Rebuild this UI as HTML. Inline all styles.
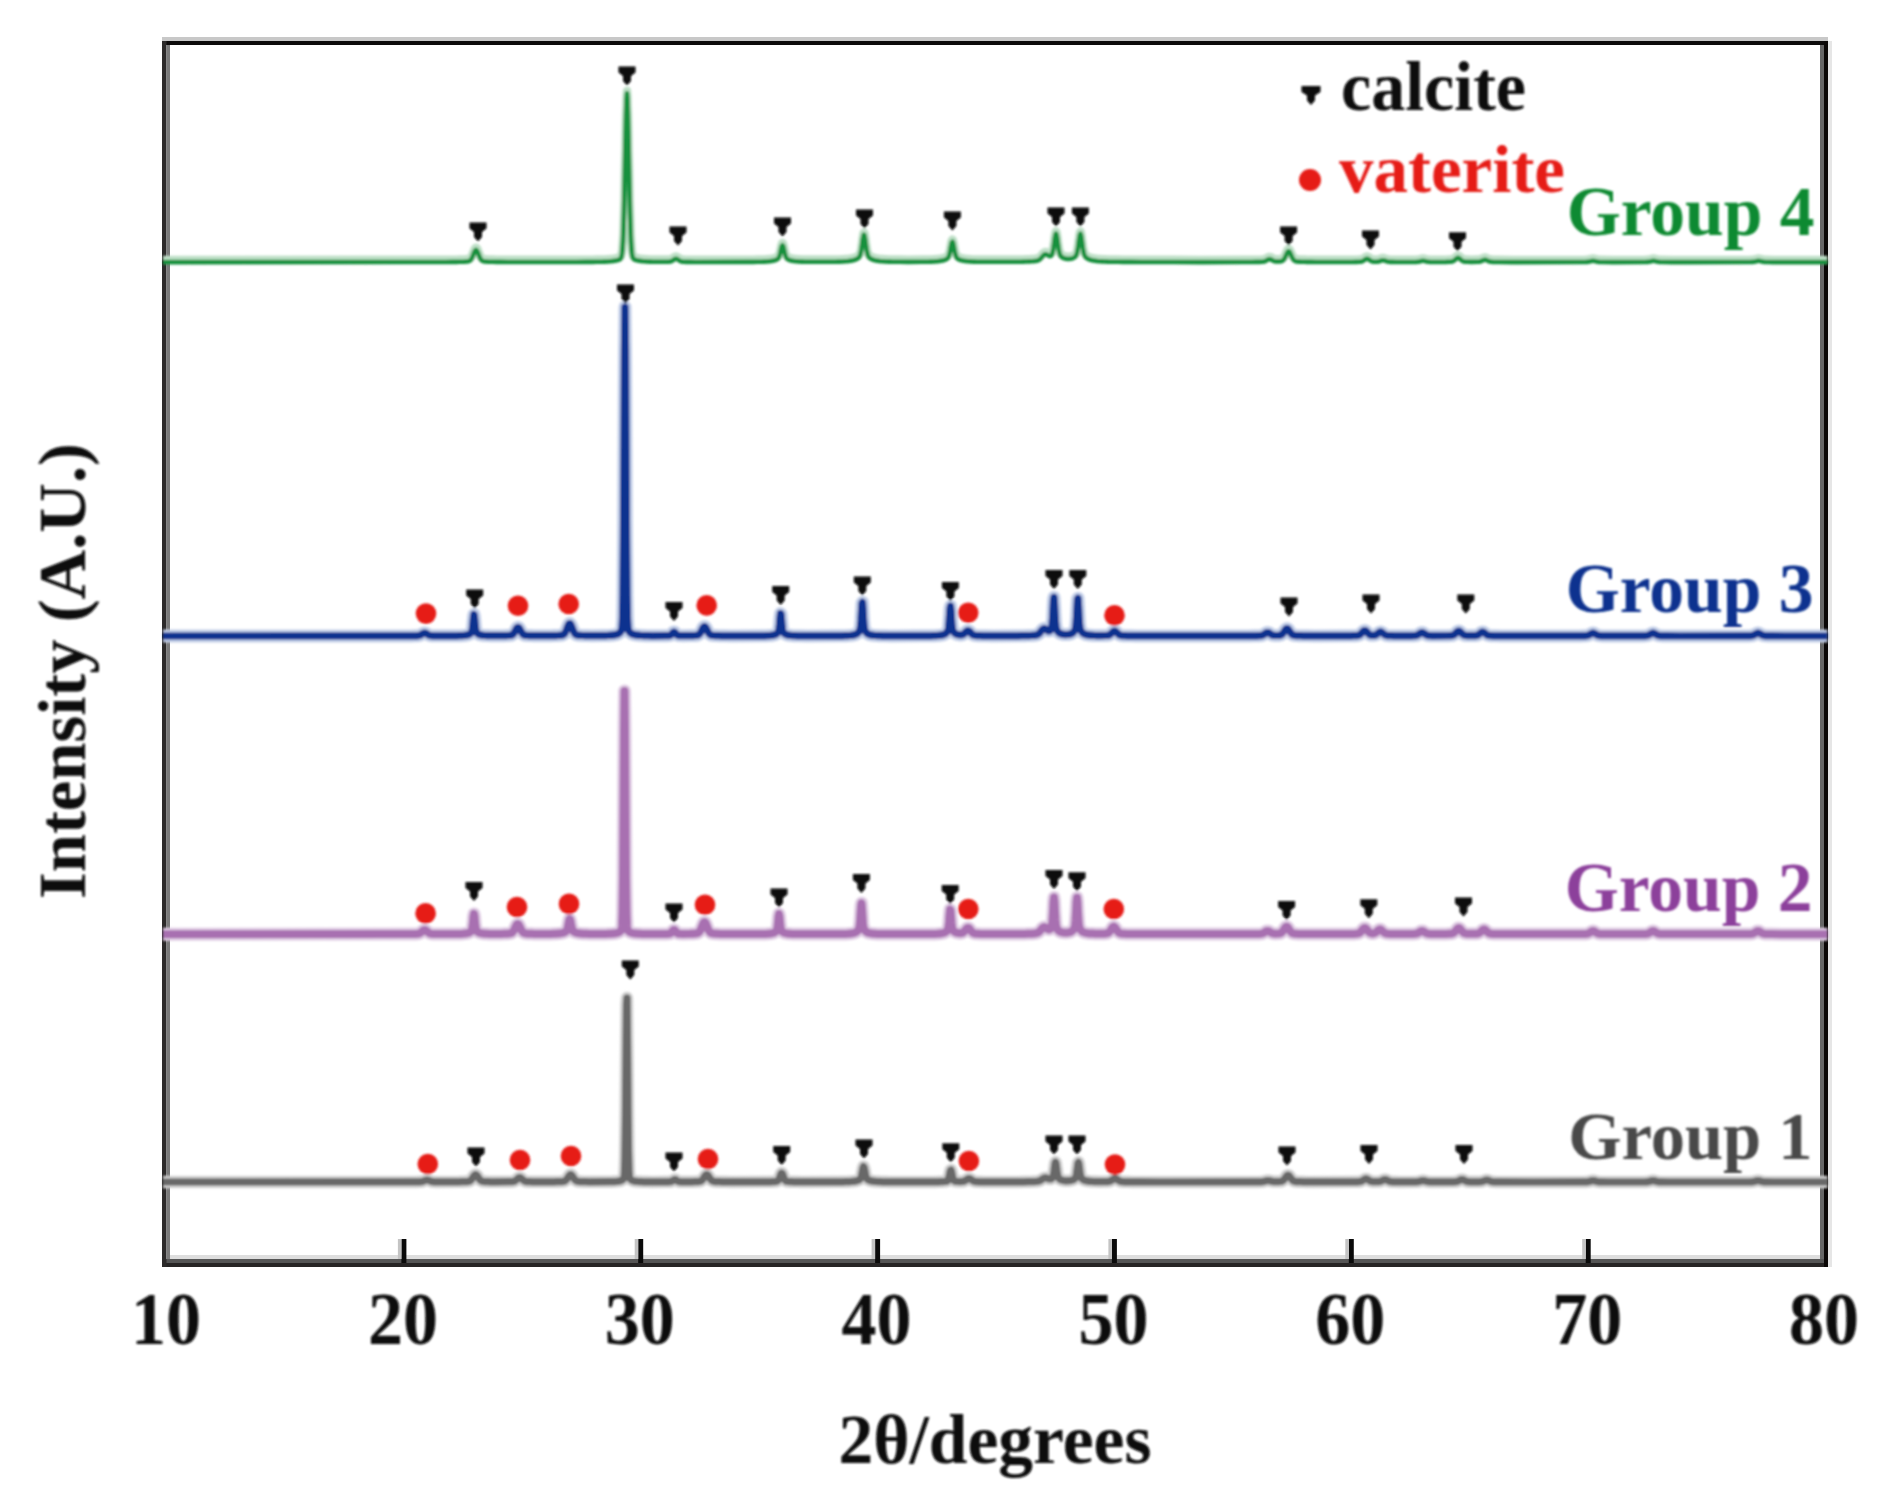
<!DOCTYPE html>
<html><head><meta charset="utf-8"><title>XRD patterns</title>
<style>
html,body{margin:0;padding:0;background:#fff;}
body{width:1882px;height:1490px;overflow:hidden;}
svg{display:block;}
text{font-family:"Liberation Serif","Times New Roman",serif;font-weight:bold;}
</style></head><body>
<svg width="1882" height="1490" viewBox="0 0 1882 1490">
<defs><filter id="b" x="-2%" y="-2%" width="104%" height="104%"><feGaussianBlur stdDeviation="1.1"/></filter></defs>
<rect width="1882" height="1490" fill="#fff"/>

<rect x="162" y="37" width="1666" height="4" fill="#c8c8c8"/>
<rect x="162" y="41" width="1666" height="4" fill="#0c0a0a"/>
<rect x="170" y="1255" width="1650" height="4" fill="#dedede"/>
<rect x="162" y="1259" width="1666" height="4" fill="#555"/>
<rect x="162" y="1263" width="1666" height="4" fill="#262424"/>
<rect x="162" y="41" width="4.5" height="1226" fill="#2c2a2a"/>
<rect x="166.5" y="45" width="3.5" height="1214" fill="#7a7a7a"/>
<rect x="1820" y="45" width="4" height="1214" fill="#666"/>
<rect x="1824" y="41" width="4" height="1226" fill="#0a0706"/>
<rect x="1828" y="41" width="4" height="1226" fill="#e6e6e6"/>
<rect x="401.4" y="1239" width="5" height="24" fill="#0a0a0a"/>
<rect x="397.9" y="1239" width="3.5" height="20" fill="#c4c4c4"/>
<rect x="638.2" y="1239" width="5" height="24" fill="#0a0a0a"/>
<rect x="634.7" y="1239" width="3.5" height="20" fill="#c4c4c4"/>
<rect x="875.1" y="1239" width="5" height="24" fill="#0a0a0a"/>
<rect x="871.6" y="1239" width="3.5" height="20" fill="#c4c4c4"/>
<rect x="1111.9" y="1239" width="5" height="24" fill="#0a0a0a"/>
<rect x="1108.4" y="1239" width="3.5" height="20" fill="#c4c4c4"/>
<rect x="1348.8" y="1239" width="5" height="24" fill="#0a0a0a"/>
<rect x="1345.3" y="1239" width="3.5" height="20" fill="#c4c4c4"/>
<rect x="1585.7" y="1239" width="5" height="24" fill="#0a0a0a"/>
<rect x="1582.2" y="1239" width="3.5" height="20" fill="#c4c4c4"/>
<g filter="url(#b)">
<path d="M163.0 1182.0 L407.5 1181.9 L416.5 1181.9 L419.5 1181.8 L420.5 1181.8 L421.0 1181.7 L421.5 1181.7 L422.0 1181.6 L422.5 1181.5 L423.0 1181.3 L423.5 1181.1 L424.0 1180.9 L424.5 1180.7 L425.0 1180.5 L425.5 1180.3 L426.0 1180.2 L426.5 1180.1 L427.5 1180.1 L428.0 1180.2 L428.5 1180.3 L429.0 1180.5 L429.5 1180.7 L430.0 1180.9 L430.5 1181.1 L431.0 1181.3 L431.5 1181.5 L432.0 1181.6 L432.5 1181.7 L433.0 1181.7 L434.0 1181.8 L436.0 1181.9 L459.0 1181.8 L462.0 1181.7 L464.0 1181.7 L465.5 1181.6 L467.0 1181.6 L467.5 1181.5 L468.0 1181.5 L468.5 1181.4 L469.0 1181.3 L469.5 1181.1 L470.0 1180.8 L470.5 1180.5 L471.0 1180.1 L471.5 1179.5 L472.0 1178.9 L472.5 1178.1 L473.0 1177.3 L473.5 1176.5 L474.0 1175.8 L474.5 1175.2 L475.0 1174.8 L475.5 1174.6 L476.0 1174.7 L476.5 1175.0 L477.0 1175.5 L477.5 1176.2 L478.0 1177.0 L478.5 1177.8 L479.0 1178.6 L479.5 1179.3 L480.0 1179.9 L480.5 1180.3 L481.0 1180.7 L481.5 1181.0 L482.0 1181.2 L482.5 1181.3 L483.0 1181.4 L483.5 1181.5 L484.5 1181.6 L486.0 1181.6 L488.0 1181.7 L490.5 1181.8 L495.0 1181.8 L509.0 1181.7 L511.0 1181.7 L512.0 1181.6 L512.5 1181.6 L513.0 1181.5 L513.5 1181.4 L514.0 1181.3 L514.5 1181.1 L515.0 1180.8 L515.5 1180.5 L516.0 1180.1 L516.5 1179.7 L517.0 1179.2 L517.5 1178.7 L518.0 1178.3 L518.5 1177.9 L519.0 1177.7 L519.5 1177.5 L520.0 1177.6 L520.5 1177.8 L521.0 1178.1 L521.5 1178.5 L522.0 1179.0 L522.5 1179.5 L523.0 1179.9 L523.5 1180.3 L524.0 1180.7 L524.5 1181.0 L525.0 1181.2 L525.5 1181.4 L526.0 1181.5 L526.5 1181.6 L527.0 1181.6 L528.0 1181.7 L529.5 1181.7 L532.5 1181.8 L538.5 1181.8 L554.0 1181.8 L557.0 1181.7 L559.0 1181.7 L560.5 1181.6 L562.0 1181.6 L562.5 1181.5 L563.0 1181.5 L563.5 1181.4 L564.0 1181.3 L564.5 1181.1 L565.0 1180.8 L565.5 1180.5 L566.0 1180.1 L566.5 1179.5 L567.0 1178.9 L567.5 1178.1 L568.0 1177.3 L568.5 1176.5 L569.0 1175.8 L569.5 1175.2 L570.0 1174.7 L570.5 1174.6 L571.0 1174.6 L571.5 1175.0 L572.0 1175.5 L572.5 1176.2 L573.0 1177.0 L573.5 1177.8 L574.0 1178.6 L574.5 1179.3 L575.0 1179.9 L575.5 1180.3 L576.0 1180.7 L576.5 1181.0 L577.0 1181.2 L577.5 1181.3 L578.0 1181.4 L578.5 1181.5 L579.5 1181.6 L581.0 1181.6 L583.0 1181.7 L585.5 1181.7 L589.5 1181.8 L610.0 1181.7 L612.0 1181.7 L613.5 1181.6 L615.0 1181.6 L616.0 1181.5 L617.0 1181.4 L617.5 1181.3 L618.0 1181.3 L618.5 1181.2 L619.0 1181.1 L619.5 1181.0 L620.0 1180.9 L620.5 1180.7 L621.0 1180.6 L621.5 1180.4 L622.0 1180.1 L622.5 1179.8 L623.0 1179.4 L623.5 1178.9 L624.0 1177.6 L624.5 1173.1 L625.0 1157.8 L625.5 1119.9 L626.0 1058.7 L626.5 1004.1 L627.0 998.0 L627.5 1045.8 L628.0 1109.0 L628.5 1152.3 L629.0 1171.3 L629.5 1177.1 L630.0 1178.7 L630.5 1179.3 L631.0 1179.7 L631.5 1180.0 L632.0 1180.3 L632.5 1180.5 L633.0 1180.7 L633.5 1180.9 L634.0 1181.0 L634.5 1181.1 L635.0 1181.2 L635.5 1181.3 L636.0 1181.3 L636.5 1181.4 L637.0 1181.4 L638.0 1181.5 L639.0 1181.6 L640.0 1181.6 L641.5 1181.7 L643.5 1181.8 L646.5 1181.8 L652.0 1181.9 L668.5 1181.8 L670.0 1181.7 L670.5 1181.7 L671.0 1181.6 L671.5 1181.4 L672.0 1181.2 L672.5 1180.9 L673.0 1180.5 L673.5 1180.1 L674.0 1179.8 L674.5 1179.6 L675.0 1179.5 L675.5 1179.6 L676.0 1179.9 L676.5 1180.3 L677.0 1180.7 L677.5 1181.0 L678.0 1181.3 L678.5 1181.5 L679.0 1181.6 L679.5 1181.7 L680.5 1181.8 L687.0 1181.8 L692.0 1181.8 L694.5 1181.7 L696.5 1181.6 L698.0 1181.6 L698.5 1181.5 L699.0 1181.5 L699.5 1181.4 L700.0 1181.3 L700.5 1181.1 L701.0 1180.9 L701.5 1180.6 L702.0 1180.2 L702.5 1179.7 L703.0 1179.0 L703.5 1178.3 L704.0 1177.5 L704.5 1176.7 L705.0 1175.9 L705.5 1175.3 L706.0 1174.8 L706.5 1174.6 L707.0 1174.6 L707.5 1174.9 L708.0 1175.4 L708.5 1176.1 L709.0 1176.9 L709.5 1177.7 L710.0 1178.5 L710.5 1179.2 L711.0 1179.8 L711.5 1180.3 L712.0 1180.7 L712.5 1181.0 L713.0 1181.2 L713.5 1181.3 L714.0 1181.4 L714.5 1181.5 L715.0 1181.6 L716.0 1181.6 L717.5 1181.7 L719.5 1181.7 L722.0 1181.8 L725.5 1181.8 L731.5 1181.9 L768.0 1181.8 L770.5 1181.8 L772.5 1181.7 L774.0 1181.6 L775.0 1181.6 L775.5 1181.5 L776.0 1181.5 L776.5 1181.4 L777.0 1181.2 L777.5 1181.0 L778.0 1180.6 L778.5 1179.9 L779.0 1179.0 L779.5 1177.7 L780.0 1176.3 L780.5 1174.9 L781.0 1173.7 L781.5 1173.1 L782.0 1173.2 L782.5 1173.9 L783.0 1175.1 L783.5 1176.6 L784.0 1178.0 L784.5 1179.2 L785.0 1180.1 L785.5 1180.7 L786.0 1181.1 L786.5 1181.3 L787.0 1181.4 L787.5 1181.5 L788.0 1181.5 L789.0 1181.6 L790.0 1181.7 L791.5 1181.7 L793.5 1181.8 L796.5 1181.8 L802.0 1181.9 L839.0 1181.8 L843.0 1181.8 L845.5 1181.7 L847.5 1181.7 L849.0 1181.6 L850.0 1181.6 L851.0 1181.5 L852.0 1181.4 L853.0 1181.3 L853.5 1181.3 L854.0 1181.2 L854.5 1181.1 L855.0 1181.1 L855.5 1181.0 L856.0 1180.9 L856.5 1180.8 L857.0 1180.6 L857.5 1180.5 L858.0 1180.3 L858.5 1180.1 L859.0 1179.9 L859.5 1179.6 L860.0 1179.2 L860.5 1178.5 L861.0 1177.4 L861.5 1175.6 L862.0 1173.1 L862.5 1170.3 L863.0 1167.8 L863.5 1166.6 L864.0 1167.2 L864.5 1169.2 L865.0 1172.0 L865.5 1174.7 L866.0 1176.7 L866.5 1178.1 L867.0 1178.9 L867.5 1179.4 L868.0 1179.8 L868.5 1180.0 L869.0 1180.2 L869.5 1180.4 L870.0 1180.6 L870.5 1180.7 L871.0 1180.8 L871.5 1180.9 L872.0 1181.0 L872.5 1181.1 L873.0 1181.2 L873.5 1181.2 L874.0 1181.3 L874.5 1181.4 L875.5 1181.4 L876.5 1181.5 L877.5 1181.6 L879.0 1181.6 L880.5 1181.7 L882.5 1181.8 L885.5 1181.8 L890.0 1181.9 L899.5 1181.9 L935.5 1181.9 L939.0 1181.8 L941.0 1181.7 L942.5 1181.7 L943.5 1181.6 L944.5 1181.5 L945.0 1181.5 L945.5 1181.4 L946.0 1181.4 L946.5 1181.3 L947.0 1181.1 L947.5 1180.8 L948.0 1180.1 L948.5 1178.9 L949.0 1176.9 L949.5 1174.4 L950.0 1171.9 L950.5 1170.2 L951.0 1170.0 L951.5 1171.5 L952.0 1173.9 L952.5 1176.4 L953.0 1178.5 L953.5 1179.9 L954.0 1180.6 L954.5 1181.0 L955.0 1181.2 L955.5 1181.3 L956.0 1181.4 L957.0 1181.5 L958.0 1181.5 L959.5 1181.6 L962.5 1181.5 L963.0 1181.4 L963.5 1181.3 L964.0 1181.2 L964.5 1181.0 L965.0 1180.7 L965.5 1180.4 L966.0 1180.1 L966.5 1179.7 L967.0 1179.3 L967.5 1179.0 L968.0 1178.7 L968.5 1178.6 L969.0 1178.5 L969.5 1178.6 L970.0 1178.8 L970.5 1179.0 L971.0 1179.4 L971.5 1179.7 L972.0 1180.1 L972.5 1180.5 L973.0 1180.8 L973.5 1181.0 L974.0 1181.2 L974.5 1181.4 L975.0 1181.5 L975.5 1181.6 L976.0 1181.7 L977.0 1181.7 L979.5 1181.8 L983.5 1181.9 L992.5 1181.9 L1018.0 1181.9 L1024.0 1181.8 L1028.0 1181.7 L1031.0 1181.7 L1033.0 1181.6 L1034.5 1181.6 L1036.0 1181.5 L1036.5 1181.5 L1037.0 1181.4 L1037.5 1181.3 L1038.0 1181.2 L1038.5 1181.1 L1039.0 1181.0 L1039.5 1180.8 L1040.0 1180.6 L1040.5 1180.3 L1041.0 1180.0 L1041.5 1179.7 L1042.0 1179.4 L1042.5 1179.0 L1043.0 1178.7 L1043.5 1178.4 L1044.0 1178.1 L1044.5 1177.9 L1045.0 1177.9 L1045.5 1177.8 L1046.0 1177.9 L1046.5 1178.0 L1047.0 1178.2 L1047.5 1178.4 L1048.0 1178.6 L1048.5 1178.8 L1049.0 1178.9 L1049.5 1179.0 L1050.5 1179.0 L1051.0 1178.9 L1051.5 1178.7 L1052.0 1178.3 L1052.5 1177.7 L1053.0 1176.6 L1053.5 1174.5 L1054.0 1171.2 L1054.5 1167.1 L1055.0 1163.5 L1055.5 1162.1 L1056.0 1163.5 L1056.5 1167.1 L1057.0 1171.3 L1057.5 1174.6 L1058.0 1176.7 L1058.5 1177.9 L1059.0 1178.5 L1059.5 1179.0 L1060.0 1179.3 L1060.5 1179.6 L1061.0 1179.8 L1061.5 1180.0 L1062.0 1180.1 L1062.5 1180.3 L1063.0 1180.4 L1063.5 1180.5 L1064.0 1180.6 L1064.5 1180.6 L1065.0 1180.7 L1066.0 1180.8 L1069.0 1180.7 L1069.5 1180.7 L1070.0 1180.6 L1070.5 1180.5 L1071.0 1180.4 L1071.5 1180.3 L1072.0 1180.2 L1072.5 1180.0 L1073.0 1179.8 L1073.5 1179.6 L1074.0 1179.3 L1074.5 1178.9 L1075.0 1178.5 L1075.5 1177.8 L1076.0 1176.4 L1076.5 1174.1 L1077.0 1170.6 L1077.5 1166.4 L1078.0 1163.1 L1078.5 1162.3 L1079.0 1164.3 L1079.5 1168.1 L1080.0 1172.2 L1080.5 1175.3 L1081.0 1177.1 L1081.5 1178.2 L1082.0 1178.8 L1082.5 1179.2 L1083.0 1179.5 L1083.5 1179.8 L1084.0 1180.1 L1084.5 1180.3 L1085.0 1180.4 L1085.5 1180.6 L1086.0 1180.7 L1086.5 1180.8 L1087.0 1180.9 L1087.5 1181.0 L1088.0 1181.1 L1088.5 1181.2 L1089.0 1181.2 L1089.5 1181.3 L1090.5 1181.4 L1091.5 1181.4 L1092.5 1181.5 L1094.0 1181.6 L1096.0 1181.6 L1099.0 1181.7 L1108.0 1181.6 L1108.5 1181.5 L1109.0 1181.4 L1109.5 1181.3 L1110.0 1181.2 L1110.5 1181.0 L1111.0 1180.7 L1111.5 1180.4 L1112.0 1180.1 L1112.5 1179.7 L1113.0 1179.3 L1113.5 1179.0 L1114.0 1178.7 L1114.5 1178.6 L1115.0 1178.5 L1115.5 1178.6 L1116.0 1178.7 L1116.5 1179.0 L1117.0 1179.3 L1117.5 1179.7 L1118.0 1180.1 L1118.5 1180.4 L1119.0 1180.7 L1119.5 1181.0 L1120.0 1181.2 L1120.5 1181.4 L1121.0 1181.5 L1121.5 1181.6 L1122.0 1181.6 L1123.0 1181.7 L1124.5 1181.8 L1127.5 1181.8 L1132.5 1181.9 L1139.5 1181.9 L1159.0 1182.0 L1250.5 1181.9 L1258.0 1181.9 L1261.0 1181.8 L1262.0 1181.7 L1262.5 1181.7 L1263.0 1181.6 L1263.5 1181.5 L1264.0 1181.4 L1264.5 1181.3 L1265.0 1181.1 L1265.5 1181.0 L1266.0 1180.8 L1266.5 1180.7 L1267.0 1180.6 L1267.5 1180.5 L1268.5 1180.5 L1269.0 1180.6 L1269.5 1180.7 L1270.0 1180.8 L1270.5 1180.9 L1271.0 1181.1 L1271.5 1181.2 L1272.0 1181.3 L1272.5 1181.4 L1273.0 1181.5 L1273.5 1181.6 L1274.5 1181.6 L1279.0 1181.6 L1280.0 1181.5 L1280.5 1181.5 L1281.0 1181.4 L1281.5 1181.3 L1282.0 1181.1 L1282.5 1180.9 L1283.0 1180.5 L1283.5 1180.1 L1284.0 1179.6 L1284.5 1179.0 L1285.0 1178.3 L1285.5 1177.5 L1286.0 1176.8 L1286.5 1176.2 L1287.0 1175.6 L1287.5 1175.3 L1288.0 1175.2 L1288.5 1175.3 L1289.0 1175.6 L1289.5 1176.2 L1290.0 1176.8 L1290.5 1177.6 L1291.0 1178.3 L1291.5 1179.0 L1292.0 1179.6 L1292.5 1180.1 L1293.0 1180.6 L1293.5 1180.9 L1294.0 1181.1 L1294.5 1181.3 L1295.0 1181.4 L1295.5 1181.5 L1296.0 1181.6 L1297.0 1181.6 L1298.5 1181.7 L1300.5 1181.7 L1303.0 1181.8 L1306.5 1181.9 L1313.0 1181.9 L1354.5 1181.8 L1357.5 1181.8 L1359.0 1181.7 L1359.5 1181.7 L1360.0 1181.6 L1360.5 1181.5 L1361.0 1181.3 L1361.5 1181.1 L1362.0 1180.9 L1362.5 1180.6 L1363.0 1180.3 L1363.5 1180.0 L1364.0 1179.7 L1364.5 1179.4 L1365.0 1179.1 L1365.5 1179.0 L1366.0 1178.9 L1366.5 1179.0 L1367.0 1179.1 L1367.5 1179.4 L1368.0 1179.7 L1368.5 1180.0 L1369.0 1180.3 L1369.5 1180.6 L1370.0 1180.9 L1370.5 1181.1 L1371.0 1181.3 L1371.5 1181.4 L1372.0 1181.5 L1372.5 1181.6 L1373.5 1181.7 L1378.5 1181.6 L1379.0 1181.6 L1379.5 1181.5 L1380.0 1181.4 L1380.5 1181.3 L1381.0 1181.1 L1381.5 1180.9 L1382.0 1180.6 L1382.5 1180.4 L1383.0 1180.1 L1383.5 1179.9 L1384.0 1179.7 L1384.5 1179.6 L1385.5 1179.6 L1386.0 1179.7 L1386.5 1179.9 L1387.0 1180.1 L1387.5 1180.4 L1388.0 1180.6 L1388.5 1180.9 L1389.0 1181.1 L1389.5 1181.3 L1390.0 1181.4 L1390.5 1181.6 L1391.0 1181.6 L1391.5 1181.7 L1392.5 1181.8 L1394.5 1181.8 L1399.5 1181.9 L1416.5 1181.8 L1417.5 1181.7 L1418.0 1181.7 L1418.5 1181.6 L1419.0 1181.5 L1419.5 1181.3 L1420.0 1181.2 L1420.5 1181.1 L1421.0 1180.9 L1421.5 1180.8 L1422.0 1180.7 L1422.5 1180.6 L1423.5 1180.6 L1424.0 1180.7 L1424.5 1180.8 L1425.0 1180.9 L1425.5 1181.1 L1426.0 1181.2 L1426.5 1181.3 L1427.0 1181.5 L1427.5 1181.6 L1428.0 1181.7 L1428.5 1181.7 L1429.5 1181.8 L1431.0 1181.9 L1454.0 1181.8 L1455.5 1181.7 L1456.0 1181.7 L1456.5 1181.6 L1457.0 1181.5 L1457.5 1181.3 L1458.0 1181.1 L1458.5 1180.9 L1459.0 1180.7 L1459.5 1180.4 L1460.0 1180.1 L1460.5 1179.9 L1461.0 1179.7 L1461.5 1179.6 L1462.5 1179.6 L1463.0 1179.7 L1463.5 1179.9 L1464.0 1180.1 L1464.5 1180.4 L1465.0 1180.7 L1465.5 1180.9 L1466.0 1181.1 L1466.5 1181.3 L1467.0 1181.5 L1467.5 1181.6 L1468.0 1181.7 L1468.5 1181.7 L1469.5 1181.8 L1472.0 1181.8 L1480.0 1181.8 L1480.5 1181.7 L1481.0 1181.7 L1481.5 1181.6 L1482.0 1181.5 L1482.5 1181.4 L1483.0 1181.2 L1483.5 1181.0 L1484.0 1180.8 L1484.5 1180.6 L1485.0 1180.4 L1485.5 1180.3 L1486.0 1180.1 L1486.5 1180.1 L1487.0 1180.1 L1487.5 1180.1 L1488.0 1180.2 L1488.5 1180.4 L1489.0 1180.6 L1489.5 1180.8 L1490.0 1181.0 L1490.5 1181.2 L1491.0 1181.4 L1491.5 1181.5 L1492.0 1181.6 L1492.5 1181.7 L1493.0 1181.8 L1494.0 1181.8 L1496.0 1181.9 L1502.0 1181.9 L1533.5 1182.0 L1583.0 1181.9 L1586.0 1181.9 L1587.0 1181.8 L1587.5 1181.8 L1588.0 1181.7 L1588.5 1181.6 L1589.0 1181.5 L1589.5 1181.4 L1590.0 1181.2 L1590.5 1181.1 L1591.0 1180.9 L1591.5 1180.8 L1592.0 1180.7 L1592.5 1180.6 L1593.5 1180.6 L1594.0 1180.7 L1594.5 1180.8 L1595.0 1180.9 L1595.5 1181.1 L1596.0 1181.2 L1596.5 1181.4 L1597.0 1181.5 L1597.5 1181.6 L1598.0 1181.7 L1598.5 1181.8 L1599.5 1181.9 L1601.0 1181.9 L1608.5 1182.0 L1645.5 1181.9 L1647.0 1181.8 L1647.5 1181.8 L1648.0 1181.7 L1648.5 1181.6 L1649.0 1181.5 L1649.5 1181.4 L1650.0 1181.2 L1650.5 1181.1 L1651.0 1180.9 L1651.5 1180.8 L1652.0 1180.7 L1652.5 1180.6 L1653.5 1180.6 L1654.0 1180.7 L1654.5 1180.8 L1655.0 1180.9 L1655.5 1181.1 L1656.0 1181.2 L1656.5 1181.4 L1657.0 1181.5 L1657.5 1181.6 L1658.0 1181.7 L1658.5 1181.8 L1659.5 1181.9 L1661.0 1181.9 L1668.0 1182.0 L1750.5 1181.9 L1752.0 1181.8 L1752.5 1181.8 L1753.0 1181.7 L1753.5 1181.6 L1754.0 1181.5 L1754.5 1181.4 L1755.0 1181.2 L1755.5 1181.1 L1756.0 1180.9 L1756.5 1180.8 L1757.0 1180.7 L1757.5 1180.6 L1758.5 1180.6 L1759.0 1180.7 L1759.5 1180.8 L1760.0 1180.9 L1760.5 1181.1 L1761.0 1181.2 L1761.5 1181.4 L1762.0 1181.5 L1762.5 1181.6 L1763.0 1181.7 L1763.5 1181.8 L1764.5 1181.9 L1766.0 1181.9 L1773.0 1182.0 L1827.5 1182.0" transform="translate(0 0.0)" fill="none" stroke="#d2d2d2" stroke-width="12.5" stroke-linejoin="round"/>
<path d="M163.0 1182.0 L407.5 1181.9 L416.5 1181.9 L419.5 1181.8 L420.5 1181.8 L421.0 1181.7 L421.5 1181.7 L422.0 1181.6 L422.5 1181.5 L423.0 1181.3 L423.5 1181.1 L424.0 1180.9 L424.5 1180.7 L425.0 1180.5 L425.5 1180.3 L426.0 1180.2 L426.5 1180.1 L427.5 1180.1 L428.0 1180.2 L428.5 1180.3 L429.0 1180.5 L429.5 1180.7 L430.0 1180.9 L430.5 1181.1 L431.0 1181.3 L431.5 1181.5 L432.0 1181.6 L432.5 1181.7 L433.0 1181.7 L434.0 1181.8 L436.0 1181.9 L459.0 1181.8 L462.0 1181.7 L464.0 1181.7 L465.5 1181.6 L467.0 1181.6 L467.5 1181.5 L468.0 1181.5 L468.5 1181.4 L469.0 1181.3 L469.5 1181.1 L470.0 1180.8 L470.5 1180.5 L471.0 1180.1 L471.5 1179.5 L472.0 1178.9 L472.5 1178.1 L473.0 1177.3 L473.5 1176.5 L474.0 1175.8 L474.5 1175.2 L475.0 1174.8 L475.5 1174.6 L476.0 1174.7 L476.5 1175.0 L477.0 1175.5 L477.5 1176.2 L478.0 1177.0 L478.5 1177.8 L479.0 1178.6 L479.5 1179.3 L480.0 1179.9 L480.5 1180.3 L481.0 1180.7 L481.5 1181.0 L482.0 1181.2 L482.5 1181.3 L483.0 1181.4 L483.5 1181.5 L484.5 1181.6 L486.0 1181.6 L488.0 1181.7 L490.5 1181.8 L495.0 1181.8 L509.0 1181.7 L511.0 1181.7 L512.0 1181.6 L512.5 1181.6 L513.0 1181.5 L513.5 1181.4 L514.0 1181.3 L514.5 1181.1 L515.0 1180.8 L515.5 1180.5 L516.0 1180.1 L516.5 1179.7 L517.0 1179.2 L517.5 1178.7 L518.0 1178.3 L518.5 1177.9 L519.0 1177.7 L519.5 1177.5 L520.0 1177.6 L520.5 1177.8 L521.0 1178.1 L521.5 1178.5 L522.0 1179.0 L522.5 1179.5 L523.0 1179.9 L523.5 1180.3 L524.0 1180.7 L524.5 1181.0 L525.0 1181.2 L525.5 1181.4 L526.0 1181.5 L526.5 1181.6 L527.0 1181.6 L528.0 1181.7 L529.5 1181.7 L532.5 1181.8 L538.5 1181.8 L554.0 1181.8 L557.0 1181.7 L559.0 1181.7 L560.5 1181.6 L562.0 1181.6 L562.5 1181.5 L563.0 1181.5 L563.5 1181.4 L564.0 1181.3 L564.5 1181.1 L565.0 1180.8 L565.5 1180.5 L566.0 1180.1 L566.5 1179.5 L567.0 1178.9 L567.5 1178.1 L568.0 1177.3 L568.5 1176.5 L569.0 1175.8 L569.5 1175.2 L570.0 1174.7 L570.5 1174.6 L571.0 1174.6 L571.5 1175.0 L572.0 1175.5 L572.5 1176.2 L573.0 1177.0 L573.5 1177.8 L574.0 1178.6 L574.5 1179.3 L575.0 1179.9 L575.5 1180.3 L576.0 1180.7 L576.5 1181.0 L577.0 1181.2 L577.5 1181.3 L578.0 1181.4 L578.5 1181.5 L579.5 1181.6 L581.0 1181.6 L583.0 1181.7 L585.5 1181.7 L589.5 1181.8 L610.0 1181.7 L612.0 1181.7 L613.5 1181.6 L615.0 1181.6 L616.0 1181.5 L617.0 1181.4 L617.5 1181.3 L618.0 1181.3 L618.5 1181.2 L619.0 1181.1 L619.5 1181.0 L620.0 1180.9 L620.5 1180.7 L621.0 1180.6 L621.5 1180.4 L622.0 1180.1 L622.5 1179.8 L623.0 1179.4 L623.5 1178.9 L624.0 1177.6 L624.5 1173.1 L625.0 1157.8 L625.5 1119.9 L626.0 1058.7 L626.5 1004.1 L627.0 998.0 L627.5 1045.8 L628.0 1109.0 L628.5 1152.3 L629.0 1171.3 L629.5 1177.1 L630.0 1178.7 L630.5 1179.3 L631.0 1179.7 L631.5 1180.0 L632.0 1180.3 L632.5 1180.5 L633.0 1180.7 L633.5 1180.9 L634.0 1181.0 L634.5 1181.1 L635.0 1181.2 L635.5 1181.3 L636.0 1181.3 L636.5 1181.4 L637.0 1181.4 L638.0 1181.5 L639.0 1181.6 L640.0 1181.6 L641.5 1181.7 L643.5 1181.8 L646.5 1181.8 L652.0 1181.9 L668.5 1181.8 L670.0 1181.7 L670.5 1181.7 L671.0 1181.6 L671.5 1181.4 L672.0 1181.2 L672.5 1180.9 L673.0 1180.5 L673.5 1180.1 L674.0 1179.8 L674.5 1179.6 L675.0 1179.5 L675.5 1179.6 L676.0 1179.9 L676.5 1180.3 L677.0 1180.7 L677.5 1181.0 L678.0 1181.3 L678.5 1181.5 L679.0 1181.6 L679.5 1181.7 L680.5 1181.8 L687.0 1181.8 L692.0 1181.8 L694.5 1181.7 L696.5 1181.6 L698.0 1181.6 L698.5 1181.5 L699.0 1181.5 L699.5 1181.4 L700.0 1181.3 L700.5 1181.1 L701.0 1180.9 L701.5 1180.6 L702.0 1180.2 L702.5 1179.7 L703.0 1179.0 L703.5 1178.3 L704.0 1177.5 L704.5 1176.7 L705.0 1175.9 L705.5 1175.3 L706.0 1174.8 L706.5 1174.6 L707.0 1174.6 L707.5 1174.9 L708.0 1175.4 L708.5 1176.1 L709.0 1176.9 L709.5 1177.7 L710.0 1178.5 L710.5 1179.2 L711.0 1179.8 L711.5 1180.3 L712.0 1180.7 L712.5 1181.0 L713.0 1181.2 L713.5 1181.3 L714.0 1181.4 L714.5 1181.5 L715.0 1181.6 L716.0 1181.6 L717.5 1181.7 L719.5 1181.7 L722.0 1181.8 L725.5 1181.8 L731.5 1181.9 L768.0 1181.8 L770.5 1181.8 L772.5 1181.7 L774.0 1181.6 L775.0 1181.6 L775.5 1181.5 L776.0 1181.5 L776.5 1181.4 L777.0 1181.2 L777.5 1181.0 L778.0 1180.6 L778.5 1179.9 L779.0 1179.0 L779.5 1177.7 L780.0 1176.3 L780.5 1174.9 L781.0 1173.7 L781.5 1173.1 L782.0 1173.2 L782.5 1173.9 L783.0 1175.1 L783.5 1176.6 L784.0 1178.0 L784.5 1179.2 L785.0 1180.1 L785.5 1180.7 L786.0 1181.1 L786.5 1181.3 L787.0 1181.4 L787.5 1181.5 L788.0 1181.5 L789.0 1181.6 L790.0 1181.7 L791.5 1181.7 L793.5 1181.8 L796.5 1181.8 L802.0 1181.9 L839.0 1181.8 L843.0 1181.8 L845.5 1181.7 L847.5 1181.7 L849.0 1181.6 L850.0 1181.6 L851.0 1181.5 L852.0 1181.4 L853.0 1181.3 L853.5 1181.3 L854.0 1181.2 L854.5 1181.1 L855.0 1181.1 L855.5 1181.0 L856.0 1180.9 L856.5 1180.8 L857.0 1180.6 L857.5 1180.5 L858.0 1180.3 L858.5 1180.1 L859.0 1179.9 L859.5 1179.6 L860.0 1179.2 L860.5 1178.5 L861.0 1177.4 L861.5 1175.6 L862.0 1173.1 L862.5 1170.3 L863.0 1167.8 L863.5 1166.6 L864.0 1167.2 L864.5 1169.2 L865.0 1172.0 L865.5 1174.7 L866.0 1176.7 L866.5 1178.1 L867.0 1178.9 L867.5 1179.4 L868.0 1179.8 L868.5 1180.0 L869.0 1180.2 L869.5 1180.4 L870.0 1180.6 L870.5 1180.7 L871.0 1180.8 L871.5 1180.9 L872.0 1181.0 L872.5 1181.1 L873.0 1181.2 L873.5 1181.2 L874.0 1181.3 L874.5 1181.4 L875.5 1181.4 L876.5 1181.5 L877.5 1181.6 L879.0 1181.6 L880.5 1181.7 L882.5 1181.8 L885.5 1181.8 L890.0 1181.9 L899.5 1181.9 L935.5 1181.9 L939.0 1181.8 L941.0 1181.7 L942.5 1181.7 L943.5 1181.6 L944.5 1181.5 L945.0 1181.5 L945.5 1181.4 L946.0 1181.4 L946.5 1181.3 L947.0 1181.1 L947.5 1180.8 L948.0 1180.1 L948.5 1178.9 L949.0 1176.9 L949.5 1174.4 L950.0 1171.9 L950.5 1170.2 L951.0 1170.0 L951.5 1171.5 L952.0 1173.9 L952.5 1176.4 L953.0 1178.5 L953.5 1179.9 L954.0 1180.6 L954.5 1181.0 L955.0 1181.2 L955.5 1181.3 L956.0 1181.4 L957.0 1181.5 L958.0 1181.5 L959.5 1181.6 L962.5 1181.5 L963.0 1181.4 L963.5 1181.3 L964.0 1181.2 L964.5 1181.0 L965.0 1180.7 L965.5 1180.4 L966.0 1180.1 L966.5 1179.7 L967.0 1179.3 L967.5 1179.0 L968.0 1178.7 L968.5 1178.6 L969.0 1178.5 L969.5 1178.6 L970.0 1178.8 L970.5 1179.0 L971.0 1179.4 L971.5 1179.7 L972.0 1180.1 L972.5 1180.5 L973.0 1180.8 L973.5 1181.0 L974.0 1181.2 L974.5 1181.4 L975.0 1181.5 L975.5 1181.6 L976.0 1181.7 L977.0 1181.7 L979.5 1181.8 L983.5 1181.9 L992.5 1181.9 L1018.0 1181.9 L1024.0 1181.8 L1028.0 1181.7 L1031.0 1181.7 L1033.0 1181.6 L1034.5 1181.6 L1036.0 1181.5 L1036.5 1181.5 L1037.0 1181.4 L1037.5 1181.3 L1038.0 1181.2 L1038.5 1181.1 L1039.0 1181.0 L1039.5 1180.8 L1040.0 1180.6 L1040.5 1180.3 L1041.0 1180.0 L1041.5 1179.7 L1042.0 1179.4 L1042.5 1179.0 L1043.0 1178.7 L1043.5 1178.4 L1044.0 1178.1 L1044.5 1177.9 L1045.0 1177.9 L1045.5 1177.8 L1046.0 1177.9 L1046.5 1178.0 L1047.0 1178.2 L1047.5 1178.4 L1048.0 1178.6 L1048.5 1178.8 L1049.0 1178.9 L1049.5 1179.0 L1050.5 1179.0 L1051.0 1178.9 L1051.5 1178.7 L1052.0 1178.3 L1052.5 1177.7 L1053.0 1176.6 L1053.5 1174.5 L1054.0 1171.2 L1054.5 1167.1 L1055.0 1163.5 L1055.5 1162.1 L1056.0 1163.5 L1056.5 1167.1 L1057.0 1171.3 L1057.5 1174.6 L1058.0 1176.7 L1058.5 1177.9 L1059.0 1178.5 L1059.5 1179.0 L1060.0 1179.3 L1060.5 1179.6 L1061.0 1179.8 L1061.5 1180.0 L1062.0 1180.1 L1062.5 1180.3 L1063.0 1180.4 L1063.5 1180.5 L1064.0 1180.6 L1064.5 1180.6 L1065.0 1180.7 L1066.0 1180.8 L1069.0 1180.7 L1069.5 1180.7 L1070.0 1180.6 L1070.5 1180.5 L1071.0 1180.4 L1071.5 1180.3 L1072.0 1180.2 L1072.5 1180.0 L1073.0 1179.8 L1073.5 1179.6 L1074.0 1179.3 L1074.5 1178.9 L1075.0 1178.5 L1075.5 1177.8 L1076.0 1176.4 L1076.5 1174.1 L1077.0 1170.6 L1077.5 1166.4 L1078.0 1163.1 L1078.5 1162.3 L1079.0 1164.3 L1079.5 1168.1 L1080.0 1172.2 L1080.5 1175.3 L1081.0 1177.1 L1081.5 1178.2 L1082.0 1178.8 L1082.5 1179.2 L1083.0 1179.5 L1083.5 1179.8 L1084.0 1180.1 L1084.5 1180.3 L1085.0 1180.4 L1085.5 1180.6 L1086.0 1180.7 L1086.5 1180.8 L1087.0 1180.9 L1087.5 1181.0 L1088.0 1181.1 L1088.5 1181.2 L1089.0 1181.2 L1089.5 1181.3 L1090.5 1181.4 L1091.5 1181.4 L1092.5 1181.5 L1094.0 1181.6 L1096.0 1181.6 L1099.0 1181.7 L1108.0 1181.6 L1108.5 1181.5 L1109.0 1181.4 L1109.5 1181.3 L1110.0 1181.2 L1110.5 1181.0 L1111.0 1180.7 L1111.5 1180.4 L1112.0 1180.1 L1112.5 1179.7 L1113.0 1179.3 L1113.5 1179.0 L1114.0 1178.7 L1114.5 1178.6 L1115.0 1178.5 L1115.5 1178.6 L1116.0 1178.7 L1116.5 1179.0 L1117.0 1179.3 L1117.5 1179.7 L1118.0 1180.1 L1118.5 1180.4 L1119.0 1180.7 L1119.5 1181.0 L1120.0 1181.2 L1120.5 1181.4 L1121.0 1181.5 L1121.5 1181.6 L1122.0 1181.6 L1123.0 1181.7 L1124.5 1181.8 L1127.5 1181.8 L1132.5 1181.9 L1139.5 1181.9 L1159.0 1182.0 L1250.5 1181.9 L1258.0 1181.9 L1261.0 1181.8 L1262.0 1181.7 L1262.5 1181.7 L1263.0 1181.6 L1263.5 1181.5 L1264.0 1181.4 L1264.5 1181.3 L1265.0 1181.1 L1265.5 1181.0 L1266.0 1180.8 L1266.5 1180.7 L1267.0 1180.6 L1267.5 1180.5 L1268.5 1180.5 L1269.0 1180.6 L1269.5 1180.7 L1270.0 1180.8 L1270.5 1180.9 L1271.0 1181.1 L1271.5 1181.2 L1272.0 1181.3 L1272.5 1181.4 L1273.0 1181.5 L1273.5 1181.6 L1274.5 1181.6 L1279.0 1181.6 L1280.0 1181.5 L1280.5 1181.5 L1281.0 1181.4 L1281.5 1181.3 L1282.0 1181.1 L1282.5 1180.9 L1283.0 1180.5 L1283.5 1180.1 L1284.0 1179.6 L1284.5 1179.0 L1285.0 1178.3 L1285.5 1177.5 L1286.0 1176.8 L1286.5 1176.2 L1287.0 1175.6 L1287.5 1175.3 L1288.0 1175.2 L1288.5 1175.3 L1289.0 1175.6 L1289.5 1176.2 L1290.0 1176.8 L1290.5 1177.6 L1291.0 1178.3 L1291.5 1179.0 L1292.0 1179.6 L1292.5 1180.1 L1293.0 1180.6 L1293.5 1180.9 L1294.0 1181.1 L1294.5 1181.3 L1295.0 1181.4 L1295.5 1181.5 L1296.0 1181.6 L1297.0 1181.6 L1298.5 1181.7 L1300.5 1181.7 L1303.0 1181.8 L1306.5 1181.9 L1313.0 1181.9 L1354.5 1181.8 L1357.5 1181.8 L1359.0 1181.7 L1359.5 1181.7 L1360.0 1181.6 L1360.5 1181.5 L1361.0 1181.3 L1361.5 1181.1 L1362.0 1180.9 L1362.5 1180.6 L1363.0 1180.3 L1363.5 1180.0 L1364.0 1179.7 L1364.5 1179.4 L1365.0 1179.1 L1365.5 1179.0 L1366.0 1178.9 L1366.5 1179.0 L1367.0 1179.1 L1367.5 1179.4 L1368.0 1179.7 L1368.5 1180.0 L1369.0 1180.3 L1369.5 1180.6 L1370.0 1180.9 L1370.5 1181.1 L1371.0 1181.3 L1371.5 1181.4 L1372.0 1181.5 L1372.5 1181.6 L1373.5 1181.7 L1378.5 1181.6 L1379.0 1181.6 L1379.5 1181.5 L1380.0 1181.4 L1380.5 1181.3 L1381.0 1181.1 L1381.5 1180.9 L1382.0 1180.6 L1382.5 1180.4 L1383.0 1180.1 L1383.5 1179.9 L1384.0 1179.7 L1384.5 1179.6 L1385.5 1179.6 L1386.0 1179.7 L1386.5 1179.9 L1387.0 1180.1 L1387.5 1180.4 L1388.0 1180.6 L1388.5 1180.9 L1389.0 1181.1 L1389.5 1181.3 L1390.0 1181.4 L1390.5 1181.6 L1391.0 1181.6 L1391.5 1181.7 L1392.5 1181.8 L1394.5 1181.8 L1399.5 1181.9 L1416.5 1181.8 L1417.5 1181.7 L1418.0 1181.7 L1418.5 1181.6 L1419.0 1181.5 L1419.5 1181.3 L1420.0 1181.2 L1420.5 1181.1 L1421.0 1180.9 L1421.5 1180.8 L1422.0 1180.7 L1422.5 1180.6 L1423.5 1180.6 L1424.0 1180.7 L1424.5 1180.8 L1425.0 1180.9 L1425.5 1181.1 L1426.0 1181.2 L1426.5 1181.3 L1427.0 1181.5 L1427.5 1181.6 L1428.0 1181.7 L1428.5 1181.7 L1429.5 1181.8 L1431.0 1181.9 L1454.0 1181.8 L1455.5 1181.7 L1456.0 1181.7 L1456.5 1181.6 L1457.0 1181.5 L1457.5 1181.3 L1458.0 1181.1 L1458.5 1180.9 L1459.0 1180.7 L1459.5 1180.4 L1460.0 1180.1 L1460.5 1179.9 L1461.0 1179.7 L1461.5 1179.6 L1462.5 1179.6 L1463.0 1179.7 L1463.5 1179.9 L1464.0 1180.1 L1464.5 1180.4 L1465.0 1180.7 L1465.5 1180.9 L1466.0 1181.1 L1466.5 1181.3 L1467.0 1181.5 L1467.5 1181.6 L1468.0 1181.7 L1468.5 1181.7 L1469.5 1181.8 L1472.0 1181.8 L1480.0 1181.8 L1480.5 1181.7 L1481.0 1181.7 L1481.5 1181.6 L1482.0 1181.5 L1482.5 1181.4 L1483.0 1181.2 L1483.5 1181.0 L1484.0 1180.8 L1484.5 1180.6 L1485.0 1180.4 L1485.5 1180.3 L1486.0 1180.1 L1486.5 1180.1 L1487.0 1180.1 L1487.5 1180.1 L1488.0 1180.2 L1488.5 1180.4 L1489.0 1180.6 L1489.5 1180.8 L1490.0 1181.0 L1490.5 1181.2 L1491.0 1181.4 L1491.5 1181.5 L1492.0 1181.6 L1492.5 1181.7 L1493.0 1181.8 L1494.0 1181.8 L1496.0 1181.9 L1502.0 1181.9 L1533.5 1182.0 L1583.0 1181.9 L1586.0 1181.9 L1587.0 1181.8 L1587.5 1181.8 L1588.0 1181.7 L1588.5 1181.6 L1589.0 1181.5 L1589.5 1181.4 L1590.0 1181.2 L1590.5 1181.1 L1591.0 1180.9 L1591.5 1180.8 L1592.0 1180.7 L1592.5 1180.6 L1593.5 1180.6 L1594.0 1180.7 L1594.5 1180.8 L1595.0 1180.9 L1595.5 1181.1 L1596.0 1181.2 L1596.5 1181.4 L1597.0 1181.5 L1597.5 1181.6 L1598.0 1181.7 L1598.5 1181.8 L1599.5 1181.9 L1601.0 1181.9 L1608.5 1182.0 L1645.5 1181.9 L1647.0 1181.8 L1647.5 1181.8 L1648.0 1181.7 L1648.5 1181.6 L1649.0 1181.5 L1649.5 1181.4 L1650.0 1181.2 L1650.5 1181.1 L1651.0 1180.9 L1651.5 1180.8 L1652.0 1180.7 L1652.5 1180.6 L1653.5 1180.6 L1654.0 1180.7 L1654.5 1180.8 L1655.0 1180.9 L1655.5 1181.1 L1656.0 1181.2 L1656.5 1181.4 L1657.0 1181.5 L1657.5 1181.6 L1658.0 1181.7 L1658.5 1181.8 L1659.5 1181.9 L1661.0 1181.9 L1668.0 1182.0 L1750.5 1181.9 L1752.0 1181.8 L1752.5 1181.8 L1753.0 1181.7 L1753.5 1181.6 L1754.0 1181.5 L1754.5 1181.4 L1755.0 1181.2 L1755.5 1181.1 L1756.0 1180.9 L1756.5 1180.8 L1757.0 1180.7 L1757.5 1180.6 L1758.5 1180.6 L1759.0 1180.7 L1759.5 1180.8 L1760.0 1180.9 L1760.5 1181.1 L1761.0 1181.2 L1761.5 1181.4 L1762.0 1181.5 L1762.5 1181.6 L1763.0 1181.7 L1763.5 1181.8 L1764.5 1181.9 L1766.0 1181.9 L1773.0 1182.0 L1827.5 1182.0" fill="none" stroke="#686868" stroke-width="7.2" stroke-linejoin="round"/>
<path d="M163.0 934.2 L398.5 934.1 L408.0 934.1 L412.5 934.0 L414.5 934.0 L416.5 933.9 L417.5 933.8 L418.0 933.8 L418.5 933.7 L419.0 933.5 L419.5 933.3 L420.0 933.1 L420.5 932.8 L421.0 932.4 L421.5 932.0 L422.0 931.5 L422.5 931.1 L423.0 930.7 L423.5 930.3 L424.0 930.1 L424.5 930.0 L425.0 930.0 L425.5 930.2 L426.0 930.5 L426.5 930.9 L427.0 931.3 L427.5 931.8 L428.0 932.2 L428.5 932.6 L429.0 933.0 L429.5 933.2 L430.0 933.5 L430.5 933.6 L431.0 933.7 L431.5 933.8 L432.0 933.9 L433.0 933.9 L435.0 934.0 L439.0 934.0 L457.0 934.0 L459.5 933.9 L461.0 933.9 L462.5 933.8 L463.5 933.7 L464.5 933.6 L465.0 933.6 L465.5 933.5 L466.0 933.5 L466.5 933.4 L467.0 933.3 L467.5 933.2 L468.0 933.0 L468.5 932.9 L469.0 932.7 L469.5 932.4 L470.0 932.1 L470.5 931.8 L471.0 931.3 L471.5 930.6 L472.0 929.3 L472.5 926.6 L473.0 921.8 L473.5 916.4 L474.0 913.9 L474.5 916.4 L475.0 921.8 L475.5 926.6 L476.0 929.3 L476.5 930.6 L477.0 931.3 L477.5 931.7 L478.0 932.1 L478.5 932.4 L479.0 932.6 L479.5 932.8 L480.0 933.0 L480.5 933.1 L481.0 933.2 L481.5 933.3 L482.0 933.4 L482.5 933.5 L483.0 933.5 L483.5 933.6 L484.5 933.7 L485.5 933.7 L487.0 933.8 L489.0 933.9 L493.0 933.9 L501.5 933.9 L504.0 933.8 L506.0 933.7 L507.5 933.7 L508.5 933.6 L509.0 933.6 L509.5 933.5 L510.0 933.4 L510.5 933.3 L511.0 933.2 L511.5 933.0 L512.0 932.7 L512.5 932.2 L513.0 931.7 L513.5 930.9 L514.0 930.1 L514.5 929.1 L515.0 928.0 L515.5 926.9 L516.0 925.8 L516.5 924.9 L517.0 924.3 L517.5 924.0 L518.0 924.0 L518.5 924.4 L519.0 925.1 L519.5 926.0 L520.0 927.1 L520.5 928.2 L521.0 929.3 L521.5 930.3 L522.0 931.1 L522.5 931.8 L523.0 932.3 L523.5 932.7 L524.0 933.0 L524.5 933.2 L525.0 933.4 L525.5 933.5 L526.0 933.5 L526.5 933.6 L527.5 933.7 L528.5 933.7 L530.0 933.8 L532.0 933.8 L534.0 933.9 L538.0 933.9 L551.0 933.9 L553.5 933.8 L555.0 933.8 L556.5 933.7 L557.5 933.6 L558.5 933.6 L559.0 933.5 L559.5 933.5 L560.0 933.4 L560.5 933.3 L561.0 933.3 L561.5 933.2 L562.0 933.1 L562.5 933.0 L563.0 932.8 L563.5 932.7 L564.0 932.5 L564.5 932.3 L565.0 932.1 L565.5 931.8 L566.0 931.4 L566.5 930.8 L567.0 929.8 L567.5 928.2 L568.0 925.9 L568.5 923.1 L569.0 920.6 L569.5 919.1 L570.0 919.3 L570.5 921.0 L571.0 923.7 L571.5 926.4 L572.0 928.6 L572.5 930.1 L573.0 931.0 L573.5 931.5 L574.0 931.9 L574.5 932.1 L575.0 932.4 L575.5 932.5 L576.0 932.7 L576.5 932.8 L577.0 933.0 L577.5 933.1 L578.0 933.2 L578.5 933.3 L579.0 933.3 L579.5 933.4 L580.0 933.4 L580.5 933.5 L581.5 933.6 L582.5 933.7 L583.5 933.7 L585.0 933.8 L586.5 933.8 L589.0 933.9 L593.0 933.9 L606.0 933.9 L608.5 933.8 L610.0 933.8 L611.5 933.7 L612.5 933.6 L613.5 933.5 L614.0 933.5 L614.5 933.4 L615.0 933.4 L615.5 933.3 L616.0 933.2 L616.5 933.1 L617.0 933.0 L617.5 932.8 L618.0 932.6 L618.5 932.4 L619.0 932.2 L619.5 931.9 L620.0 931.5 L620.5 931.1 L621.0 930.5 L621.5 929.4 L622.0 926.0 L622.5 913.6 L623.0 878.0 L623.5 809.1 L624.0 728.5 L624.5 690.9 L625.0 728.5 L625.5 809.1 L626.0 878.0 L626.5 913.6 L627.0 926.0 L627.5 929.4 L628.0 930.5 L628.5 931.1 L629.0 931.5 L629.5 931.9 L630.0 932.2 L630.5 932.4 L631.0 932.6 L631.5 932.8 L632.0 933.0 L632.5 933.1 L633.0 933.2 L633.5 933.3 L634.0 933.4 L634.5 933.4 L635.0 933.5 L635.5 933.6 L636.5 933.6 L637.5 933.7 L638.5 933.8 L640.0 933.8 L642.0 933.9 L644.5 933.9 L649.0 934.0 L665.5 933.9 L667.5 933.9 L668.5 933.8 L669.0 933.8 L669.5 933.7 L670.0 933.6 L670.5 933.3 L671.0 932.9 L671.5 932.4 L672.0 931.8 L672.5 931.1 L673.0 930.5 L673.5 930.0 L674.0 929.9 L674.5 930.0 L675.0 930.5 L675.5 931.1 L676.0 931.8 L676.5 932.4 L677.0 932.9 L677.5 933.3 L678.0 933.5 L678.5 933.7 L679.0 933.7 L680.0 933.8 L682.5 933.9 L690.0 933.8 L692.0 933.7 L693.5 933.7 L694.5 933.6 L695.5 933.5 L696.0 933.5 L696.5 933.4 L697.0 933.3 L697.5 933.2 L698.0 932.9 L698.5 932.6 L699.0 932.2 L699.5 931.6 L700.0 930.9 L700.5 930.0 L701.0 928.8 L701.5 927.6 L702.0 926.3 L702.5 925.0 L703.0 923.8 L703.5 922.8 L704.0 922.2 L704.5 922.0 L705.0 922.2 L705.5 922.8 L706.0 923.8 L706.5 925.0 L707.0 926.3 L707.5 927.6 L708.0 928.9 L708.5 930.0 L709.0 930.9 L709.5 931.7 L710.0 932.2 L710.5 932.7 L711.0 933.0 L711.5 933.2 L712.0 933.3 L712.5 933.4 L713.0 933.5 L713.5 933.6 L714.5 933.6 L715.5 933.7 L716.5 933.8 L718.0 933.8 L720.0 933.9 L722.0 933.9 L725.0 934.0 L729.5 934.0 L738.5 934.1 L759.5 934.0 L763.0 934.0 L765.0 933.9 L766.5 933.9 L767.5 933.8 L768.5 933.7 L769.5 933.7 L770.0 933.6 L770.5 933.5 L771.0 933.5 L771.5 933.4 L772.0 933.3 L772.5 933.2 L773.0 933.0 L773.5 932.9 L774.0 932.7 L774.5 932.4 L775.0 932.1 L775.5 931.8 L776.0 931.3 L776.5 930.7 L777.0 929.4 L777.5 926.6 L778.0 921.8 L778.5 916.4 L779.0 914.0 L779.5 916.4 L780.0 921.8 L780.5 926.6 L781.0 929.4 L781.5 930.7 L782.0 931.3 L782.5 931.8 L783.0 932.1 L783.5 932.4 L784.0 932.7 L784.5 932.9 L785.0 933.1 L785.5 933.2 L786.0 933.3 L786.5 933.4 L787.0 933.5 L787.5 933.6 L788.0 933.6 L788.5 933.7 L789.5 933.8 L790.5 933.8 L791.5 933.9 L793.0 933.9 L795.0 934.0 L798.0 934.0 L807.5 934.1 L836.5 934.0 L841.5 934.0 L844.0 933.9 L846.0 933.9 L847.5 933.8 L848.5 933.7 L849.5 933.7 L850.5 933.6 L851.0 933.5 L851.5 933.5 L852.0 933.4 L852.5 933.3 L853.0 933.2 L853.5 933.1 L854.0 933.0 L854.5 932.8 L855.0 932.6 L855.5 932.4 L856.0 932.1 L856.5 931.8 L857.0 931.4 L857.5 930.9 L858.0 930.4 L858.5 929.6 L859.0 928.4 L859.5 926.1 L860.0 921.2 L860.5 913.4 L861.0 905.5 L861.5 903.2 L862.0 908.3 L862.5 916.8 L863.0 923.6 L863.5 927.3 L864.0 929.0 L864.5 929.9 L865.0 930.6 L865.5 931.1 L866.0 931.6 L866.5 931.9 L867.0 932.2 L867.5 932.5 L868.0 932.7 L868.5 932.9 L869.0 933.0 L869.5 933.1 L870.0 933.2 L870.5 933.3 L871.0 933.4 L871.5 933.5 L872.0 933.5 L872.5 933.6 L873.5 933.7 L874.5 933.8 L875.5 933.8 L877.0 933.9 L878.5 933.9 L880.5 934.0 L883.5 934.0 L888.0 934.1 L929.0 934.0 L932.0 934.0 L934.0 933.9 L935.5 933.9 L937.0 933.8 L938.0 933.7 L939.0 933.7 L940.0 933.6 L940.5 933.5 L941.0 933.5 L941.5 933.4 L942.0 933.3 L942.5 933.2 L943.0 933.1 L943.5 932.9 L944.0 932.8 L944.5 932.6 L945.0 932.4 L945.5 932.1 L946.0 931.7 L946.5 931.3 L947.0 930.8 L947.5 930.1 L948.0 928.9 L948.5 926.4 L949.0 921.4 L949.5 914.6 L950.0 909.6 L950.5 910.2 L951.0 916.0 L951.5 922.6 L952.0 927.0 L952.5 929.2 L953.0 930.2 L953.5 930.8 L954.0 931.3 L954.5 931.7 L955.0 932.0 L955.5 932.3 L956.0 932.5 L956.5 932.7 L957.0 932.8 L957.5 932.9 L958.0 933.0 L958.5 933.1 L959.0 933.1 L960.0 933.2 L961.0 933.2 L961.5 933.1 L962.0 933.0 L962.5 932.8 L963.0 932.5 L963.5 932.2 L964.0 931.7 L964.5 931.2 L965.0 930.6 L965.5 929.9 L966.0 929.3 L966.5 928.7 L967.0 928.2 L967.5 927.9 L968.0 927.8 L968.5 927.9 L969.0 928.2 L969.5 928.7 L970.0 929.3 L970.5 930.0 L971.0 930.7 L971.5 931.3 L972.0 931.9 L972.5 932.4 L973.0 932.8 L973.5 933.1 L974.0 933.3 L974.5 933.5 L975.0 933.6 L975.5 933.6 L976.0 933.7 L977.0 933.8 L978.5 933.8 L980.5 933.9 L983.0 934.0 L986.5 934.0 L992.5 934.1 L1017.5 934.0 L1022.0 933.9 L1025.0 933.9 L1027.5 933.8 L1029.5 933.8 L1031.0 933.7 L1032.5 933.7 L1033.5 933.6 L1034.5 933.5 L1035.0 933.5 L1035.5 933.4 L1036.0 933.3 L1036.5 933.2 L1037.0 933.0 L1037.5 932.8 L1038.0 932.6 L1038.5 932.3 L1039.0 931.9 L1039.5 931.4 L1040.0 930.9 L1040.5 930.3 L1041.0 929.7 L1041.5 929.1 L1042.0 928.5 L1042.5 927.9 L1043.0 927.5 L1043.5 927.2 L1044.0 927.1 L1044.5 927.1 L1045.0 927.2 L1045.5 927.4 L1046.0 927.8 L1046.5 928.2 L1047.0 928.6 L1047.5 928.9 L1048.0 929.2 L1048.5 929.4 L1049.0 929.5 L1049.5 929.4 L1050.0 929.2 L1050.5 928.8 L1051.0 928.1 L1051.5 927.1 L1052.0 924.8 L1052.5 920.0 L1053.0 911.5 L1053.5 901.9 L1054.0 897.5 L1054.5 901.9 L1055.0 911.5 L1055.5 920.1 L1056.0 925.1 L1056.5 927.4 L1057.0 928.6 L1057.5 929.4 L1058.0 930.1 L1058.5 930.6 L1059.0 931.0 L1059.5 931.4 L1060.0 931.7 L1060.5 931.9 L1061.0 932.1 L1061.5 932.2 L1062.0 932.4 L1062.5 932.5 L1063.0 932.6 L1063.5 932.6 L1064.0 932.7 L1065.0 932.7 L1067.5 932.7 L1068.0 932.6 L1068.5 932.5 L1069.0 932.4 L1069.5 932.3 L1070.0 932.2 L1070.5 932.0 L1071.0 931.7 L1071.5 931.5 L1072.0 931.1 L1072.5 930.7 L1073.0 930.2 L1073.5 929.6 L1074.0 928.7 L1074.5 927.6 L1075.0 925.2 L1075.5 920.3 L1076.0 911.8 L1076.5 902.1 L1077.0 897.7 L1077.5 902.2 L1078.0 911.8 L1078.5 920.4 L1079.0 925.3 L1079.5 927.6 L1080.0 928.8 L1080.5 929.7 L1081.0 930.3 L1081.5 930.9 L1082.0 931.3 L1082.5 931.7 L1083.0 932.0 L1083.5 932.2 L1084.0 932.4 L1084.5 932.6 L1085.0 932.7 L1085.5 932.9 L1086.0 933.0 L1086.5 933.1 L1087.0 933.2 L1087.5 933.2 L1088.0 933.3 L1088.5 933.4 L1089.5 933.5 L1090.5 933.5 L1091.5 933.6 L1093.0 933.6 L1095.0 933.7 L1104.5 933.7 L1105.5 933.6 L1106.0 933.5 L1106.5 933.5 L1107.0 933.4 L1107.5 933.2 L1108.0 933.0 L1108.5 932.7 L1109.0 932.3 L1109.5 931.8 L1110.0 931.2 L1110.5 930.5 L1111.0 929.7 L1111.5 928.9 L1112.0 928.1 L1112.5 927.4 L1113.0 926.9 L1113.5 926.6 L1114.0 926.6 L1114.5 926.9 L1115.0 927.3 L1115.5 928.0 L1116.0 928.8 L1116.5 929.6 L1117.0 930.4 L1117.5 931.1 L1118.0 931.8 L1118.5 932.3 L1119.0 932.7 L1119.5 933.0 L1120.0 933.3 L1120.5 933.4 L1121.0 933.6 L1121.5 933.6 L1122.0 933.7 L1123.0 933.8 L1124.5 933.8 L1126.0 933.9 L1128.0 933.9 L1131.0 934.0 L1135.0 934.0 L1138.0 934.1 L1150.5 934.1 L1248.0 934.1 L1253.5 934.0 L1257.0 934.0 L1259.0 933.9 L1260.0 933.9 L1260.5 933.8 L1261.0 933.8 L1261.5 933.7 L1262.0 933.6 L1262.5 933.4 L1263.0 933.2 L1263.5 933.0 L1264.0 932.7 L1264.5 932.4 L1265.0 932.0 L1265.5 931.7 L1266.0 931.3 L1266.5 931.1 L1267.0 930.9 L1267.5 930.9 L1268.0 930.9 L1268.5 931.1 L1269.0 931.3 L1269.5 931.6 L1270.0 931.9 L1270.5 932.3 L1271.0 932.6 L1271.5 932.9 L1272.0 933.1 L1272.5 933.3 L1273.0 933.4 L1273.5 933.5 L1274.0 933.6 L1275.0 933.7 L1278.5 933.6 L1279.0 933.5 L1279.5 933.5 L1280.0 933.4 L1280.5 933.2 L1281.0 932.9 L1281.5 932.6 L1282.0 932.2 L1282.5 931.6 L1283.0 931.0 L1283.5 930.2 L1284.0 929.4 L1284.5 928.6 L1285.0 927.8 L1285.5 927.2 L1286.0 926.8 L1286.5 926.6 L1287.0 926.7 L1287.5 927.0 L1288.0 927.6 L1288.5 928.3 L1289.0 929.1 L1289.5 929.9 L1290.0 930.7 L1290.5 931.4 L1291.0 932.0 L1291.5 932.5 L1292.0 932.9 L1292.5 933.2 L1293.0 933.4 L1293.5 933.5 L1294.0 933.6 L1294.5 933.7 L1295.5 933.8 L1296.5 933.8 L1298.0 933.9 L1300.0 933.9 L1302.5 934.0 L1306.5 934.0 L1313.5 934.1 L1345.5 934.0 L1349.5 934.0 L1352.0 933.9 L1354.0 933.9 L1355.5 933.8 L1356.5 933.7 L1357.0 933.7 L1357.5 933.6 L1358.0 933.5 L1358.5 933.4 L1359.0 933.2 L1359.5 932.9 L1360.0 932.6 L1360.5 932.1 L1361.0 931.6 L1361.5 931.0 L1362.0 930.3 L1362.5 929.6 L1363.0 929.0 L1363.5 928.5 L1364.0 928.1 L1364.5 927.9 L1365.0 927.9 L1365.5 928.1 L1366.0 928.5 L1366.5 929.1 L1367.0 929.7 L1367.5 930.4 L1368.0 931.0 L1368.5 931.6 L1369.0 932.1 L1369.5 932.5 L1370.0 932.9 L1370.5 933.1 L1371.0 933.2 L1371.5 933.4 L1372.0 933.4 L1373.0 933.4 L1373.5 933.4 L1374.0 933.3 L1374.5 933.1 L1375.0 932.9 L1375.5 932.6 L1376.0 932.3 L1376.5 931.9 L1377.0 931.4 L1377.5 930.9 L1378.0 930.4 L1378.5 930.0 L1379.0 929.6 L1379.5 929.4 L1380.0 929.3 L1380.5 929.4 L1381.0 929.6 L1381.5 930.0 L1382.0 930.5 L1382.5 931.0 L1383.0 931.5 L1383.5 932.0 L1384.0 932.4 L1384.5 932.8 L1385.0 933.1 L1385.5 933.3 L1386.0 933.5 L1386.5 933.6 L1387.0 933.7 L1387.5 933.7 L1388.5 933.8 L1390.0 933.9 L1392.5 933.9 L1396.0 934.0 L1413.5 933.9 L1415.0 933.8 L1415.5 933.8 L1416.0 933.7 L1416.5 933.6 L1417.0 933.4 L1417.5 933.3 L1418.0 933.0 L1418.5 932.7 L1419.0 932.4 L1419.5 932.0 L1420.0 931.7 L1420.5 931.4 L1421.0 931.1 L1421.5 931.0 L1422.0 930.9 L1422.5 931.0 L1423.0 931.1 L1423.5 931.4 L1424.0 931.7 L1424.5 932.0 L1425.0 932.4 L1425.5 932.7 L1426.0 933.0 L1426.5 933.2 L1427.0 933.4 L1427.5 933.6 L1428.0 933.7 L1428.5 933.8 L1429.0 933.8 L1430.0 933.9 L1432.5 934.0 L1446.5 933.9 L1448.5 933.8 L1450.0 933.8 L1451.0 933.7 L1451.5 933.6 L1452.0 933.5 L1452.5 933.4 L1453.0 933.2 L1453.5 933.0 L1454.0 932.6 L1454.5 932.2 L1455.0 931.6 L1455.5 931.0 L1456.0 930.4 L1456.5 929.7 L1457.0 929.1 L1457.5 928.5 L1458.0 928.1 L1458.5 927.9 L1459.0 928.0 L1459.5 928.2 L1460.0 928.6 L1460.5 929.2 L1461.0 929.8 L1461.5 930.5 L1462.0 931.1 L1462.5 931.7 L1463.0 932.2 L1463.5 932.7 L1464.0 933.0 L1464.5 933.2 L1465.0 933.4 L1465.5 933.5 L1466.0 933.6 L1466.5 933.7 L1467.5 933.7 L1469.5 933.8 L1476.5 933.7 L1477.0 933.7 L1477.5 933.6 L1478.0 933.5 L1478.5 933.3 L1479.0 933.1 L1479.5 932.8 L1480.0 932.5 L1480.5 932.0 L1481.0 931.6 L1481.5 931.0 L1482.0 930.5 L1482.5 930.1 L1483.0 929.7 L1483.5 929.5 L1484.0 929.4 L1484.5 929.5 L1485.0 929.7 L1485.5 930.1 L1486.0 930.6 L1486.5 931.1 L1487.0 931.6 L1487.5 932.1 L1488.0 932.5 L1488.5 932.9 L1489.0 933.2 L1489.5 933.4 L1490.0 933.5 L1490.5 933.7 L1491.0 933.8 L1491.5 933.8 L1492.5 933.9 L1494.0 933.9 L1496.5 934.0 L1500.0 934.0 L1506.0 934.1 L1521.0 934.1 L1578.5 934.1 L1583.0 934.0 L1585.0 934.0 L1586.0 933.9 L1586.5 933.9 L1587.0 933.8 L1587.5 933.7 L1588.0 933.5 L1588.5 933.3 L1589.0 933.1 L1589.5 932.8 L1590.0 932.5 L1590.5 932.1 L1591.0 931.8 L1591.5 931.5 L1592.0 931.2 L1592.5 931.0 L1593.0 931.0 L1593.5 931.0 L1594.0 931.2 L1594.5 931.5 L1595.0 931.8 L1595.5 932.1 L1596.0 932.5 L1596.5 932.8 L1597.0 933.1 L1597.5 933.3 L1598.0 933.5 L1598.5 933.7 L1599.0 933.8 L1599.5 933.9 L1600.0 933.9 L1601.0 934.0 L1603.0 934.0 L1607.5 934.1 L1643.0 934.0 L1645.0 934.0 L1646.0 933.9 L1646.5 933.9 L1647.0 933.8 L1647.5 933.7 L1648.0 933.5 L1648.5 933.3 L1649.0 933.1 L1649.5 932.8 L1650.0 932.5 L1650.5 932.1 L1651.0 931.8 L1651.5 931.5 L1652.0 931.2 L1652.5 931.0 L1653.0 931.0 L1653.5 931.0 L1654.0 931.2 L1654.5 931.5 L1655.0 931.8 L1655.5 932.1 L1656.0 932.5 L1656.5 932.8 L1657.0 933.1 L1657.5 933.3 L1658.0 933.5 L1658.5 933.7 L1659.0 933.8 L1659.5 933.9 L1660.0 933.9 L1661.0 934.0 L1663.0 934.0 L1667.0 934.1 L1676.0 934.1 L1744.5 934.1 L1748.5 934.0 L1750.5 934.0 L1751.0 933.9 L1751.5 933.9 L1752.0 933.8 L1752.5 933.7 L1753.0 933.5 L1753.5 933.3 L1754.0 933.1 L1754.5 932.8 L1755.0 932.5 L1755.5 932.1 L1756.0 931.8 L1756.5 931.5 L1757.0 931.2 L1757.5 931.1 L1758.0 931.0 L1758.5 931.1 L1759.0 931.2 L1759.5 931.5 L1760.0 931.8 L1760.5 932.1 L1761.0 932.5 L1761.5 932.8 L1762.0 933.1 L1762.5 933.3 L1763.0 933.5 L1763.5 933.7 L1764.0 933.8 L1764.5 933.9 L1765.0 933.9 L1766.0 934.0 L1768.0 934.1 L1772.0 934.1 L1780.5 934.2 L1827.5 934.2" transform="translate(0 0.0)" fill="none" stroke="#e0cde4" stroke-width="13.0" stroke-linejoin="round"/>
<path d="M163.0 934.2 L398.5 934.1 L408.0 934.1 L412.5 934.0 L414.5 934.0 L416.5 933.9 L417.5 933.8 L418.0 933.8 L418.5 933.7 L419.0 933.5 L419.5 933.3 L420.0 933.1 L420.5 932.8 L421.0 932.4 L421.5 932.0 L422.0 931.5 L422.5 931.1 L423.0 930.7 L423.5 930.3 L424.0 930.1 L424.5 930.0 L425.0 930.0 L425.5 930.2 L426.0 930.5 L426.5 930.9 L427.0 931.3 L427.5 931.8 L428.0 932.2 L428.5 932.6 L429.0 933.0 L429.5 933.2 L430.0 933.5 L430.5 933.6 L431.0 933.7 L431.5 933.8 L432.0 933.9 L433.0 933.9 L435.0 934.0 L439.0 934.0 L457.0 934.0 L459.5 933.9 L461.0 933.9 L462.5 933.8 L463.5 933.7 L464.5 933.6 L465.0 933.6 L465.5 933.5 L466.0 933.5 L466.5 933.4 L467.0 933.3 L467.5 933.2 L468.0 933.0 L468.5 932.9 L469.0 932.7 L469.5 932.4 L470.0 932.1 L470.5 931.8 L471.0 931.3 L471.5 930.6 L472.0 929.3 L472.5 926.6 L473.0 921.8 L473.5 916.4 L474.0 913.9 L474.5 916.4 L475.0 921.8 L475.5 926.6 L476.0 929.3 L476.5 930.6 L477.0 931.3 L477.5 931.7 L478.0 932.1 L478.5 932.4 L479.0 932.6 L479.5 932.8 L480.0 933.0 L480.5 933.1 L481.0 933.2 L481.5 933.3 L482.0 933.4 L482.5 933.5 L483.0 933.5 L483.5 933.6 L484.5 933.7 L485.5 933.7 L487.0 933.8 L489.0 933.9 L493.0 933.9 L501.5 933.9 L504.0 933.8 L506.0 933.7 L507.5 933.7 L508.5 933.6 L509.0 933.6 L509.5 933.5 L510.0 933.4 L510.5 933.3 L511.0 933.2 L511.5 933.0 L512.0 932.7 L512.5 932.2 L513.0 931.7 L513.5 930.9 L514.0 930.1 L514.5 929.1 L515.0 928.0 L515.5 926.9 L516.0 925.8 L516.5 924.9 L517.0 924.3 L517.5 924.0 L518.0 924.0 L518.5 924.4 L519.0 925.1 L519.5 926.0 L520.0 927.1 L520.5 928.2 L521.0 929.3 L521.5 930.3 L522.0 931.1 L522.5 931.8 L523.0 932.3 L523.5 932.7 L524.0 933.0 L524.5 933.2 L525.0 933.4 L525.5 933.5 L526.0 933.5 L526.5 933.6 L527.5 933.7 L528.5 933.7 L530.0 933.8 L532.0 933.8 L534.0 933.9 L538.0 933.9 L551.0 933.9 L553.5 933.8 L555.0 933.8 L556.5 933.7 L557.5 933.6 L558.5 933.6 L559.0 933.5 L559.5 933.5 L560.0 933.4 L560.5 933.3 L561.0 933.3 L561.5 933.2 L562.0 933.1 L562.5 933.0 L563.0 932.8 L563.5 932.7 L564.0 932.5 L564.5 932.3 L565.0 932.1 L565.5 931.8 L566.0 931.4 L566.5 930.8 L567.0 929.8 L567.5 928.2 L568.0 925.9 L568.5 923.1 L569.0 920.6 L569.5 919.1 L570.0 919.3 L570.5 921.0 L571.0 923.7 L571.5 926.4 L572.0 928.6 L572.5 930.1 L573.0 931.0 L573.5 931.5 L574.0 931.9 L574.5 932.1 L575.0 932.4 L575.5 932.5 L576.0 932.7 L576.5 932.8 L577.0 933.0 L577.5 933.1 L578.0 933.2 L578.5 933.3 L579.0 933.3 L579.5 933.4 L580.0 933.4 L580.5 933.5 L581.5 933.6 L582.5 933.7 L583.5 933.7 L585.0 933.8 L586.5 933.8 L589.0 933.9 L593.0 933.9 L606.0 933.9 L608.5 933.8 L610.0 933.8 L611.5 933.7 L612.5 933.6 L613.5 933.5 L614.0 933.5 L614.5 933.4 L615.0 933.4 L615.5 933.3 L616.0 933.2 L616.5 933.1 L617.0 933.0 L617.5 932.8 L618.0 932.6 L618.5 932.4 L619.0 932.2 L619.5 931.9 L620.0 931.5 L620.5 931.1 L621.0 930.5 L621.5 929.4 L622.0 926.0 L622.5 913.6 L623.0 878.0 L623.5 809.1 L624.0 728.5 L624.5 690.9 L625.0 728.5 L625.5 809.1 L626.0 878.0 L626.5 913.6 L627.0 926.0 L627.5 929.4 L628.0 930.5 L628.5 931.1 L629.0 931.5 L629.5 931.9 L630.0 932.2 L630.5 932.4 L631.0 932.6 L631.5 932.8 L632.0 933.0 L632.5 933.1 L633.0 933.2 L633.5 933.3 L634.0 933.4 L634.5 933.4 L635.0 933.5 L635.5 933.6 L636.5 933.6 L637.5 933.7 L638.5 933.8 L640.0 933.8 L642.0 933.9 L644.5 933.9 L649.0 934.0 L665.5 933.9 L667.5 933.9 L668.5 933.8 L669.0 933.8 L669.5 933.7 L670.0 933.6 L670.5 933.3 L671.0 932.9 L671.5 932.4 L672.0 931.8 L672.5 931.1 L673.0 930.5 L673.5 930.0 L674.0 929.9 L674.5 930.0 L675.0 930.5 L675.5 931.1 L676.0 931.8 L676.5 932.4 L677.0 932.9 L677.5 933.3 L678.0 933.5 L678.5 933.7 L679.0 933.7 L680.0 933.8 L682.5 933.9 L690.0 933.8 L692.0 933.7 L693.5 933.7 L694.5 933.6 L695.5 933.5 L696.0 933.5 L696.5 933.4 L697.0 933.3 L697.5 933.2 L698.0 932.9 L698.5 932.6 L699.0 932.2 L699.5 931.6 L700.0 930.9 L700.5 930.0 L701.0 928.8 L701.5 927.6 L702.0 926.3 L702.5 925.0 L703.0 923.8 L703.5 922.8 L704.0 922.2 L704.5 922.0 L705.0 922.2 L705.5 922.8 L706.0 923.8 L706.5 925.0 L707.0 926.3 L707.5 927.6 L708.0 928.9 L708.5 930.0 L709.0 930.9 L709.5 931.7 L710.0 932.2 L710.5 932.7 L711.0 933.0 L711.5 933.2 L712.0 933.3 L712.5 933.4 L713.0 933.5 L713.5 933.6 L714.5 933.6 L715.5 933.7 L716.5 933.8 L718.0 933.8 L720.0 933.9 L722.0 933.9 L725.0 934.0 L729.5 934.0 L738.5 934.1 L759.5 934.0 L763.0 934.0 L765.0 933.9 L766.5 933.9 L767.5 933.8 L768.5 933.7 L769.5 933.7 L770.0 933.6 L770.5 933.5 L771.0 933.5 L771.5 933.4 L772.0 933.3 L772.5 933.2 L773.0 933.0 L773.5 932.9 L774.0 932.7 L774.5 932.4 L775.0 932.1 L775.5 931.8 L776.0 931.3 L776.5 930.7 L777.0 929.4 L777.5 926.6 L778.0 921.8 L778.5 916.4 L779.0 914.0 L779.5 916.4 L780.0 921.8 L780.5 926.6 L781.0 929.4 L781.5 930.7 L782.0 931.3 L782.5 931.8 L783.0 932.1 L783.5 932.4 L784.0 932.7 L784.5 932.9 L785.0 933.1 L785.5 933.2 L786.0 933.3 L786.5 933.4 L787.0 933.5 L787.5 933.6 L788.0 933.6 L788.5 933.7 L789.5 933.8 L790.5 933.8 L791.5 933.9 L793.0 933.9 L795.0 934.0 L798.0 934.0 L807.5 934.1 L836.5 934.0 L841.5 934.0 L844.0 933.9 L846.0 933.9 L847.5 933.8 L848.5 933.7 L849.5 933.7 L850.5 933.6 L851.0 933.5 L851.5 933.5 L852.0 933.4 L852.5 933.3 L853.0 933.2 L853.5 933.1 L854.0 933.0 L854.5 932.8 L855.0 932.6 L855.5 932.4 L856.0 932.1 L856.5 931.8 L857.0 931.4 L857.5 930.9 L858.0 930.4 L858.5 929.6 L859.0 928.4 L859.5 926.1 L860.0 921.2 L860.5 913.4 L861.0 905.5 L861.5 903.2 L862.0 908.3 L862.5 916.8 L863.0 923.6 L863.5 927.3 L864.0 929.0 L864.5 929.9 L865.0 930.6 L865.5 931.1 L866.0 931.6 L866.5 931.9 L867.0 932.2 L867.5 932.5 L868.0 932.7 L868.5 932.9 L869.0 933.0 L869.5 933.1 L870.0 933.2 L870.5 933.3 L871.0 933.4 L871.5 933.5 L872.0 933.5 L872.5 933.6 L873.5 933.7 L874.5 933.8 L875.5 933.8 L877.0 933.9 L878.5 933.9 L880.5 934.0 L883.5 934.0 L888.0 934.1 L929.0 934.0 L932.0 934.0 L934.0 933.9 L935.5 933.9 L937.0 933.8 L938.0 933.7 L939.0 933.7 L940.0 933.6 L940.5 933.5 L941.0 933.5 L941.5 933.4 L942.0 933.3 L942.5 933.2 L943.0 933.1 L943.5 932.9 L944.0 932.8 L944.5 932.6 L945.0 932.4 L945.5 932.1 L946.0 931.7 L946.5 931.3 L947.0 930.8 L947.5 930.1 L948.0 928.9 L948.5 926.4 L949.0 921.4 L949.5 914.6 L950.0 909.6 L950.5 910.2 L951.0 916.0 L951.5 922.6 L952.0 927.0 L952.5 929.2 L953.0 930.2 L953.5 930.8 L954.0 931.3 L954.5 931.7 L955.0 932.0 L955.5 932.3 L956.0 932.5 L956.5 932.7 L957.0 932.8 L957.5 932.9 L958.0 933.0 L958.5 933.1 L959.0 933.1 L960.0 933.2 L961.0 933.2 L961.5 933.1 L962.0 933.0 L962.5 932.8 L963.0 932.5 L963.5 932.2 L964.0 931.7 L964.5 931.2 L965.0 930.6 L965.5 929.9 L966.0 929.3 L966.5 928.7 L967.0 928.2 L967.5 927.9 L968.0 927.8 L968.5 927.9 L969.0 928.2 L969.5 928.7 L970.0 929.3 L970.5 930.0 L971.0 930.7 L971.5 931.3 L972.0 931.9 L972.5 932.4 L973.0 932.8 L973.5 933.1 L974.0 933.3 L974.5 933.5 L975.0 933.6 L975.5 933.6 L976.0 933.7 L977.0 933.8 L978.5 933.8 L980.5 933.9 L983.0 934.0 L986.5 934.0 L992.5 934.1 L1017.5 934.0 L1022.0 933.9 L1025.0 933.9 L1027.5 933.8 L1029.5 933.8 L1031.0 933.7 L1032.5 933.7 L1033.5 933.6 L1034.5 933.5 L1035.0 933.5 L1035.5 933.4 L1036.0 933.3 L1036.5 933.2 L1037.0 933.0 L1037.5 932.8 L1038.0 932.6 L1038.5 932.3 L1039.0 931.9 L1039.5 931.4 L1040.0 930.9 L1040.5 930.3 L1041.0 929.7 L1041.5 929.1 L1042.0 928.5 L1042.5 927.9 L1043.0 927.5 L1043.5 927.2 L1044.0 927.1 L1044.5 927.1 L1045.0 927.2 L1045.5 927.4 L1046.0 927.8 L1046.5 928.2 L1047.0 928.6 L1047.5 928.9 L1048.0 929.2 L1048.5 929.4 L1049.0 929.5 L1049.5 929.4 L1050.0 929.2 L1050.5 928.8 L1051.0 928.1 L1051.5 927.1 L1052.0 924.8 L1052.5 920.0 L1053.0 911.5 L1053.5 901.9 L1054.0 897.5 L1054.5 901.9 L1055.0 911.5 L1055.5 920.1 L1056.0 925.1 L1056.5 927.4 L1057.0 928.6 L1057.5 929.4 L1058.0 930.1 L1058.5 930.6 L1059.0 931.0 L1059.5 931.4 L1060.0 931.7 L1060.5 931.9 L1061.0 932.1 L1061.5 932.2 L1062.0 932.4 L1062.5 932.5 L1063.0 932.6 L1063.5 932.6 L1064.0 932.7 L1065.0 932.7 L1067.5 932.7 L1068.0 932.6 L1068.5 932.5 L1069.0 932.4 L1069.5 932.3 L1070.0 932.2 L1070.5 932.0 L1071.0 931.7 L1071.5 931.5 L1072.0 931.1 L1072.5 930.7 L1073.0 930.2 L1073.5 929.6 L1074.0 928.7 L1074.5 927.6 L1075.0 925.2 L1075.5 920.3 L1076.0 911.8 L1076.5 902.1 L1077.0 897.7 L1077.5 902.2 L1078.0 911.8 L1078.5 920.4 L1079.0 925.3 L1079.5 927.6 L1080.0 928.8 L1080.5 929.7 L1081.0 930.3 L1081.5 930.9 L1082.0 931.3 L1082.5 931.7 L1083.0 932.0 L1083.5 932.2 L1084.0 932.4 L1084.5 932.6 L1085.0 932.7 L1085.5 932.9 L1086.0 933.0 L1086.5 933.1 L1087.0 933.2 L1087.5 933.2 L1088.0 933.3 L1088.5 933.4 L1089.5 933.5 L1090.5 933.5 L1091.5 933.6 L1093.0 933.6 L1095.0 933.7 L1104.5 933.7 L1105.5 933.6 L1106.0 933.5 L1106.5 933.5 L1107.0 933.4 L1107.5 933.2 L1108.0 933.0 L1108.5 932.7 L1109.0 932.3 L1109.5 931.8 L1110.0 931.2 L1110.5 930.5 L1111.0 929.7 L1111.5 928.9 L1112.0 928.1 L1112.5 927.4 L1113.0 926.9 L1113.5 926.6 L1114.0 926.6 L1114.5 926.9 L1115.0 927.3 L1115.5 928.0 L1116.0 928.8 L1116.5 929.6 L1117.0 930.4 L1117.5 931.1 L1118.0 931.8 L1118.5 932.3 L1119.0 932.7 L1119.5 933.0 L1120.0 933.3 L1120.5 933.4 L1121.0 933.6 L1121.5 933.6 L1122.0 933.7 L1123.0 933.8 L1124.5 933.8 L1126.0 933.9 L1128.0 933.9 L1131.0 934.0 L1135.0 934.0 L1138.0 934.1 L1150.5 934.1 L1248.0 934.1 L1253.5 934.0 L1257.0 934.0 L1259.0 933.9 L1260.0 933.9 L1260.5 933.8 L1261.0 933.8 L1261.5 933.7 L1262.0 933.6 L1262.5 933.4 L1263.0 933.2 L1263.5 933.0 L1264.0 932.7 L1264.5 932.4 L1265.0 932.0 L1265.5 931.7 L1266.0 931.3 L1266.5 931.1 L1267.0 930.9 L1267.5 930.9 L1268.0 930.9 L1268.5 931.1 L1269.0 931.3 L1269.5 931.6 L1270.0 931.9 L1270.5 932.3 L1271.0 932.6 L1271.5 932.9 L1272.0 933.1 L1272.5 933.3 L1273.0 933.4 L1273.5 933.5 L1274.0 933.6 L1275.0 933.7 L1278.5 933.6 L1279.0 933.5 L1279.5 933.5 L1280.0 933.4 L1280.5 933.2 L1281.0 932.9 L1281.5 932.6 L1282.0 932.2 L1282.5 931.6 L1283.0 931.0 L1283.5 930.2 L1284.0 929.4 L1284.5 928.6 L1285.0 927.8 L1285.5 927.2 L1286.0 926.8 L1286.5 926.6 L1287.0 926.7 L1287.5 927.0 L1288.0 927.6 L1288.5 928.3 L1289.0 929.1 L1289.5 929.9 L1290.0 930.7 L1290.5 931.4 L1291.0 932.0 L1291.5 932.5 L1292.0 932.9 L1292.5 933.2 L1293.0 933.4 L1293.5 933.5 L1294.0 933.6 L1294.5 933.7 L1295.5 933.8 L1296.5 933.8 L1298.0 933.9 L1300.0 933.9 L1302.5 934.0 L1306.5 934.0 L1313.5 934.1 L1345.5 934.0 L1349.5 934.0 L1352.0 933.9 L1354.0 933.9 L1355.5 933.8 L1356.5 933.7 L1357.0 933.7 L1357.5 933.6 L1358.0 933.5 L1358.5 933.4 L1359.0 933.2 L1359.5 932.9 L1360.0 932.6 L1360.5 932.1 L1361.0 931.6 L1361.5 931.0 L1362.0 930.3 L1362.5 929.6 L1363.0 929.0 L1363.5 928.5 L1364.0 928.1 L1364.5 927.9 L1365.0 927.9 L1365.5 928.1 L1366.0 928.5 L1366.5 929.1 L1367.0 929.7 L1367.5 930.4 L1368.0 931.0 L1368.5 931.6 L1369.0 932.1 L1369.5 932.5 L1370.0 932.9 L1370.5 933.1 L1371.0 933.2 L1371.5 933.4 L1372.0 933.4 L1373.0 933.4 L1373.5 933.4 L1374.0 933.3 L1374.5 933.1 L1375.0 932.9 L1375.5 932.6 L1376.0 932.3 L1376.5 931.9 L1377.0 931.4 L1377.5 930.9 L1378.0 930.4 L1378.5 930.0 L1379.0 929.6 L1379.5 929.4 L1380.0 929.3 L1380.5 929.4 L1381.0 929.6 L1381.5 930.0 L1382.0 930.5 L1382.5 931.0 L1383.0 931.5 L1383.5 932.0 L1384.0 932.4 L1384.5 932.8 L1385.0 933.1 L1385.5 933.3 L1386.0 933.5 L1386.5 933.6 L1387.0 933.7 L1387.5 933.7 L1388.5 933.8 L1390.0 933.9 L1392.5 933.9 L1396.0 934.0 L1413.5 933.9 L1415.0 933.8 L1415.5 933.8 L1416.0 933.7 L1416.5 933.6 L1417.0 933.4 L1417.5 933.3 L1418.0 933.0 L1418.5 932.7 L1419.0 932.4 L1419.5 932.0 L1420.0 931.7 L1420.5 931.4 L1421.0 931.1 L1421.5 931.0 L1422.0 930.9 L1422.5 931.0 L1423.0 931.1 L1423.5 931.4 L1424.0 931.7 L1424.5 932.0 L1425.0 932.4 L1425.5 932.7 L1426.0 933.0 L1426.5 933.2 L1427.0 933.4 L1427.5 933.6 L1428.0 933.7 L1428.5 933.8 L1429.0 933.8 L1430.0 933.9 L1432.5 934.0 L1446.5 933.9 L1448.5 933.8 L1450.0 933.8 L1451.0 933.7 L1451.5 933.6 L1452.0 933.5 L1452.5 933.4 L1453.0 933.2 L1453.5 933.0 L1454.0 932.6 L1454.5 932.2 L1455.0 931.6 L1455.5 931.0 L1456.0 930.4 L1456.5 929.7 L1457.0 929.1 L1457.5 928.5 L1458.0 928.1 L1458.5 927.9 L1459.0 928.0 L1459.5 928.2 L1460.0 928.6 L1460.5 929.2 L1461.0 929.8 L1461.5 930.5 L1462.0 931.1 L1462.5 931.7 L1463.0 932.2 L1463.5 932.7 L1464.0 933.0 L1464.5 933.2 L1465.0 933.4 L1465.5 933.5 L1466.0 933.6 L1466.5 933.7 L1467.5 933.7 L1469.5 933.8 L1476.5 933.7 L1477.0 933.7 L1477.5 933.6 L1478.0 933.5 L1478.5 933.3 L1479.0 933.1 L1479.5 932.8 L1480.0 932.5 L1480.5 932.0 L1481.0 931.6 L1481.5 931.0 L1482.0 930.5 L1482.5 930.1 L1483.0 929.7 L1483.5 929.5 L1484.0 929.4 L1484.5 929.5 L1485.0 929.7 L1485.5 930.1 L1486.0 930.6 L1486.5 931.1 L1487.0 931.6 L1487.5 932.1 L1488.0 932.5 L1488.5 932.9 L1489.0 933.2 L1489.5 933.4 L1490.0 933.5 L1490.5 933.7 L1491.0 933.8 L1491.5 933.8 L1492.5 933.9 L1494.0 933.9 L1496.5 934.0 L1500.0 934.0 L1506.0 934.1 L1521.0 934.1 L1578.5 934.1 L1583.0 934.0 L1585.0 934.0 L1586.0 933.9 L1586.5 933.9 L1587.0 933.8 L1587.5 933.7 L1588.0 933.5 L1588.5 933.3 L1589.0 933.1 L1589.5 932.8 L1590.0 932.5 L1590.5 932.1 L1591.0 931.8 L1591.5 931.5 L1592.0 931.2 L1592.5 931.0 L1593.0 931.0 L1593.5 931.0 L1594.0 931.2 L1594.5 931.5 L1595.0 931.8 L1595.5 932.1 L1596.0 932.5 L1596.5 932.8 L1597.0 933.1 L1597.5 933.3 L1598.0 933.5 L1598.5 933.7 L1599.0 933.8 L1599.5 933.9 L1600.0 933.9 L1601.0 934.0 L1603.0 934.0 L1607.5 934.1 L1643.0 934.0 L1645.0 934.0 L1646.0 933.9 L1646.5 933.9 L1647.0 933.8 L1647.5 933.7 L1648.0 933.5 L1648.5 933.3 L1649.0 933.1 L1649.5 932.8 L1650.0 932.5 L1650.5 932.1 L1651.0 931.8 L1651.5 931.5 L1652.0 931.2 L1652.5 931.0 L1653.0 931.0 L1653.5 931.0 L1654.0 931.2 L1654.5 931.5 L1655.0 931.8 L1655.5 932.1 L1656.0 932.5 L1656.5 932.8 L1657.0 933.1 L1657.5 933.3 L1658.0 933.5 L1658.5 933.7 L1659.0 933.8 L1659.5 933.9 L1660.0 933.9 L1661.0 934.0 L1663.0 934.0 L1667.0 934.1 L1676.0 934.1 L1744.5 934.1 L1748.5 934.0 L1750.5 934.0 L1751.0 933.9 L1751.5 933.9 L1752.0 933.8 L1752.5 933.7 L1753.0 933.5 L1753.5 933.3 L1754.0 933.1 L1754.5 932.8 L1755.0 932.5 L1755.5 932.1 L1756.0 931.8 L1756.5 931.5 L1757.0 931.2 L1757.5 931.1 L1758.0 931.0 L1758.5 931.1 L1759.0 931.2 L1759.5 931.5 L1760.0 931.8 L1760.5 932.1 L1761.0 932.5 L1761.5 932.8 L1762.0 933.1 L1762.5 933.3 L1763.0 933.5 L1763.5 933.7 L1764.0 933.8 L1764.5 933.9 L1765.0 933.9 L1766.0 934.0 L1768.0 934.1 L1772.0 934.1 L1780.5 934.2 L1827.5 934.2" fill="none" stroke="#a86fb1" stroke-width="8.0" stroke-linejoin="round"/>
<path d="M163.0 636.0 L402.5 635.9 L411.5 635.9 L414.5 635.8 L417.0 635.8 L418.0 635.7 L418.5 635.6 L419.0 635.5 L419.5 635.4 L420.0 635.2 L420.5 635.0 L421.0 634.8 L421.5 634.5 L422.0 634.1 L422.5 633.8 L423.0 633.5 L423.5 633.3 L424.0 633.1 L424.5 633.1 L425.0 633.1 L425.5 633.2 L426.0 633.4 L426.5 633.7 L427.0 634.0 L427.5 634.3 L428.0 634.6 L428.5 634.9 L429.0 635.1 L429.5 635.3 L430.0 635.5 L430.5 635.6 L431.0 635.7 L431.5 635.7 L432.5 635.8 L435.0 635.8 L457.0 635.8 L459.5 635.7 L461.0 635.7 L462.5 635.6 L463.5 635.5 L464.5 635.4 L465.0 635.4 L465.5 635.3 L466.0 635.2 L466.5 635.1 L467.0 635.0 L467.5 634.9 L468.0 634.8 L468.5 634.6 L469.0 634.4 L469.5 634.1 L470.0 633.8 L470.5 633.4 L471.0 632.9 L471.5 632.2 L472.0 630.8 L472.5 627.9 L473.0 622.8 L473.5 617.2 L474.0 614.5 L474.5 617.2 L475.0 622.8 L475.5 627.9 L476.0 630.8 L476.5 632.2 L477.0 632.9 L477.5 633.4 L478.0 633.8 L478.5 634.1 L479.0 634.4 L479.5 634.6 L480.0 634.7 L480.5 634.9 L481.0 635.0 L481.5 635.1 L482.0 635.2 L482.5 635.3 L483.0 635.3 L483.5 635.4 L484.5 635.5 L485.5 635.5 L486.5 635.6 L488.0 635.6 L490.5 635.7 L504.5 635.7 L506.5 635.6 L508.0 635.5 L509.0 635.5 L509.5 635.4 L510.0 635.4 L510.5 635.3 L511.0 635.2 L511.5 635.1 L512.0 634.9 L512.5 634.6 L513.0 634.1 L513.5 633.6 L514.0 633.0 L514.5 632.2 L515.0 631.3 L515.5 630.4 L516.0 629.4 L516.5 628.6 L517.0 627.9 L517.5 627.5 L518.0 627.3 L518.5 627.5 L519.0 627.9 L519.5 628.6 L520.0 629.4 L520.5 630.4 L521.0 631.3 L521.5 632.2 L522.0 633.0 L522.5 633.6 L523.0 634.1 L523.5 634.6 L524.0 634.9 L524.5 635.1 L525.0 635.2 L525.5 635.3 L526.0 635.4 L526.5 635.4 L527.5 635.5 L529.0 635.6 L531.0 635.6 L533.5 635.7 L536.5 635.7 L551.5 635.7 L554.0 635.6 L556.0 635.6 L557.5 635.5 L558.5 635.5 L559.0 635.4 L560.0 635.3 L560.5 635.3 L561.0 635.3 L561.5 635.2 L562.0 635.1 L562.5 635.0 L563.0 634.8 L563.5 634.5 L564.0 634.1 L564.5 633.6 L565.0 632.9 L565.5 632.0 L566.0 631.0 L566.5 629.8 L567.0 628.4 L567.5 627.1 L568.0 625.8 L568.5 624.7 L569.0 623.9 L569.5 623.6 L570.0 623.6 L570.5 624.1 L571.0 624.9 L571.5 626.0 L572.0 627.3 L572.5 628.7 L573.0 630.0 L573.5 631.2 L574.0 632.2 L574.5 633.1 L575.0 633.7 L575.5 634.2 L576.0 634.6 L576.5 634.8 L577.0 635.0 L577.5 635.1 L578.0 635.2 L578.5 635.3 L579.5 635.3 L580.5 635.4 L581.5 635.5 L583.0 635.5 L585.0 635.6 L587.5 635.6 L591.5 635.7 L603.5 635.6 L606.0 635.6 L607.5 635.5 L609.0 635.4 L610.0 635.4 L611.0 635.3 L612.0 635.2 L612.5 635.2 L613.0 635.1 L613.5 635.1 L614.0 635.0 L614.5 634.9 L615.0 634.8 L615.5 634.7 L616.0 634.6 L616.5 634.4 L617.0 634.3 L617.5 634.1 L618.0 633.8 L618.5 633.6 L619.0 633.3 L619.5 632.9 L620.0 632.4 L620.5 631.9 L621.0 631.2 L621.5 630.2 L622.0 627.8 L622.5 619.8 L623.0 595.4 L623.5 538.9 L624.0 446.4 L624.5 349.6 L625.0 307.0 L625.5 349.6 L626.0 446.4 L626.5 538.9 L627.0 595.4 L627.5 619.8 L628.0 627.8 L628.5 630.2 L629.0 631.3 L629.5 631.9 L630.0 632.5 L630.5 632.9 L631.0 633.3 L631.5 633.6 L632.0 633.9 L632.5 634.1 L633.0 634.3 L633.5 634.4 L634.0 634.6 L634.5 634.7 L635.0 634.8 L635.5 634.9 L636.0 635.0 L636.5 635.1 L637.0 635.1 L637.5 635.2 L638.0 635.2 L639.0 635.3 L640.0 635.4 L641.0 635.5 L642.0 635.5 L643.5 635.6 L645.5 635.7 L648.0 635.7 L652.0 635.8 L667.0 635.7 L668.5 635.6 L669.0 635.6 L669.5 635.5 L670.0 635.4 L670.5 635.2 L671.0 634.8 L671.5 634.4 L672.0 633.8 L672.5 633.2 L673.0 632.6 L673.5 632.2 L674.0 632.1 L674.5 632.2 L675.0 632.6 L675.5 633.2 L676.0 633.8 L676.5 634.4 L677.0 634.8 L677.5 635.2 L678.0 635.4 L678.5 635.5 L679.0 635.6 L680.0 635.6 L682.5 635.7 L691.0 635.6 L693.5 635.6 L695.0 635.5 L696.0 635.4 L696.5 635.4 L697.0 635.3 L697.5 635.2 L698.0 635.0 L698.5 634.8 L699.0 634.5 L699.5 634.0 L700.0 633.4 L700.5 632.7 L701.0 631.9 L701.5 630.9 L702.0 629.9 L702.5 628.9 L703.0 627.9 L703.5 627.2 L704.0 626.7 L704.5 626.6 L705.0 626.7 L705.5 627.2 L706.0 628.0 L706.5 628.9 L707.0 629.9 L707.5 630.9 L708.0 631.9 L708.5 632.7 L709.0 633.5 L709.5 634.0 L710.0 634.5 L710.5 634.8 L711.0 635.0 L711.5 635.2 L712.0 635.3 L712.5 635.4 L713.0 635.5 L714.0 635.5 L715.0 635.6 L716.5 635.6 L718.5 635.7 L721.5 635.8 L725.0 635.8 L731.0 635.9 L762.0 635.8 L765.0 635.8 L767.0 635.7 L768.5 635.6 L769.5 635.6 L770.5 635.5 L771.0 635.4 L771.5 635.4 L772.0 635.3 L772.5 635.2 L773.0 635.1 L773.5 635.0 L774.0 634.9 L774.5 634.8 L775.0 634.6 L775.5 634.4 L776.0 634.1 L776.5 633.8 L777.0 633.4 L777.5 633.0 L778.0 632.3 L778.5 631.2 L779.0 628.9 L779.5 624.4 L780.0 618.2 L780.5 613.6 L781.0 614.1 L781.5 619.4 L782.0 625.5 L782.5 629.5 L783.0 631.5 L783.5 632.5 L784.0 633.1 L784.5 633.5 L785.0 633.9 L785.5 634.2 L786.0 634.4 L786.5 634.6 L787.0 634.8 L787.5 634.9 L788.0 635.1 L788.5 635.2 L789.0 635.2 L789.5 635.3 L790.0 635.4 L790.5 635.4 L791.5 635.5 L792.5 635.6 L793.5 635.7 L795.0 635.7 L797.0 635.8 L799.5 635.8 L807.5 635.9 L838.0 635.8 L842.5 635.8 L845.0 635.7 L846.5 635.7 L848.0 635.6 L849.0 635.5 L850.0 635.5 L851.0 635.4 L851.5 635.3 L852.0 635.2 L852.5 635.2 L853.0 635.1 L853.5 635.0 L854.0 634.9 L854.5 634.8 L855.0 634.6 L855.5 634.4 L856.0 634.2 L856.5 634.0 L857.0 633.7 L857.5 633.3 L858.0 632.8 L858.5 632.3 L859.0 631.6 L859.5 630.7 L860.0 629.3 L860.5 626.3 L861.0 620.2 L861.5 611.1 L862.0 603.2 L862.5 602.3 L863.0 609.2 L863.5 618.6 L864.0 625.4 L864.5 628.9 L865.0 630.5 L865.5 631.5 L866.0 632.2 L866.5 632.7 L867.0 633.2 L867.5 633.6 L868.0 633.9 L868.5 634.2 L869.0 634.4 L869.5 634.6 L870.0 634.7 L870.5 634.9 L871.0 635.0 L871.5 635.1 L872.0 635.1 L872.5 635.2 L873.0 635.3 L873.5 635.3 L874.0 635.4 L875.0 635.5 L876.0 635.5 L877.0 635.6 L878.5 635.7 L880.0 635.7 L882.0 635.8 L885.0 635.8 L890.0 635.9 L928.0 635.8 L931.0 635.8 L933.5 635.7 L935.0 635.7 L936.5 635.6 L937.5 635.5 L938.5 635.4 L939.5 635.4 L940.0 635.3 L940.5 635.2 L941.0 635.2 L941.5 635.1 L942.0 635.0 L942.5 634.9 L943.0 634.8 L943.5 634.6 L944.0 634.4 L944.5 634.2 L945.0 633.9 L945.5 633.6 L946.0 633.3 L946.5 632.8 L947.0 632.2 L947.5 631.5 L948.0 630.4 L948.5 628.2 L949.0 623.5 L949.5 615.9 L950.0 608.4 L950.5 606.1 L951.0 611.1 L951.5 619.2 L952.0 625.7 L952.5 629.2 L953.0 630.9 L953.5 631.8 L954.0 632.4 L954.5 632.9 L955.0 633.3 L955.5 633.7 L956.0 633.9 L956.5 634.2 L957.0 634.4 L957.5 634.5 L958.0 634.6 L958.5 634.7 L959.0 634.8 L959.5 634.9 L960.5 634.9 L961.5 634.9 L962.0 634.8 L962.5 634.7 L963.0 634.5 L963.5 634.2 L964.0 633.8 L964.5 633.4 L965.0 632.9 L965.5 632.4 L966.0 631.8 L966.5 631.3 L967.0 631.0 L967.5 630.7 L968.0 630.6 L968.5 630.8 L969.0 631.0 L969.5 631.4 L970.0 631.9 L970.5 632.5 L971.0 633.1 L971.5 633.6 L972.0 634.1 L972.5 634.5 L973.0 634.8 L973.5 635.0 L974.0 635.2 L974.5 635.3 L975.0 635.4 L975.5 635.5 L976.5 635.6 L978.0 635.7 L980.0 635.7 L982.5 635.8 L986.0 635.8 L992.5 635.9 L1018.0 635.8 L1022.0 635.7 L1025.0 635.7 L1027.5 635.6 L1029.5 635.6 L1031.0 635.5 L1032.5 635.4 L1033.5 635.4 L1034.5 635.3 L1035.0 635.2 L1035.5 635.2 L1036.0 635.1 L1036.5 635.0 L1037.0 634.8 L1037.5 634.6 L1038.0 634.3 L1038.5 634.0 L1039.0 633.6 L1039.5 633.1 L1040.0 632.6 L1040.5 631.9 L1041.0 631.3 L1041.5 630.7 L1042.0 630.1 L1042.5 629.5 L1043.0 629.1 L1043.5 628.8 L1044.0 628.6 L1044.5 628.6 L1045.0 628.7 L1045.5 629.0 L1046.0 629.3 L1046.5 629.7 L1047.0 630.1 L1047.5 630.5 L1048.0 630.8 L1048.5 631.0 L1049.0 631.0 L1049.5 630.9 L1050.0 630.6 L1050.5 630.2 L1051.0 629.4 L1051.5 628.1 L1052.0 625.3 L1052.5 619.4 L1053.0 609.8 L1053.5 600.1 L1054.0 597.3 L1054.5 603.6 L1055.0 614.1 L1055.5 622.4 L1056.0 627.0 L1056.5 629.1 L1057.0 630.3 L1057.5 631.1 L1058.0 631.8 L1058.5 632.3 L1059.0 632.7 L1059.5 633.1 L1060.0 633.4 L1060.5 633.6 L1061.0 633.8 L1061.5 634.0 L1062.0 634.1 L1062.5 634.3 L1063.0 634.4 L1063.5 634.4 L1064.0 634.5 L1065.0 634.6 L1068.0 634.5 L1068.5 634.4 L1069.0 634.4 L1069.5 634.3 L1070.0 634.1 L1070.5 634.0 L1071.0 633.8 L1071.5 633.6 L1072.0 633.3 L1072.5 633.0 L1073.0 632.6 L1073.5 632.1 L1074.0 631.5 L1074.5 630.8 L1075.0 629.8 L1075.5 628.2 L1076.0 624.9 L1076.5 618.1 L1077.0 608.0 L1077.5 599.1 L1078.0 598.2 L1078.5 605.9 L1079.0 616.3 L1079.5 623.9 L1080.0 627.8 L1080.5 629.7 L1081.0 630.7 L1081.5 631.5 L1082.0 632.2 L1082.5 632.7 L1083.0 633.1 L1083.5 633.5 L1084.0 633.8 L1084.5 634.0 L1085.0 634.2 L1085.5 634.4 L1086.0 634.6 L1086.5 634.7 L1087.0 634.8 L1087.5 634.9 L1088.0 635.0 L1088.5 635.0 L1089.0 635.1 L1089.5 635.2 L1090.0 635.2 L1091.0 635.3 L1092.0 635.4 L1093.0 635.4 L1094.5 635.5 L1096.5 635.6 L1100.5 635.6 L1106.0 635.5 L1107.0 635.5 L1107.5 635.4 L1108.0 635.3 L1108.5 635.2 L1109.0 635.1 L1109.5 634.8 L1110.0 634.5 L1110.5 634.2 L1111.0 633.7 L1111.5 633.2 L1112.0 632.7 L1112.5 632.2 L1113.0 631.7 L1113.5 631.3 L1114.0 631.1 L1114.5 631.0 L1115.0 631.1 L1115.5 631.3 L1116.0 631.7 L1116.5 632.2 L1117.0 632.7 L1117.5 633.3 L1118.0 633.8 L1118.5 634.2 L1119.0 634.6 L1119.5 634.9 L1120.0 635.1 L1120.5 635.3 L1121.0 635.4 L1121.5 635.5 L1122.0 635.6 L1123.0 635.7 L1124.5 635.7 L1127.0 635.8 L1130.5 635.8 L1136.0 635.9 L1141.0 635.9 L1249.0 635.9 L1254.0 635.8 L1257.0 635.8 L1259.0 635.7 L1260.0 635.7 L1260.5 635.6 L1261.0 635.6 L1261.5 635.5 L1262.0 635.4 L1262.5 635.2 L1263.0 635.0 L1263.5 634.7 L1264.0 634.4 L1264.5 634.1 L1265.0 633.7 L1265.5 633.3 L1266.0 633.0 L1266.5 632.7 L1267.0 632.5 L1267.5 632.5 L1268.0 632.5 L1268.5 632.7 L1269.0 632.9 L1269.5 633.3 L1270.0 633.6 L1270.5 634.0 L1271.0 634.3 L1271.5 634.6 L1272.0 634.9 L1272.5 635.1 L1273.0 635.2 L1273.5 635.3 L1274.0 635.4 L1275.0 635.5 L1279.0 635.4 L1279.5 635.3 L1280.0 635.3 L1280.5 635.1 L1281.0 635.0 L1281.5 634.7 L1282.0 634.4 L1282.5 633.9 L1283.0 633.3 L1283.5 632.7 L1284.0 631.9 L1284.5 631.1 L1285.0 630.3 L1285.5 629.6 L1286.0 629.0 L1286.5 628.7 L1287.0 628.5 L1287.5 628.7 L1288.0 629.0 L1288.5 629.6 L1289.0 630.3 L1289.5 631.1 L1290.0 631.9 L1290.5 632.7 L1291.0 633.4 L1291.5 633.9 L1292.0 634.4 L1292.5 634.8 L1293.0 635.0 L1293.5 635.2 L1294.0 635.3 L1294.5 635.4 L1295.0 635.5 L1296.0 635.6 L1297.0 635.6 L1298.5 635.7 L1300.5 635.7 L1303.0 635.8 L1307.0 635.8 L1314.5 635.9 L1347.0 635.8 L1351.0 635.8 L1353.5 635.7 L1355.5 635.7 L1356.5 635.6 L1357.0 635.6 L1357.5 635.5 L1358.0 635.4 L1358.5 635.3 L1359.0 635.1 L1359.5 634.9 L1360.0 634.6 L1360.5 634.2 L1361.0 633.7 L1361.5 633.2 L1362.0 632.6 L1362.5 632.0 L1363.0 631.5 L1363.5 631.0 L1364.0 630.7 L1364.5 630.5 L1365.0 630.5 L1365.5 630.7 L1366.0 631.1 L1366.5 631.6 L1367.0 632.1 L1367.5 632.7 L1368.0 633.3 L1368.5 633.8 L1369.0 634.2 L1369.5 634.6 L1370.0 634.8 L1370.5 635.1 L1371.0 635.2 L1371.5 635.3 L1372.0 635.3 L1374.0 635.3 L1374.5 635.3 L1375.0 635.1 L1375.5 635.0 L1376.0 634.8 L1376.5 634.5 L1377.0 634.2 L1377.5 633.8 L1378.0 633.4 L1378.5 632.9 L1379.0 632.6 L1379.5 632.2 L1380.0 632.0 L1380.5 631.9 L1381.0 632.0 L1381.5 632.2 L1382.0 632.5 L1382.5 632.8 L1383.0 633.2 L1383.5 633.7 L1384.0 634.1 L1384.5 634.5 L1385.0 634.8 L1385.5 635.0 L1386.0 635.2 L1386.5 635.4 L1387.0 635.5 L1387.5 635.6 L1388.0 635.6 L1389.0 635.7 L1391.0 635.7 L1394.0 635.8 L1401.5 635.8 L1411.5 635.8 L1414.0 635.7 L1415.0 635.6 L1415.5 635.6 L1416.0 635.5 L1416.5 635.4 L1417.0 635.2 L1417.5 635.0 L1418.0 634.8 L1418.5 634.4 L1419.0 634.1 L1419.5 633.7 L1420.0 633.4 L1420.5 633.0 L1421.0 632.8 L1421.5 632.6 L1422.0 632.5 L1422.5 632.6 L1423.0 632.8 L1423.5 633.0 L1424.0 633.4 L1424.5 633.7 L1425.0 634.1 L1425.5 634.4 L1426.0 634.7 L1426.5 635.0 L1427.0 635.2 L1427.5 635.4 L1428.0 635.5 L1428.5 635.6 L1429.0 635.6 L1430.0 635.7 L1432.0 635.8 L1448.5 635.7 L1450.5 635.6 L1451.0 635.6 L1451.5 635.5 L1452.0 635.5 L1452.5 635.4 L1453.0 635.2 L1453.5 635.0 L1454.0 634.7 L1454.5 634.4 L1455.0 634.0 L1455.5 633.5 L1456.0 633.0 L1456.5 632.4 L1457.0 631.9 L1457.5 631.5 L1458.0 631.2 L1458.5 631.0 L1459.0 631.0 L1459.5 631.2 L1460.0 631.6 L1460.5 632.0 L1461.0 632.5 L1461.5 633.1 L1462.0 633.6 L1462.5 634.0 L1463.0 634.4 L1463.5 634.8 L1464.0 635.0 L1464.5 635.2 L1465.0 635.4 L1465.5 635.5 L1466.0 635.5 L1467.0 635.6 L1469.0 635.6 L1475.5 635.6 L1476.0 635.5 L1476.5 635.4 L1477.0 635.3 L1477.5 635.1 L1478.0 634.9 L1478.5 634.6 L1479.0 634.3 L1479.5 633.9 L1480.0 633.5 L1480.5 633.0 L1481.0 632.7 L1481.5 632.3 L1482.0 632.1 L1482.5 632.0 L1483.0 632.1 L1483.5 632.2 L1484.0 632.5 L1484.5 632.9 L1485.0 633.3 L1485.5 633.7 L1486.0 634.2 L1486.5 634.5 L1487.0 634.8 L1487.5 635.1 L1488.0 635.3 L1488.5 635.4 L1489.0 635.5 L1489.5 635.6 L1490.0 635.7 L1491.0 635.7 L1493.0 635.8 L1496.0 635.8 L1501.0 635.9 L1512.0 635.9 L1580.5 635.9 L1584.0 635.8 L1585.5 635.8 L1586.0 635.7 L1586.5 635.7 L1587.0 635.6 L1587.5 635.5 L1588.0 635.4 L1588.5 635.2 L1589.0 635.0 L1589.5 634.7 L1590.0 634.4 L1590.5 634.1 L1591.0 633.8 L1591.5 633.5 L1592.0 633.3 L1592.5 633.1 L1593.0 633.1 L1593.5 633.1 L1594.0 633.3 L1594.5 633.5 L1595.0 633.8 L1595.5 634.1 L1596.0 634.4 L1596.5 634.7 L1597.0 635.0 L1597.5 635.2 L1598.0 635.4 L1598.5 635.5 L1599.0 635.6 L1599.5 635.7 L1600.0 635.7 L1601.0 635.8 L1603.0 635.9 L1608.0 635.9 L1643.0 635.9 L1645.5 635.8 L1646.0 635.7 L1646.5 635.7 L1647.0 635.6 L1647.5 635.5 L1648.0 635.4 L1648.5 635.2 L1649.0 635.0 L1649.5 634.7 L1650.0 634.4 L1650.5 634.1 L1651.0 633.8 L1651.5 633.5 L1652.0 633.3 L1652.5 633.1 L1653.0 633.1 L1653.5 633.1 L1654.0 633.3 L1654.5 633.5 L1655.0 633.8 L1655.5 634.1 L1656.0 634.4 L1656.5 634.7 L1657.0 635.0 L1657.5 635.2 L1658.0 635.4 L1658.5 635.5 L1659.0 635.6 L1659.5 635.7 L1660.0 635.8 L1661.0 635.8 L1663.0 635.9 L1667.5 635.9 L1679.5 636.0 L1744.0 635.9 L1748.5 635.9 L1750.5 635.8 L1751.0 635.8 L1751.5 635.7 L1752.0 635.6 L1752.5 635.5 L1753.0 635.4 L1753.5 635.2 L1754.0 635.0 L1754.5 634.7 L1755.0 634.4 L1755.5 634.1 L1756.0 633.8 L1756.5 633.5 L1757.0 633.3 L1757.5 633.1 L1758.0 633.1 L1758.5 633.1 L1759.0 633.3 L1759.5 633.5 L1760.0 633.8 L1760.5 634.1 L1761.0 634.4 L1761.5 634.7 L1762.0 635.0 L1762.5 635.2 L1763.0 635.4 L1763.5 635.5 L1764.0 635.6 L1764.5 635.7 L1765.0 635.8 L1766.0 635.8 L1768.0 635.9 L1772.5 635.9 L1784.0 636.0 L1827.5 636.0" transform="translate(0 0.0)" fill="none" stroke="#c3cfe8" stroke-width="13.0" stroke-linejoin="round"/>
<path d="M163.0 636.0 L402.5 635.9 L411.5 635.9 L414.5 635.8 L417.0 635.8 L418.0 635.7 L418.5 635.6 L419.0 635.5 L419.5 635.4 L420.0 635.2 L420.5 635.0 L421.0 634.8 L421.5 634.5 L422.0 634.1 L422.5 633.8 L423.0 633.5 L423.5 633.3 L424.0 633.1 L424.5 633.1 L425.0 633.1 L425.5 633.2 L426.0 633.4 L426.5 633.7 L427.0 634.0 L427.5 634.3 L428.0 634.6 L428.5 634.9 L429.0 635.1 L429.5 635.3 L430.0 635.5 L430.5 635.6 L431.0 635.7 L431.5 635.7 L432.5 635.8 L435.0 635.8 L457.0 635.8 L459.5 635.7 L461.0 635.7 L462.5 635.6 L463.5 635.5 L464.5 635.4 L465.0 635.4 L465.5 635.3 L466.0 635.2 L466.5 635.1 L467.0 635.0 L467.5 634.9 L468.0 634.8 L468.5 634.6 L469.0 634.4 L469.5 634.1 L470.0 633.8 L470.5 633.4 L471.0 632.9 L471.5 632.2 L472.0 630.8 L472.5 627.9 L473.0 622.8 L473.5 617.2 L474.0 614.5 L474.5 617.2 L475.0 622.8 L475.5 627.9 L476.0 630.8 L476.5 632.2 L477.0 632.9 L477.5 633.4 L478.0 633.8 L478.5 634.1 L479.0 634.4 L479.5 634.6 L480.0 634.7 L480.5 634.9 L481.0 635.0 L481.5 635.1 L482.0 635.2 L482.5 635.3 L483.0 635.3 L483.5 635.4 L484.5 635.5 L485.5 635.5 L486.5 635.6 L488.0 635.6 L490.5 635.7 L504.5 635.7 L506.5 635.6 L508.0 635.5 L509.0 635.5 L509.5 635.4 L510.0 635.4 L510.5 635.3 L511.0 635.2 L511.5 635.1 L512.0 634.9 L512.5 634.6 L513.0 634.1 L513.5 633.6 L514.0 633.0 L514.5 632.2 L515.0 631.3 L515.5 630.4 L516.0 629.4 L516.5 628.6 L517.0 627.9 L517.5 627.5 L518.0 627.3 L518.5 627.5 L519.0 627.9 L519.5 628.6 L520.0 629.4 L520.5 630.4 L521.0 631.3 L521.5 632.2 L522.0 633.0 L522.5 633.6 L523.0 634.1 L523.5 634.6 L524.0 634.9 L524.5 635.1 L525.0 635.2 L525.5 635.3 L526.0 635.4 L526.5 635.4 L527.5 635.5 L529.0 635.6 L531.0 635.6 L533.5 635.7 L536.5 635.7 L551.5 635.7 L554.0 635.6 L556.0 635.6 L557.5 635.5 L558.5 635.5 L559.0 635.4 L560.0 635.3 L560.5 635.3 L561.0 635.3 L561.5 635.2 L562.0 635.1 L562.5 635.0 L563.0 634.8 L563.5 634.5 L564.0 634.1 L564.5 633.6 L565.0 632.9 L565.5 632.0 L566.0 631.0 L566.5 629.8 L567.0 628.4 L567.5 627.1 L568.0 625.8 L568.5 624.7 L569.0 623.9 L569.5 623.6 L570.0 623.6 L570.5 624.1 L571.0 624.9 L571.5 626.0 L572.0 627.3 L572.5 628.7 L573.0 630.0 L573.5 631.2 L574.0 632.2 L574.5 633.1 L575.0 633.7 L575.5 634.2 L576.0 634.6 L576.5 634.8 L577.0 635.0 L577.5 635.1 L578.0 635.2 L578.5 635.3 L579.5 635.3 L580.5 635.4 L581.5 635.5 L583.0 635.5 L585.0 635.6 L587.5 635.6 L591.5 635.7 L603.5 635.6 L606.0 635.6 L607.5 635.5 L609.0 635.4 L610.0 635.4 L611.0 635.3 L612.0 635.2 L612.5 635.2 L613.0 635.1 L613.5 635.1 L614.0 635.0 L614.5 634.9 L615.0 634.8 L615.5 634.7 L616.0 634.6 L616.5 634.4 L617.0 634.3 L617.5 634.1 L618.0 633.8 L618.5 633.6 L619.0 633.3 L619.5 632.9 L620.0 632.4 L620.5 631.9 L621.0 631.2 L621.5 630.2 L622.0 627.8 L622.5 619.8 L623.0 595.4 L623.5 538.9 L624.0 446.4 L624.5 349.6 L625.0 307.0 L625.5 349.6 L626.0 446.4 L626.5 538.9 L627.0 595.4 L627.5 619.8 L628.0 627.8 L628.5 630.2 L629.0 631.3 L629.5 631.9 L630.0 632.5 L630.5 632.9 L631.0 633.3 L631.5 633.6 L632.0 633.9 L632.5 634.1 L633.0 634.3 L633.5 634.4 L634.0 634.6 L634.5 634.7 L635.0 634.8 L635.5 634.9 L636.0 635.0 L636.5 635.1 L637.0 635.1 L637.5 635.2 L638.0 635.2 L639.0 635.3 L640.0 635.4 L641.0 635.5 L642.0 635.5 L643.5 635.6 L645.5 635.7 L648.0 635.7 L652.0 635.8 L667.0 635.7 L668.5 635.6 L669.0 635.6 L669.5 635.5 L670.0 635.4 L670.5 635.2 L671.0 634.8 L671.5 634.4 L672.0 633.8 L672.5 633.2 L673.0 632.6 L673.5 632.2 L674.0 632.1 L674.5 632.2 L675.0 632.6 L675.5 633.2 L676.0 633.8 L676.5 634.4 L677.0 634.8 L677.5 635.2 L678.0 635.4 L678.5 635.5 L679.0 635.6 L680.0 635.6 L682.5 635.7 L691.0 635.6 L693.5 635.6 L695.0 635.5 L696.0 635.4 L696.5 635.4 L697.0 635.3 L697.5 635.2 L698.0 635.0 L698.5 634.8 L699.0 634.5 L699.5 634.0 L700.0 633.4 L700.5 632.7 L701.0 631.9 L701.5 630.9 L702.0 629.9 L702.5 628.9 L703.0 627.9 L703.5 627.2 L704.0 626.7 L704.5 626.6 L705.0 626.7 L705.5 627.2 L706.0 628.0 L706.5 628.9 L707.0 629.9 L707.5 630.9 L708.0 631.9 L708.5 632.7 L709.0 633.5 L709.5 634.0 L710.0 634.5 L710.5 634.8 L711.0 635.0 L711.5 635.2 L712.0 635.3 L712.5 635.4 L713.0 635.5 L714.0 635.5 L715.0 635.6 L716.5 635.6 L718.5 635.7 L721.5 635.8 L725.0 635.8 L731.0 635.9 L762.0 635.8 L765.0 635.8 L767.0 635.7 L768.5 635.6 L769.5 635.6 L770.5 635.5 L771.0 635.4 L771.5 635.4 L772.0 635.3 L772.5 635.2 L773.0 635.1 L773.5 635.0 L774.0 634.9 L774.5 634.8 L775.0 634.6 L775.5 634.4 L776.0 634.1 L776.5 633.8 L777.0 633.4 L777.5 633.0 L778.0 632.3 L778.5 631.2 L779.0 628.9 L779.5 624.4 L780.0 618.2 L780.5 613.6 L781.0 614.1 L781.5 619.4 L782.0 625.5 L782.5 629.5 L783.0 631.5 L783.5 632.5 L784.0 633.1 L784.5 633.5 L785.0 633.9 L785.5 634.2 L786.0 634.4 L786.5 634.6 L787.0 634.8 L787.5 634.9 L788.0 635.1 L788.5 635.2 L789.0 635.2 L789.5 635.3 L790.0 635.4 L790.5 635.4 L791.5 635.5 L792.5 635.6 L793.5 635.7 L795.0 635.7 L797.0 635.8 L799.5 635.8 L807.5 635.9 L838.0 635.8 L842.5 635.8 L845.0 635.7 L846.5 635.7 L848.0 635.6 L849.0 635.5 L850.0 635.5 L851.0 635.4 L851.5 635.3 L852.0 635.2 L852.5 635.2 L853.0 635.1 L853.5 635.0 L854.0 634.9 L854.5 634.8 L855.0 634.6 L855.5 634.4 L856.0 634.2 L856.5 634.0 L857.0 633.7 L857.5 633.3 L858.0 632.8 L858.5 632.3 L859.0 631.6 L859.5 630.7 L860.0 629.3 L860.5 626.3 L861.0 620.2 L861.5 611.1 L862.0 603.2 L862.5 602.3 L863.0 609.2 L863.5 618.6 L864.0 625.4 L864.5 628.9 L865.0 630.5 L865.5 631.5 L866.0 632.2 L866.5 632.7 L867.0 633.2 L867.5 633.6 L868.0 633.9 L868.5 634.2 L869.0 634.4 L869.5 634.6 L870.0 634.7 L870.5 634.9 L871.0 635.0 L871.5 635.1 L872.0 635.1 L872.5 635.2 L873.0 635.3 L873.5 635.3 L874.0 635.4 L875.0 635.5 L876.0 635.5 L877.0 635.6 L878.5 635.7 L880.0 635.7 L882.0 635.8 L885.0 635.8 L890.0 635.9 L928.0 635.8 L931.0 635.8 L933.5 635.7 L935.0 635.7 L936.5 635.6 L937.5 635.5 L938.5 635.4 L939.5 635.4 L940.0 635.3 L940.5 635.2 L941.0 635.2 L941.5 635.1 L942.0 635.0 L942.5 634.9 L943.0 634.8 L943.5 634.6 L944.0 634.4 L944.5 634.2 L945.0 633.9 L945.5 633.6 L946.0 633.3 L946.5 632.8 L947.0 632.2 L947.5 631.5 L948.0 630.4 L948.5 628.2 L949.0 623.5 L949.5 615.9 L950.0 608.4 L950.5 606.1 L951.0 611.1 L951.5 619.2 L952.0 625.7 L952.5 629.2 L953.0 630.9 L953.5 631.8 L954.0 632.4 L954.5 632.9 L955.0 633.3 L955.5 633.7 L956.0 633.9 L956.5 634.2 L957.0 634.4 L957.5 634.5 L958.0 634.6 L958.5 634.7 L959.0 634.8 L959.5 634.9 L960.5 634.9 L961.5 634.9 L962.0 634.8 L962.5 634.7 L963.0 634.5 L963.5 634.2 L964.0 633.8 L964.5 633.4 L965.0 632.9 L965.5 632.4 L966.0 631.8 L966.5 631.3 L967.0 631.0 L967.5 630.7 L968.0 630.6 L968.5 630.8 L969.0 631.0 L969.5 631.4 L970.0 631.9 L970.5 632.5 L971.0 633.1 L971.5 633.6 L972.0 634.1 L972.5 634.5 L973.0 634.8 L973.5 635.0 L974.0 635.2 L974.5 635.3 L975.0 635.4 L975.5 635.5 L976.5 635.6 L978.0 635.7 L980.0 635.7 L982.5 635.8 L986.0 635.8 L992.5 635.9 L1018.0 635.8 L1022.0 635.7 L1025.0 635.7 L1027.5 635.6 L1029.5 635.6 L1031.0 635.5 L1032.5 635.4 L1033.5 635.4 L1034.5 635.3 L1035.0 635.2 L1035.5 635.2 L1036.0 635.1 L1036.5 635.0 L1037.0 634.8 L1037.5 634.6 L1038.0 634.3 L1038.5 634.0 L1039.0 633.6 L1039.5 633.1 L1040.0 632.6 L1040.5 631.9 L1041.0 631.3 L1041.5 630.7 L1042.0 630.1 L1042.5 629.5 L1043.0 629.1 L1043.5 628.8 L1044.0 628.6 L1044.5 628.6 L1045.0 628.7 L1045.5 629.0 L1046.0 629.3 L1046.5 629.7 L1047.0 630.1 L1047.5 630.5 L1048.0 630.8 L1048.5 631.0 L1049.0 631.0 L1049.5 630.9 L1050.0 630.6 L1050.5 630.2 L1051.0 629.4 L1051.5 628.1 L1052.0 625.3 L1052.5 619.4 L1053.0 609.8 L1053.5 600.1 L1054.0 597.3 L1054.5 603.6 L1055.0 614.1 L1055.5 622.4 L1056.0 627.0 L1056.5 629.1 L1057.0 630.3 L1057.5 631.1 L1058.0 631.8 L1058.5 632.3 L1059.0 632.7 L1059.5 633.1 L1060.0 633.4 L1060.5 633.6 L1061.0 633.8 L1061.5 634.0 L1062.0 634.1 L1062.5 634.3 L1063.0 634.4 L1063.5 634.4 L1064.0 634.5 L1065.0 634.6 L1068.0 634.5 L1068.5 634.4 L1069.0 634.4 L1069.5 634.3 L1070.0 634.1 L1070.5 634.0 L1071.0 633.8 L1071.5 633.6 L1072.0 633.3 L1072.5 633.0 L1073.0 632.6 L1073.5 632.1 L1074.0 631.5 L1074.5 630.8 L1075.0 629.8 L1075.5 628.2 L1076.0 624.9 L1076.5 618.1 L1077.0 608.0 L1077.5 599.1 L1078.0 598.2 L1078.5 605.9 L1079.0 616.3 L1079.5 623.9 L1080.0 627.8 L1080.5 629.7 L1081.0 630.7 L1081.5 631.5 L1082.0 632.2 L1082.5 632.7 L1083.0 633.1 L1083.5 633.5 L1084.0 633.8 L1084.5 634.0 L1085.0 634.2 L1085.5 634.4 L1086.0 634.6 L1086.5 634.7 L1087.0 634.8 L1087.5 634.9 L1088.0 635.0 L1088.5 635.0 L1089.0 635.1 L1089.5 635.2 L1090.0 635.2 L1091.0 635.3 L1092.0 635.4 L1093.0 635.4 L1094.5 635.5 L1096.5 635.6 L1100.5 635.6 L1106.0 635.5 L1107.0 635.5 L1107.5 635.4 L1108.0 635.3 L1108.5 635.2 L1109.0 635.1 L1109.5 634.8 L1110.0 634.5 L1110.5 634.2 L1111.0 633.7 L1111.5 633.2 L1112.0 632.7 L1112.5 632.2 L1113.0 631.7 L1113.5 631.3 L1114.0 631.1 L1114.5 631.0 L1115.0 631.1 L1115.5 631.3 L1116.0 631.7 L1116.5 632.2 L1117.0 632.7 L1117.5 633.3 L1118.0 633.8 L1118.5 634.2 L1119.0 634.6 L1119.5 634.9 L1120.0 635.1 L1120.5 635.3 L1121.0 635.4 L1121.5 635.5 L1122.0 635.6 L1123.0 635.7 L1124.5 635.7 L1127.0 635.8 L1130.5 635.8 L1136.0 635.9 L1141.0 635.9 L1249.0 635.9 L1254.0 635.8 L1257.0 635.8 L1259.0 635.7 L1260.0 635.7 L1260.5 635.6 L1261.0 635.6 L1261.5 635.5 L1262.0 635.4 L1262.5 635.2 L1263.0 635.0 L1263.5 634.7 L1264.0 634.4 L1264.5 634.1 L1265.0 633.7 L1265.5 633.3 L1266.0 633.0 L1266.5 632.7 L1267.0 632.5 L1267.5 632.5 L1268.0 632.5 L1268.5 632.7 L1269.0 632.9 L1269.5 633.3 L1270.0 633.6 L1270.5 634.0 L1271.0 634.3 L1271.5 634.6 L1272.0 634.9 L1272.5 635.1 L1273.0 635.2 L1273.5 635.3 L1274.0 635.4 L1275.0 635.5 L1279.0 635.4 L1279.5 635.3 L1280.0 635.3 L1280.5 635.1 L1281.0 635.0 L1281.5 634.7 L1282.0 634.4 L1282.5 633.9 L1283.0 633.3 L1283.5 632.7 L1284.0 631.9 L1284.5 631.1 L1285.0 630.3 L1285.5 629.6 L1286.0 629.0 L1286.5 628.7 L1287.0 628.5 L1287.5 628.7 L1288.0 629.0 L1288.5 629.6 L1289.0 630.3 L1289.5 631.1 L1290.0 631.9 L1290.5 632.7 L1291.0 633.4 L1291.5 633.9 L1292.0 634.4 L1292.5 634.8 L1293.0 635.0 L1293.5 635.2 L1294.0 635.3 L1294.5 635.4 L1295.0 635.5 L1296.0 635.6 L1297.0 635.6 L1298.5 635.7 L1300.5 635.7 L1303.0 635.8 L1307.0 635.8 L1314.5 635.9 L1347.0 635.8 L1351.0 635.8 L1353.5 635.7 L1355.5 635.7 L1356.5 635.6 L1357.0 635.6 L1357.5 635.5 L1358.0 635.4 L1358.5 635.3 L1359.0 635.1 L1359.5 634.9 L1360.0 634.6 L1360.5 634.2 L1361.0 633.7 L1361.5 633.2 L1362.0 632.6 L1362.5 632.0 L1363.0 631.5 L1363.5 631.0 L1364.0 630.7 L1364.5 630.5 L1365.0 630.5 L1365.5 630.7 L1366.0 631.1 L1366.5 631.6 L1367.0 632.1 L1367.5 632.7 L1368.0 633.3 L1368.5 633.8 L1369.0 634.2 L1369.5 634.6 L1370.0 634.8 L1370.5 635.1 L1371.0 635.2 L1371.5 635.3 L1372.0 635.3 L1374.0 635.3 L1374.5 635.3 L1375.0 635.1 L1375.5 635.0 L1376.0 634.8 L1376.5 634.5 L1377.0 634.2 L1377.5 633.8 L1378.0 633.4 L1378.5 632.9 L1379.0 632.6 L1379.5 632.2 L1380.0 632.0 L1380.5 631.9 L1381.0 632.0 L1381.5 632.2 L1382.0 632.5 L1382.5 632.8 L1383.0 633.2 L1383.5 633.7 L1384.0 634.1 L1384.5 634.5 L1385.0 634.8 L1385.5 635.0 L1386.0 635.2 L1386.5 635.4 L1387.0 635.5 L1387.5 635.6 L1388.0 635.6 L1389.0 635.7 L1391.0 635.7 L1394.0 635.8 L1401.5 635.8 L1411.5 635.8 L1414.0 635.7 L1415.0 635.6 L1415.5 635.6 L1416.0 635.5 L1416.5 635.4 L1417.0 635.2 L1417.5 635.0 L1418.0 634.8 L1418.5 634.4 L1419.0 634.1 L1419.5 633.7 L1420.0 633.4 L1420.5 633.0 L1421.0 632.8 L1421.5 632.6 L1422.0 632.5 L1422.5 632.6 L1423.0 632.8 L1423.5 633.0 L1424.0 633.4 L1424.5 633.7 L1425.0 634.1 L1425.5 634.4 L1426.0 634.7 L1426.5 635.0 L1427.0 635.2 L1427.5 635.4 L1428.0 635.5 L1428.5 635.6 L1429.0 635.6 L1430.0 635.7 L1432.0 635.8 L1448.5 635.7 L1450.5 635.6 L1451.0 635.6 L1451.5 635.5 L1452.0 635.5 L1452.5 635.4 L1453.0 635.2 L1453.5 635.0 L1454.0 634.7 L1454.5 634.4 L1455.0 634.0 L1455.5 633.5 L1456.0 633.0 L1456.5 632.4 L1457.0 631.9 L1457.5 631.5 L1458.0 631.2 L1458.5 631.0 L1459.0 631.0 L1459.5 631.2 L1460.0 631.6 L1460.5 632.0 L1461.0 632.5 L1461.5 633.1 L1462.0 633.6 L1462.5 634.0 L1463.0 634.4 L1463.5 634.8 L1464.0 635.0 L1464.5 635.2 L1465.0 635.4 L1465.5 635.5 L1466.0 635.5 L1467.0 635.6 L1469.0 635.6 L1475.5 635.6 L1476.0 635.5 L1476.5 635.4 L1477.0 635.3 L1477.5 635.1 L1478.0 634.9 L1478.5 634.6 L1479.0 634.3 L1479.5 633.9 L1480.0 633.5 L1480.5 633.0 L1481.0 632.7 L1481.5 632.3 L1482.0 632.1 L1482.5 632.0 L1483.0 632.1 L1483.5 632.2 L1484.0 632.5 L1484.5 632.9 L1485.0 633.3 L1485.5 633.7 L1486.0 634.2 L1486.5 634.5 L1487.0 634.8 L1487.5 635.1 L1488.0 635.3 L1488.5 635.4 L1489.0 635.5 L1489.5 635.6 L1490.0 635.7 L1491.0 635.7 L1493.0 635.8 L1496.0 635.8 L1501.0 635.9 L1512.0 635.9 L1580.5 635.9 L1584.0 635.8 L1585.5 635.8 L1586.0 635.7 L1586.5 635.7 L1587.0 635.6 L1587.5 635.5 L1588.0 635.4 L1588.5 635.2 L1589.0 635.0 L1589.5 634.7 L1590.0 634.4 L1590.5 634.1 L1591.0 633.8 L1591.5 633.5 L1592.0 633.3 L1592.5 633.1 L1593.0 633.1 L1593.5 633.1 L1594.0 633.3 L1594.5 633.5 L1595.0 633.8 L1595.5 634.1 L1596.0 634.4 L1596.5 634.7 L1597.0 635.0 L1597.5 635.2 L1598.0 635.4 L1598.5 635.5 L1599.0 635.6 L1599.5 635.7 L1600.0 635.7 L1601.0 635.8 L1603.0 635.9 L1608.0 635.9 L1643.0 635.9 L1645.5 635.8 L1646.0 635.7 L1646.5 635.7 L1647.0 635.6 L1647.5 635.5 L1648.0 635.4 L1648.5 635.2 L1649.0 635.0 L1649.5 634.7 L1650.0 634.4 L1650.5 634.1 L1651.0 633.8 L1651.5 633.5 L1652.0 633.3 L1652.5 633.1 L1653.0 633.1 L1653.5 633.1 L1654.0 633.3 L1654.5 633.5 L1655.0 633.8 L1655.5 634.1 L1656.0 634.4 L1656.5 634.7 L1657.0 635.0 L1657.5 635.2 L1658.0 635.4 L1658.5 635.5 L1659.0 635.6 L1659.5 635.7 L1660.0 635.8 L1661.0 635.8 L1663.0 635.9 L1667.5 635.9 L1679.5 636.0 L1744.0 635.9 L1748.5 635.9 L1750.5 635.8 L1751.0 635.8 L1751.5 635.7 L1752.0 635.6 L1752.5 635.5 L1753.0 635.4 L1753.5 635.2 L1754.0 635.0 L1754.5 634.7 L1755.0 634.4 L1755.5 634.1 L1756.0 633.8 L1756.5 633.5 L1757.0 633.3 L1757.5 633.1 L1758.0 633.1 L1758.5 633.1 L1759.0 633.3 L1759.5 633.5 L1760.0 633.8 L1760.5 634.1 L1761.0 634.4 L1761.5 634.7 L1762.0 635.0 L1762.5 635.2 L1763.0 635.4 L1763.5 635.5 L1764.0 635.6 L1764.5 635.7 L1765.0 635.8 L1766.0 635.8 L1768.0 635.9 L1772.5 635.9 L1784.0 636.0 L1827.5 636.0" fill="none" stroke="#08308f" stroke-width="7.2" stroke-linejoin="round"/>
<path d="M163.0 262.1 L432.5 262.0 L446.0 262.0 L452.5 261.9 L456.5 261.9 L459.0 261.8 L461.0 261.8 L462.5 261.7 L464.0 261.7 L465.0 261.6 L466.0 261.5 L467.0 261.5 L467.5 261.4 L468.0 261.3 L468.5 261.2 L469.0 261.1 L469.5 260.9 L470.0 260.6 L470.5 260.1 L471.0 259.6 L471.5 258.8 L472.0 257.9 L472.5 256.8 L473.0 255.5 L473.5 254.2 L474.0 252.9 L474.5 251.7 L475.0 250.7 L475.5 250.1 L476.0 249.9 L476.5 250.1 L477.0 250.7 L477.5 251.7 L478.0 252.9 L478.5 254.2 L479.0 255.5 L479.5 256.8 L480.0 257.9 L480.5 258.8 L481.0 259.6 L481.5 260.1 L482.0 260.6 L482.5 260.9 L483.0 261.1 L483.5 261.2 L484.0 261.3 L484.5 261.4 L485.0 261.5 L486.0 261.5 L487.0 261.6 L488.0 261.7 L489.5 261.7 L491.0 261.8 L493.0 261.8 L496.5 261.9 L500.5 261.9 L507.5 262.0 L531.0 262.0 L576.5 262.0 L586.5 261.9 L592.5 261.9 L596.5 261.8 L599.5 261.8 L602.0 261.7 L604.0 261.6 L605.5 261.6 L607.0 261.5 L608.0 261.5 L609.0 261.4 L610.0 261.3 L611.0 261.2 L611.5 261.2 L612.0 261.1 L612.5 261.1 L613.0 261.0 L613.5 260.9 L614.0 260.9 L614.5 260.8 L615.0 260.7 L615.5 260.6 L616.0 260.5 L616.5 260.4 L617.0 260.3 L617.5 260.2 L618.0 260.0 L618.5 259.9 L619.0 259.7 L619.5 259.5 L620.0 259.2 L620.5 258.7 L621.0 257.9 L621.5 256.5 L622.0 253.8 L622.5 249.1 L623.0 241.3 L623.5 229.3 L624.0 212.3 L624.5 190.4 L625.0 164.8 L625.5 138.4 L626.0 115.1 L626.5 99.0 L627.0 93.3 L627.5 99.0 L628.0 115.1 L628.5 138.4 L629.0 164.8 L629.5 190.4 L630.0 212.3 L630.5 229.3 L631.0 241.3 L631.5 249.1 L632.0 253.8 L632.5 256.5 L633.0 257.9 L633.5 258.7 L634.0 259.2 L634.5 259.5 L635.0 259.7 L635.5 259.9 L636.0 260.0 L636.5 260.2 L637.0 260.3 L637.5 260.4 L638.0 260.5 L638.5 260.6 L639.0 260.7 L639.5 260.8 L640.0 260.9 L640.5 260.9 L641.0 261.0 L641.5 261.1 L642.0 261.1 L642.5 261.2 L643.5 261.3 L644.5 261.3 L645.5 261.4 L646.5 261.5 L647.5 261.5 L649.0 261.6 L650.5 261.6 L652.5 261.7 L655.0 261.7 L659.0 261.8 L668.0 261.7 L669.0 261.7 L669.5 261.6 L670.0 261.5 L670.5 261.4 L671.0 261.3 L671.5 261.1 L672.0 260.9 L672.5 260.6 L673.0 260.2 L673.5 259.9 L674.0 259.5 L674.5 259.2 L675.0 259.0 L675.5 258.8 L676.0 258.8 L676.5 258.8 L677.0 259.0 L677.5 259.3 L678.0 259.6 L678.5 259.9 L679.0 260.3 L679.5 260.6 L680.0 260.9 L680.5 261.1 L681.0 261.3 L681.5 261.5 L682.0 261.6 L682.5 261.7 L683.0 261.7 L684.0 261.8 L686.0 261.9 L689.5 261.9 L695.5 262.0 L748.5 261.9 L753.5 261.9 L757.0 261.8 L760.0 261.8 L762.0 261.7 L763.5 261.6 L765.0 261.6 L766.0 261.5 L767.0 261.5 L768.0 261.4 L769.0 261.3 L769.5 261.2 L770.0 261.2 L770.5 261.1 L771.0 261.1 L771.5 261.0 L772.0 260.9 L772.5 260.8 L773.0 260.7 L773.5 260.6 L774.0 260.5 L774.5 260.4 L775.0 260.2 L775.5 260.1 L776.0 259.9 L776.5 259.7 L777.0 259.4 L777.5 259.1 L778.0 258.7 L778.5 258.0 L779.0 257.1 L779.5 255.8 L780.0 254.0 L780.5 251.8 L781.0 249.4 L781.5 247.3 L782.0 245.8 L782.5 245.3 L783.0 245.8 L783.5 247.3 L784.0 249.4 L784.5 251.8 L785.0 253.9 L785.5 255.7 L786.0 257.1 L786.5 258.0 L787.0 258.7 L787.5 259.1 L788.0 259.4 L788.5 259.7 L789.0 259.9 L789.5 260.1 L790.0 260.2 L790.5 260.4 L791.0 260.5 L791.5 260.6 L792.0 260.7 L792.5 260.8 L793.0 260.9 L793.5 261.0 L794.0 261.0 L794.5 261.1 L795.0 261.2 L795.5 261.2 L796.5 261.3 L797.5 261.4 L798.5 261.5 L799.5 261.5 L801.0 261.6 L802.5 261.6 L804.5 261.7 L807.0 261.7 L811.0 261.8 L832.5 261.8 L835.5 261.7 L838.0 261.6 L840.0 261.6 L841.5 261.5 L843.0 261.5 L844.0 261.4 L845.0 261.3 L846.0 261.3 L847.0 261.2 L848.0 261.1 L848.5 261.0 L849.0 261.0 L849.5 260.9 L850.0 260.9 L850.5 260.8 L851.0 260.7 L851.5 260.6 L852.0 260.5 L852.5 260.4 L853.0 260.3 L853.5 260.2 L854.0 260.0 L854.5 259.9 L855.0 259.7 L855.5 259.5 L856.0 259.3 L856.5 259.1 L857.0 258.8 L857.5 258.5 L858.0 258.2 L858.5 257.8 L859.0 257.3 L859.5 256.6 L860.0 255.5 L860.5 254.0 L861.0 251.8 L861.5 248.9 L862.0 245.3 L862.5 241.5 L863.0 238.1 L863.5 235.6 L864.0 234.7 L864.5 235.6 L865.0 238.1 L865.5 241.5 L866.0 245.3 L866.5 248.9 L867.0 251.8 L867.5 254.0 L868.0 255.5 L868.5 256.6 L869.0 257.3 L869.5 257.8 L870.0 258.2 L870.5 258.5 L871.0 258.8 L871.5 259.1 L872.0 259.3 L872.5 259.5 L873.0 259.7 L873.5 259.9 L874.0 260.0 L874.5 260.2 L875.0 260.3 L875.5 260.4 L876.0 260.5 L876.5 260.6 L877.0 260.7 L877.5 260.8 L878.0 260.9 L878.5 260.9 L879.0 261.0 L879.5 261.0 L880.0 261.1 L881.0 261.2 L882.0 261.3 L883.0 261.3 L884.0 261.4 L885.0 261.5 L886.5 261.5 L888.0 261.6 L890.0 261.6 L892.5 261.7 L895.5 261.8 L900.0 261.8 L908.0 261.9 L922.0 261.8 L926.0 261.7 L928.5 261.7 L930.5 261.6 L932.0 261.6 L933.5 261.5 L934.5 261.5 L935.5 261.4 L936.0 261.4 L936.5 261.3 L937.5 261.2 L938.0 261.2 L938.5 261.1 L939.0 261.1 L939.5 261.0 L940.0 260.9 L940.5 260.9 L941.0 260.8 L941.5 260.7 L942.0 260.6 L942.5 260.5 L943.0 260.4 L943.5 260.3 L944.0 260.1 L944.5 259.9 L945.0 259.8 L945.5 259.6 L946.0 259.4 L946.5 259.1 L947.0 258.8 L947.5 258.4 L948.0 257.8 L948.5 257.0 L949.0 255.8 L949.5 254.0 L950.0 251.7 L950.5 249.0 L951.0 246.2 L951.5 243.8 L952.0 242.2 L952.5 241.8 L953.0 242.7 L953.5 244.7 L954.0 247.3 L954.5 250.2 L955.0 252.7 L955.5 254.8 L956.0 256.3 L956.5 257.4 L957.0 258.1 L957.5 258.6 L958.0 258.9 L958.5 259.2 L959.0 259.5 L959.5 259.7 L960.0 259.8 L960.5 260.0 L961.0 260.2 L961.5 260.3 L962.0 260.4 L962.5 260.5 L963.0 260.6 L963.5 260.7 L964.0 260.8 L964.5 260.9 L965.0 261.0 L965.5 261.0 L966.0 261.1 L966.5 261.1 L967.5 261.2 L968.5 261.3 L969.5 261.4 L970.5 261.4 L971.5 261.5 L973.0 261.6 L974.5 261.6 L976.5 261.7 L979.0 261.7 L982.5 261.8 L986.0 261.8 L1014.0 261.8 L1018.0 261.7 L1021.0 261.7 L1023.5 261.6 L1025.5 261.5 L1027.0 261.5 L1028.5 261.4 L1030.0 261.4 L1031.0 261.3 L1032.0 261.3 L1033.0 261.2 L1034.0 261.1 L1035.0 261.0 L1035.5 261.0 L1036.0 260.9 L1036.5 260.8 L1037.0 260.7 L1037.5 260.6 L1038.0 260.4 L1038.5 260.2 L1039.0 259.9 L1039.5 259.6 L1040.0 259.2 L1040.5 258.7 L1041.0 258.2 L1041.5 257.6 L1042.0 257.0 L1042.5 256.4 L1043.0 255.8 L1043.5 255.3 L1044.0 254.8 L1044.5 254.5 L1045.0 254.3 L1045.5 254.2 L1046.0 254.3 L1046.5 254.5 L1047.0 254.7 L1047.5 255.0 L1048.0 255.3 L1048.5 255.6 L1049.0 255.9 L1049.5 256.1 L1050.0 256.1 L1050.5 256.0 L1051.0 255.8 L1051.5 255.3 L1052.0 254.4 L1052.5 252.9 L1053.0 250.8 L1053.5 247.9 L1054.0 244.3 L1054.5 240.5 L1055.0 236.9 L1055.5 234.5 L1056.0 233.6 L1056.5 234.5 L1057.0 236.9 L1057.5 240.5 L1058.0 244.3 L1058.5 247.9 L1059.0 250.9 L1059.5 253.1 L1060.0 254.6 L1060.5 255.7 L1061.0 256.4 L1061.5 256.9 L1062.0 257.2 L1062.5 257.5 L1063.0 257.8 L1063.5 258.0 L1064.0 258.2 L1064.5 258.4 L1065.0 258.5 L1065.5 258.7 L1066.0 258.8 L1066.5 258.8 L1067.0 258.9 L1068.0 259.0 L1069.5 258.9 L1070.0 258.8 L1070.5 258.8 L1071.0 258.7 L1071.5 258.6 L1072.0 258.4 L1072.5 258.3 L1073.0 258.1 L1073.5 257.9 L1074.0 257.6 L1074.5 257.3 L1075.0 256.9 L1075.5 256.4 L1076.0 255.6 L1076.5 254.5 L1077.0 252.9 L1077.5 250.5 L1078.0 247.4 L1078.5 243.7 L1079.0 239.9 L1079.5 236.6 L1080.0 234.4 L1080.5 233.8 L1081.0 235.1 L1081.5 237.9 L1082.0 241.6 L1082.5 245.4 L1083.0 248.9 L1083.5 251.8 L1084.0 253.9 L1084.5 255.3 L1085.0 256.3 L1085.5 257.0 L1086.0 257.5 L1086.5 257.9 L1087.0 258.3 L1087.5 258.5 L1088.0 258.8 L1088.5 259.1 L1089.0 259.3 L1089.5 259.5 L1090.0 259.6 L1090.5 259.8 L1091.0 260.0 L1091.5 260.1 L1092.0 260.2 L1092.5 260.3 L1093.0 260.4 L1093.5 260.5 L1094.0 260.6 L1094.5 260.7 L1095.0 260.8 L1095.5 260.8 L1096.0 260.9 L1096.5 261.0 L1097.0 261.0 L1097.5 261.1 L1098.5 261.2 L1099.5 261.2 L1100.5 261.3 L1101.5 261.4 L1102.5 261.4 L1104.0 261.5 L1105.5 261.5 L1107.0 261.6 L1109.0 261.7 L1111.5 261.7 L1114.5 261.8 L1118.0 261.8 L1123.0 261.9 L1130.0 261.9 L1141.0 262.0 L1164.0 262.0 L1200.5 262.1 L1242.0 262.0 L1251.5 262.0 L1256.5 261.9 L1259.5 261.9 L1261.5 261.8 L1262.5 261.7 L1263.0 261.7 L1263.5 261.6 L1264.0 261.5 L1264.5 261.4 L1265.0 261.2 L1265.5 261.0 L1266.0 260.7 L1266.5 260.4 L1267.0 260.1 L1267.5 259.8 L1268.0 259.5 L1268.5 259.3 L1269.0 259.2 L1269.5 259.1 L1270.0 259.1 L1270.5 259.3 L1271.0 259.5 L1271.5 259.7 L1272.0 260.0 L1272.5 260.3 L1273.0 260.6 L1273.5 260.8 L1274.0 261.0 L1274.5 261.2 L1275.0 261.3 L1275.5 261.4 L1276.0 261.4 L1280.0 261.4 L1280.5 261.3 L1281.0 261.2 L1281.5 261.1 L1282.0 261.0 L1282.5 260.7 L1283.0 260.4 L1283.5 259.9 L1284.0 259.3 L1284.5 258.5 L1285.0 257.5 L1285.5 256.4 L1286.0 255.3 L1286.5 254.1 L1287.0 253.0 L1287.5 252.1 L1288.0 251.5 L1288.5 251.2 L1289.0 251.4 L1289.5 251.8 L1290.0 252.6 L1290.5 253.7 L1291.0 254.8 L1291.5 256.0 L1292.0 257.1 L1292.5 258.1 L1293.0 259.0 L1293.5 259.7 L1294.0 260.2 L1294.5 260.6 L1295.0 260.9 L1295.5 261.1 L1296.0 261.3 L1296.5 261.4 L1297.0 261.4 L1297.5 261.5 L1298.5 261.6 L1299.5 261.6 L1301.0 261.7 L1302.5 261.8 L1304.5 261.8 L1307.0 261.9 L1310.5 261.9 L1316.0 262.0 L1331.0 262.0 L1352.0 262.0 L1356.5 261.9 L1359.0 261.8 L1360.0 261.8 L1360.5 261.7 L1361.0 261.6 L1361.5 261.5 L1362.0 261.4 L1362.5 261.2 L1363.0 260.9 L1363.5 260.6 L1364.0 260.3 L1364.5 259.9 L1365.0 259.5 L1365.5 259.2 L1366.0 259.0 L1366.5 258.8 L1367.0 258.7 L1367.5 258.8 L1368.0 259.0 L1368.5 259.2 L1369.0 259.5 L1369.5 259.9 L1370.0 260.2 L1370.5 260.6 L1371.0 260.9 L1371.5 261.1 L1372.0 261.3 L1372.5 261.5 L1373.0 261.6 L1373.5 261.7 L1374.0 261.7 L1375.5 261.8 L1377.0 261.7 L1377.5 261.6 L1378.0 261.6 L1378.5 261.5 L1379.0 261.3 L1379.5 261.2 L1380.0 261.0 L1380.5 260.8 L1381.0 260.6 L1381.5 260.4 L1382.0 260.3 L1382.5 260.2 L1383.5 260.2 L1384.0 260.3 L1384.5 260.5 L1385.0 260.6 L1385.5 260.8 L1386.0 261.0 L1386.5 261.2 L1387.0 261.4 L1387.5 261.5 L1388.0 261.6 L1388.5 261.7 L1389.0 261.8 L1390.0 261.9 L1391.5 261.9 L1396.5 262.0 L1416.5 261.9 L1417.5 261.8 L1418.0 261.8 L1418.5 261.7 L1419.0 261.6 L1419.5 261.5 L1420.0 261.3 L1420.5 261.2 L1421.0 261.1 L1421.5 260.9 L1422.0 260.8 L1422.5 260.8 L1423.5 260.8 L1424.0 260.8 L1424.5 260.9 L1425.0 261.1 L1425.5 261.2 L1426.0 261.3 L1426.5 261.5 L1427.0 261.6 L1427.5 261.7 L1428.0 261.8 L1428.5 261.8 L1429.5 261.9 L1431.5 262.0 L1446.0 261.9 L1449.0 261.8 L1450.5 261.8 L1451.0 261.7 L1451.5 261.6 L1452.0 261.5 L1452.5 261.4 L1453.0 261.2 L1453.5 260.9 L1454.0 260.6 L1454.5 260.2 L1455.0 259.8 L1455.5 259.3 L1456.0 258.9 L1456.5 258.5 L1457.0 258.1 L1457.5 257.9 L1458.0 257.9 L1458.5 257.9 L1459.0 258.1 L1459.5 258.5 L1460.0 258.9 L1460.5 259.3 L1461.0 259.8 L1461.5 260.2 L1462.0 260.6 L1462.5 260.9 L1463.0 261.2 L1463.5 261.4 L1464.0 261.5 L1464.5 261.6 L1465.0 261.7 L1466.0 261.8 L1467.5 261.8 L1471.0 261.9 L1478.0 261.8 L1478.5 261.8 L1479.0 261.7 L1479.5 261.7 L1480.0 261.6 L1480.5 261.4 L1481.0 261.2 L1481.5 261.0 L1482.0 260.8 L1482.5 260.5 L1483.0 260.3 L1483.5 260.1 L1484.0 259.9 L1484.5 259.8 L1485.5 259.8 L1486.0 259.9 L1486.5 260.1 L1487.0 260.3 L1487.5 260.6 L1488.0 260.8 L1488.5 261.1 L1489.0 261.3 L1489.5 261.4 L1490.0 261.6 L1490.5 261.7 L1491.0 261.8 L1491.5 261.8 L1492.5 261.9 L1494.5 262.0 L1499.5 262.0 L1513.0 262.1 L1585.5 262.0 L1587.0 261.9 L1587.5 261.9 L1588.0 261.8 L1588.5 261.7 L1589.0 261.6 L1589.5 261.5 L1590.0 261.4 L1590.5 261.2 L1591.0 261.1 L1591.5 261.0 L1592.0 260.9 L1592.5 260.8 L1593.5 260.8 L1594.0 260.9 L1594.5 261.0 L1595.0 261.1 L1595.5 261.2 L1596.0 261.4 L1596.5 261.5 L1597.0 261.6 L1597.5 261.7 L1598.0 261.8 L1598.5 261.9 L1599.5 262.0 L1601.5 262.0 L1613.5 262.1 L1645.5 262.0 L1647.5 261.9 L1648.0 261.9 L1648.5 261.8 L1649.0 261.7 L1649.5 261.6 L1650.0 261.5 L1650.5 261.4 L1651.0 261.3 L1651.5 261.1 L1652.0 261.0 L1652.5 260.9 L1653.0 260.8 L1654.0 260.8 L1654.5 260.9 L1655.0 261.0 L1655.5 261.1 L1656.0 261.3 L1656.5 261.4 L1657.0 261.5 L1657.5 261.6 L1658.0 261.7 L1658.5 261.8 L1659.0 261.9 L1660.0 262.0 L1662.0 262.0 L1672.5 262.1 L1750.5 262.0 L1752.5 261.9 L1753.0 261.9 L1753.5 261.8 L1754.0 261.8 L1754.5 261.7 L1755.0 261.6 L1755.5 261.4 L1756.0 261.3 L1756.5 261.1 L1757.0 261.0 L1757.5 260.9 L1758.0 260.8 L1759.0 260.8 L1759.5 260.9 L1760.0 261.0 L1760.5 261.1 L1761.0 261.2 L1761.5 261.4 L1762.0 261.5 L1762.5 261.6 L1763.0 261.7 L1763.5 261.8 L1764.0 261.9 L1765.0 262.0 L1766.5 262.0 L1774.0 262.1 L1827.5 262.1" transform="translate(0 -2.2)" fill="none" stroke="#bfe0c8" stroke-width="8.5" stroke-linejoin="round"/>
<path d="M163.0 262.1 L432.5 262.0 L446.0 262.0 L452.5 261.9 L456.5 261.9 L459.0 261.8 L461.0 261.8 L462.5 261.7 L464.0 261.7 L465.0 261.6 L466.0 261.5 L467.0 261.5 L467.5 261.4 L468.0 261.3 L468.5 261.2 L469.0 261.1 L469.5 260.9 L470.0 260.6 L470.5 260.1 L471.0 259.6 L471.5 258.8 L472.0 257.9 L472.5 256.8 L473.0 255.5 L473.5 254.2 L474.0 252.9 L474.5 251.7 L475.0 250.7 L475.5 250.1 L476.0 249.9 L476.5 250.1 L477.0 250.7 L477.5 251.7 L478.0 252.9 L478.5 254.2 L479.0 255.5 L479.5 256.8 L480.0 257.9 L480.5 258.8 L481.0 259.6 L481.5 260.1 L482.0 260.6 L482.5 260.9 L483.0 261.1 L483.5 261.2 L484.0 261.3 L484.5 261.4 L485.0 261.5 L486.0 261.5 L487.0 261.6 L488.0 261.7 L489.5 261.7 L491.0 261.8 L493.0 261.8 L496.5 261.9 L500.5 261.9 L507.5 262.0 L531.0 262.0 L576.5 262.0 L586.5 261.9 L592.5 261.9 L596.5 261.8 L599.5 261.8 L602.0 261.7 L604.0 261.6 L605.5 261.6 L607.0 261.5 L608.0 261.5 L609.0 261.4 L610.0 261.3 L611.0 261.2 L611.5 261.2 L612.0 261.1 L612.5 261.1 L613.0 261.0 L613.5 260.9 L614.0 260.9 L614.5 260.8 L615.0 260.7 L615.5 260.6 L616.0 260.5 L616.5 260.4 L617.0 260.3 L617.5 260.2 L618.0 260.0 L618.5 259.9 L619.0 259.7 L619.5 259.5 L620.0 259.2 L620.5 258.7 L621.0 257.9 L621.5 256.5 L622.0 253.8 L622.5 249.1 L623.0 241.3 L623.5 229.3 L624.0 212.3 L624.5 190.4 L625.0 164.8 L625.5 138.4 L626.0 115.1 L626.5 99.0 L627.0 93.3 L627.5 99.0 L628.0 115.1 L628.5 138.4 L629.0 164.8 L629.5 190.4 L630.0 212.3 L630.5 229.3 L631.0 241.3 L631.5 249.1 L632.0 253.8 L632.5 256.5 L633.0 257.9 L633.5 258.7 L634.0 259.2 L634.5 259.5 L635.0 259.7 L635.5 259.9 L636.0 260.0 L636.5 260.2 L637.0 260.3 L637.5 260.4 L638.0 260.5 L638.5 260.6 L639.0 260.7 L639.5 260.8 L640.0 260.9 L640.5 260.9 L641.0 261.0 L641.5 261.1 L642.0 261.1 L642.5 261.2 L643.5 261.3 L644.5 261.3 L645.5 261.4 L646.5 261.5 L647.5 261.5 L649.0 261.6 L650.5 261.6 L652.5 261.7 L655.0 261.7 L659.0 261.8 L668.0 261.7 L669.0 261.7 L669.5 261.6 L670.0 261.5 L670.5 261.4 L671.0 261.3 L671.5 261.1 L672.0 260.9 L672.5 260.6 L673.0 260.2 L673.5 259.9 L674.0 259.5 L674.5 259.2 L675.0 259.0 L675.5 258.8 L676.0 258.8 L676.5 258.8 L677.0 259.0 L677.5 259.3 L678.0 259.6 L678.5 259.9 L679.0 260.3 L679.5 260.6 L680.0 260.9 L680.5 261.1 L681.0 261.3 L681.5 261.5 L682.0 261.6 L682.5 261.7 L683.0 261.7 L684.0 261.8 L686.0 261.9 L689.5 261.9 L695.5 262.0 L748.5 261.9 L753.5 261.9 L757.0 261.8 L760.0 261.8 L762.0 261.7 L763.5 261.6 L765.0 261.6 L766.0 261.5 L767.0 261.5 L768.0 261.4 L769.0 261.3 L769.5 261.2 L770.0 261.2 L770.5 261.1 L771.0 261.1 L771.5 261.0 L772.0 260.9 L772.5 260.8 L773.0 260.7 L773.5 260.6 L774.0 260.5 L774.5 260.4 L775.0 260.2 L775.5 260.1 L776.0 259.9 L776.5 259.7 L777.0 259.4 L777.5 259.1 L778.0 258.7 L778.5 258.0 L779.0 257.1 L779.5 255.8 L780.0 254.0 L780.5 251.8 L781.0 249.4 L781.5 247.3 L782.0 245.8 L782.5 245.3 L783.0 245.8 L783.5 247.3 L784.0 249.4 L784.5 251.8 L785.0 253.9 L785.5 255.7 L786.0 257.1 L786.5 258.0 L787.0 258.7 L787.5 259.1 L788.0 259.4 L788.5 259.7 L789.0 259.9 L789.5 260.1 L790.0 260.2 L790.5 260.4 L791.0 260.5 L791.5 260.6 L792.0 260.7 L792.5 260.8 L793.0 260.9 L793.5 261.0 L794.0 261.0 L794.5 261.1 L795.0 261.2 L795.5 261.2 L796.5 261.3 L797.5 261.4 L798.5 261.5 L799.5 261.5 L801.0 261.6 L802.5 261.6 L804.5 261.7 L807.0 261.7 L811.0 261.8 L832.5 261.8 L835.5 261.7 L838.0 261.6 L840.0 261.6 L841.5 261.5 L843.0 261.5 L844.0 261.4 L845.0 261.3 L846.0 261.3 L847.0 261.2 L848.0 261.1 L848.5 261.0 L849.0 261.0 L849.5 260.9 L850.0 260.9 L850.5 260.8 L851.0 260.7 L851.5 260.6 L852.0 260.5 L852.5 260.4 L853.0 260.3 L853.5 260.2 L854.0 260.0 L854.5 259.9 L855.0 259.7 L855.5 259.5 L856.0 259.3 L856.5 259.1 L857.0 258.8 L857.5 258.5 L858.0 258.2 L858.5 257.8 L859.0 257.3 L859.5 256.6 L860.0 255.5 L860.5 254.0 L861.0 251.8 L861.5 248.9 L862.0 245.3 L862.5 241.5 L863.0 238.1 L863.5 235.6 L864.0 234.7 L864.5 235.6 L865.0 238.1 L865.5 241.5 L866.0 245.3 L866.5 248.9 L867.0 251.8 L867.5 254.0 L868.0 255.5 L868.5 256.6 L869.0 257.3 L869.5 257.8 L870.0 258.2 L870.5 258.5 L871.0 258.8 L871.5 259.1 L872.0 259.3 L872.5 259.5 L873.0 259.7 L873.5 259.9 L874.0 260.0 L874.5 260.2 L875.0 260.3 L875.5 260.4 L876.0 260.5 L876.5 260.6 L877.0 260.7 L877.5 260.8 L878.0 260.9 L878.5 260.9 L879.0 261.0 L879.5 261.0 L880.0 261.1 L881.0 261.2 L882.0 261.3 L883.0 261.3 L884.0 261.4 L885.0 261.5 L886.5 261.5 L888.0 261.6 L890.0 261.6 L892.5 261.7 L895.5 261.8 L900.0 261.8 L908.0 261.9 L922.0 261.8 L926.0 261.7 L928.5 261.7 L930.5 261.6 L932.0 261.6 L933.5 261.5 L934.5 261.5 L935.5 261.4 L936.0 261.4 L936.5 261.3 L937.5 261.2 L938.0 261.2 L938.5 261.1 L939.0 261.1 L939.5 261.0 L940.0 260.9 L940.5 260.9 L941.0 260.8 L941.5 260.7 L942.0 260.6 L942.5 260.5 L943.0 260.4 L943.5 260.3 L944.0 260.1 L944.5 259.9 L945.0 259.8 L945.5 259.6 L946.0 259.4 L946.5 259.1 L947.0 258.8 L947.5 258.4 L948.0 257.8 L948.5 257.0 L949.0 255.8 L949.5 254.0 L950.0 251.7 L950.5 249.0 L951.0 246.2 L951.5 243.8 L952.0 242.2 L952.5 241.8 L953.0 242.7 L953.5 244.7 L954.0 247.3 L954.5 250.2 L955.0 252.7 L955.5 254.8 L956.0 256.3 L956.5 257.4 L957.0 258.1 L957.5 258.6 L958.0 258.9 L958.5 259.2 L959.0 259.5 L959.5 259.7 L960.0 259.8 L960.5 260.0 L961.0 260.2 L961.5 260.3 L962.0 260.4 L962.5 260.5 L963.0 260.6 L963.5 260.7 L964.0 260.8 L964.5 260.9 L965.0 261.0 L965.5 261.0 L966.0 261.1 L966.5 261.1 L967.5 261.2 L968.5 261.3 L969.5 261.4 L970.5 261.4 L971.5 261.5 L973.0 261.6 L974.5 261.6 L976.5 261.7 L979.0 261.7 L982.5 261.8 L986.0 261.8 L1014.0 261.8 L1018.0 261.7 L1021.0 261.7 L1023.5 261.6 L1025.5 261.5 L1027.0 261.5 L1028.5 261.4 L1030.0 261.4 L1031.0 261.3 L1032.0 261.3 L1033.0 261.2 L1034.0 261.1 L1035.0 261.0 L1035.5 261.0 L1036.0 260.9 L1036.5 260.8 L1037.0 260.7 L1037.5 260.6 L1038.0 260.4 L1038.5 260.2 L1039.0 259.9 L1039.5 259.6 L1040.0 259.2 L1040.5 258.7 L1041.0 258.2 L1041.5 257.6 L1042.0 257.0 L1042.5 256.4 L1043.0 255.8 L1043.5 255.3 L1044.0 254.8 L1044.5 254.5 L1045.0 254.3 L1045.5 254.2 L1046.0 254.3 L1046.5 254.5 L1047.0 254.7 L1047.5 255.0 L1048.0 255.3 L1048.5 255.6 L1049.0 255.9 L1049.5 256.1 L1050.0 256.1 L1050.5 256.0 L1051.0 255.8 L1051.5 255.3 L1052.0 254.4 L1052.5 252.9 L1053.0 250.8 L1053.5 247.9 L1054.0 244.3 L1054.5 240.5 L1055.0 236.9 L1055.5 234.5 L1056.0 233.6 L1056.5 234.5 L1057.0 236.9 L1057.5 240.5 L1058.0 244.3 L1058.5 247.9 L1059.0 250.9 L1059.5 253.1 L1060.0 254.6 L1060.5 255.7 L1061.0 256.4 L1061.5 256.9 L1062.0 257.2 L1062.5 257.5 L1063.0 257.8 L1063.5 258.0 L1064.0 258.2 L1064.5 258.4 L1065.0 258.5 L1065.5 258.7 L1066.0 258.8 L1066.5 258.8 L1067.0 258.9 L1068.0 259.0 L1069.5 258.9 L1070.0 258.8 L1070.5 258.8 L1071.0 258.7 L1071.5 258.6 L1072.0 258.4 L1072.5 258.3 L1073.0 258.1 L1073.5 257.9 L1074.0 257.6 L1074.5 257.3 L1075.0 256.9 L1075.5 256.4 L1076.0 255.6 L1076.5 254.5 L1077.0 252.9 L1077.5 250.5 L1078.0 247.4 L1078.5 243.7 L1079.0 239.9 L1079.5 236.6 L1080.0 234.4 L1080.5 233.8 L1081.0 235.1 L1081.5 237.9 L1082.0 241.6 L1082.5 245.4 L1083.0 248.9 L1083.5 251.8 L1084.0 253.9 L1084.5 255.3 L1085.0 256.3 L1085.5 257.0 L1086.0 257.5 L1086.5 257.9 L1087.0 258.3 L1087.5 258.5 L1088.0 258.8 L1088.5 259.1 L1089.0 259.3 L1089.5 259.5 L1090.0 259.6 L1090.5 259.8 L1091.0 260.0 L1091.5 260.1 L1092.0 260.2 L1092.5 260.3 L1093.0 260.4 L1093.5 260.5 L1094.0 260.6 L1094.5 260.7 L1095.0 260.8 L1095.5 260.8 L1096.0 260.9 L1096.5 261.0 L1097.0 261.0 L1097.5 261.1 L1098.5 261.2 L1099.5 261.2 L1100.5 261.3 L1101.5 261.4 L1102.5 261.4 L1104.0 261.5 L1105.5 261.5 L1107.0 261.6 L1109.0 261.7 L1111.5 261.7 L1114.5 261.8 L1118.0 261.8 L1123.0 261.9 L1130.0 261.9 L1141.0 262.0 L1164.0 262.0 L1200.5 262.1 L1242.0 262.0 L1251.5 262.0 L1256.5 261.9 L1259.5 261.9 L1261.5 261.8 L1262.5 261.7 L1263.0 261.7 L1263.5 261.6 L1264.0 261.5 L1264.5 261.4 L1265.0 261.2 L1265.5 261.0 L1266.0 260.7 L1266.5 260.4 L1267.0 260.1 L1267.5 259.8 L1268.0 259.5 L1268.5 259.3 L1269.0 259.2 L1269.5 259.1 L1270.0 259.1 L1270.5 259.3 L1271.0 259.5 L1271.5 259.7 L1272.0 260.0 L1272.5 260.3 L1273.0 260.6 L1273.5 260.8 L1274.0 261.0 L1274.5 261.2 L1275.0 261.3 L1275.5 261.4 L1276.0 261.4 L1280.0 261.4 L1280.5 261.3 L1281.0 261.2 L1281.5 261.1 L1282.0 261.0 L1282.5 260.7 L1283.0 260.4 L1283.5 259.9 L1284.0 259.3 L1284.5 258.5 L1285.0 257.5 L1285.5 256.4 L1286.0 255.3 L1286.5 254.1 L1287.0 253.0 L1287.5 252.1 L1288.0 251.5 L1288.5 251.2 L1289.0 251.4 L1289.5 251.8 L1290.0 252.6 L1290.5 253.7 L1291.0 254.8 L1291.5 256.0 L1292.0 257.1 L1292.5 258.1 L1293.0 259.0 L1293.5 259.7 L1294.0 260.2 L1294.5 260.6 L1295.0 260.9 L1295.5 261.1 L1296.0 261.3 L1296.5 261.4 L1297.0 261.4 L1297.5 261.5 L1298.5 261.6 L1299.5 261.6 L1301.0 261.7 L1302.5 261.8 L1304.5 261.8 L1307.0 261.9 L1310.5 261.9 L1316.0 262.0 L1331.0 262.0 L1352.0 262.0 L1356.5 261.9 L1359.0 261.8 L1360.0 261.8 L1360.5 261.7 L1361.0 261.6 L1361.5 261.5 L1362.0 261.4 L1362.5 261.2 L1363.0 260.9 L1363.5 260.6 L1364.0 260.3 L1364.5 259.9 L1365.0 259.5 L1365.5 259.2 L1366.0 259.0 L1366.5 258.8 L1367.0 258.7 L1367.5 258.8 L1368.0 259.0 L1368.5 259.2 L1369.0 259.5 L1369.5 259.9 L1370.0 260.2 L1370.5 260.6 L1371.0 260.9 L1371.5 261.1 L1372.0 261.3 L1372.5 261.5 L1373.0 261.6 L1373.5 261.7 L1374.0 261.7 L1375.5 261.8 L1377.0 261.7 L1377.5 261.6 L1378.0 261.6 L1378.5 261.5 L1379.0 261.3 L1379.5 261.2 L1380.0 261.0 L1380.5 260.8 L1381.0 260.6 L1381.5 260.4 L1382.0 260.3 L1382.5 260.2 L1383.5 260.2 L1384.0 260.3 L1384.5 260.5 L1385.0 260.6 L1385.5 260.8 L1386.0 261.0 L1386.5 261.2 L1387.0 261.4 L1387.5 261.5 L1388.0 261.6 L1388.5 261.7 L1389.0 261.8 L1390.0 261.9 L1391.5 261.9 L1396.5 262.0 L1416.5 261.9 L1417.5 261.8 L1418.0 261.8 L1418.5 261.7 L1419.0 261.6 L1419.5 261.5 L1420.0 261.3 L1420.5 261.2 L1421.0 261.1 L1421.5 260.9 L1422.0 260.8 L1422.5 260.8 L1423.5 260.8 L1424.0 260.8 L1424.5 260.9 L1425.0 261.1 L1425.5 261.2 L1426.0 261.3 L1426.5 261.5 L1427.0 261.6 L1427.5 261.7 L1428.0 261.8 L1428.5 261.8 L1429.5 261.9 L1431.5 262.0 L1446.0 261.9 L1449.0 261.8 L1450.5 261.8 L1451.0 261.7 L1451.5 261.6 L1452.0 261.5 L1452.5 261.4 L1453.0 261.2 L1453.5 260.9 L1454.0 260.6 L1454.5 260.2 L1455.0 259.8 L1455.5 259.3 L1456.0 258.9 L1456.5 258.5 L1457.0 258.1 L1457.5 257.9 L1458.0 257.9 L1458.5 257.9 L1459.0 258.1 L1459.5 258.5 L1460.0 258.9 L1460.5 259.3 L1461.0 259.8 L1461.5 260.2 L1462.0 260.6 L1462.5 260.9 L1463.0 261.2 L1463.5 261.4 L1464.0 261.5 L1464.5 261.6 L1465.0 261.7 L1466.0 261.8 L1467.5 261.8 L1471.0 261.9 L1478.0 261.8 L1478.5 261.8 L1479.0 261.7 L1479.5 261.7 L1480.0 261.6 L1480.5 261.4 L1481.0 261.2 L1481.5 261.0 L1482.0 260.8 L1482.5 260.5 L1483.0 260.3 L1483.5 260.1 L1484.0 259.9 L1484.5 259.8 L1485.5 259.8 L1486.0 259.9 L1486.5 260.1 L1487.0 260.3 L1487.5 260.6 L1488.0 260.8 L1488.5 261.1 L1489.0 261.3 L1489.5 261.4 L1490.0 261.6 L1490.5 261.7 L1491.0 261.8 L1491.5 261.8 L1492.5 261.9 L1494.5 262.0 L1499.5 262.0 L1513.0 262.1 L1585.5 262.0 L1587.0 261.9 L1587.5 261.9 L1588.0 261.8 L1588.5 261.7 L1589.0 261.6 L1589.5 261.5 L1590.0 261.4 L1590.5 261.2 L1591.0 261.1 L1591.5 261.0 L1592.0 260.9 L1592.5 260.8 L1593.5 260.8 L1594.0 260.9 L1594.5 261.0 L1595.0 261.1 L1595.5 261.2 L1596.0 261.4 L1596.5 261.5 L1597.0 261.6 L1597.5 261.7 L1598.0 261.8 L1598.5 261.9 L1599.5 262.0 L1601.5 262.0 L1613.5 262.1 L1645.5 262.0 L1647.5 261.9 L1648.0 261.9 L1648.5 261.8 L1649.0 261.7 L1649.5 261.6 L1650.0 261.5 L1650.5 261.4 L1651.0 261.3 L1651.5 261.1 L1652.0 261.0 L1652.5 260.9 L1653.0 260.8 L1654.0 260.8 L1654.5 260.9 L1655.0 261.0 L1655.5 261.1 L1656.0 261.3 L1656.5 261.4 L1657.0 261.5 L1657.5 261.6 L1658.0 261.7 L1658.5 261.8 L1659.0 261.9 L1660.0 262.0 L1662.0 262.0 L1672.5 262.1 L1750.5 262.0 L1752.5 261.9 L1753.0 261.9 L1753.5 261.8 L1754.0 261.8 L1754.5 261.7 L1755.0 261.6 L1755.5 261.4 L1756.0 261.3 L1756.5 261.1 L1757.0 261.0 L1757.5 260.9 L1758.0 260.8 L1759.0 260.8 L1759.5 260.9 L1760.0 261.0 L1760.5 261.1 L1761.0 261.2 L1761.5 261.4 L1762.0 261.5 L1762.5 261.6 L1763.0 261.7 L1763.5 261.8 L1764.0 261.9 L1765.0 262.0 L1766.5 262.0 L1774.0 262.1 L1827.5 262.1" fill="none" stroke="#14903c" stroke-width="4.6" stroke-linejoin="round"/>
<path d="M467.5 1147.5 L484.5 1147.5 L484.5 1153.5 L480.0 1157.0 L480.0 1162.0 L476.0 1166.5 L472.0 1162.0 L472.0 1157.0 L467.5 1153.5 Z" fill="#0a0a0a"/>
<path d="M621.8 960.5 L638.8 960.5 L638.8 966.5 L634.3 970.0 L634.3 975.0 L630.3 979.5 L626.3 975.0 L626.3 970.0 L621.8 966.5 Z" fill="#0a0a0a"/>
<path d="M665.5 1152.5 L682.5 1152.5 L682.5 1158.5 L678.0 1162.0 L678.0 1167.0 L674.0 1171.5 L670.0 1167.0 L670.0 1162.0 L665.5 1158.5 Z" fill="#0a0a0a"/>
<path d="M773.2 1146.1 L790.2 1146.1 L790.2 1152.1 L785.7 1155.6 L785.7 1160.6 L781.7 1165.1 L777.7 1160.6 L777.7 1155.6 L773.2 1152.1 Z" fill="#0a0a0a"/>
<path d="M855.5 1139.5 L872.5 1139.5 L872.5 1145.5 L868.0 1149.0 L868.0 1154.0 L864.0 1158.5 L860.0 1154.0 L860.0 1149.0 L855.5 1145.5 Z" fill="#0a0a0a"/>
<path d="M942.3 1143.2 L959.3 1143.2 L959.3 1149.2 L954.8 1152.7 L954.8 1157.7 L950.8 1162.2 L946.8 1157.7 L946.8 1152.7 L942.3 1149.2 Z" fill="#0a0a0a"/>
<path d="M1045.5 1135.5 L1062.5 1135.5 L1062.5 1141.5 L1058.0 1145.0 L1058.0 1150.0 L1054.0 1154.5 L1050.0 1150.0 L1050.0 1145.0 L1045.5 1141.5 Z" fill="#0a0a0a"/>
<path d="M1068.5 1135.5 L1085.5 1135.5 L1085.5 1141.5 L1081.0 1145.0 L1081.0 1150.0 L1077.0 1154.5 L1073.0 1150.0 L1073.0 1145.0 L1068.5 1141.5 Z" fill="#0a0a0a"/>
<path d="M1278.5 1146.5 L1295.5 1146.5 L1295.5 1152.5 L1291.0 1156.0 L1291.0 1161.0 L1287.0 1165.5 L1283.0 1161.0 L1283.0 1156.0 L1278.5 1152.5 Z" fill="#0a0a0a"/>
<path d="M1360.5 1145.0 L1377.5 1145.0 L1377.5 1151.0 L1373.0 1154.5 L1373.0 1159.5 L1369.0 1164.0 L1365.0 1159.5 L1365.0 1154.5 L1360.5 1151.0 Z" fill="#0a0a0a"/>
<path d="M1455.5 1145.0 L1472.5 1145.0 L1472.5 1151.0 L1468.0 1154.5 L1468.0 1159.5 L1464.0 1164.0 L1460.0 1159.5 L1460.0 1154.5 L1455.5 1151.0 Z" fill="#0a0a0a"/>
<circle cx="427.8" cy="1164.0" r="10.3" fill="#e61a17"/>
<circle cx="520.0" cy="1160.0" r="10.3" fill="#e61a17"/>
<circle cx="571.0" cy="1156.0" r="10.3" fill="#e61a17"/>
<circle cx="708.0" cy="1159.0" r="10.3" fill="#e61a17"/>
<circle cx="968.9" cy="1161.0" r="10.3" fill="#e61a17"/>
<circle cx="1115.0" cy="1164.6" r="10.3" fill="#e61a17"/>
<path d="M465.5 882.0 L482.5 882.0 L482.5 888.0 L478.0 891.5 L478.0 896.5 L474.0 901.0 L470.0 896.5 L470.0 891.5 L465.5 888.0 Z" fill="#0a0a0a"/>
<path d="M665.5 903.5 L682.5 903.5 L682.5 909.5 L678.0 913.0 L678.0 918.0 L674.0 922.5 L670.0 918.0 L670.0 913.0 L665.5 909.5 Z" fill="#0a0a0a"/>
<path d="M770.5 888.5 L787.5 888.5 L787.5 894.5 L783.0 898.0 L783.0 903.0 L779.0 907.5 L775.0 903.0 L775.0 898.0 L770.5 894.5 Z" fill="#0a0a0a"/>
<path d="M852.9 874.1 L869.9 874.1 L869.9 880.1 L865.4 883.6 L865.4 888.6 L861.4 893.1 L857.4 888.6 L857.4 883.6 L852.9 880.1 Z" fill="#0a0a0a"/>
<path d="M941.7 885.1 L958.7 885.1 L958.7 891.1 L954.2 894.6 L954.2 899.6 L950.2 904.1 L946.2 899.6 L946.2 894.6 L941.7 891.1 Z" fill="#0a0a0a"/>
<path d="M1045.5 870.0 L1062.5 870.0 L1062.5 876.0 L1058.0 879.5 L1058.0 884.5 L1054.0 889.0 L1050.0 884.5 L1050.0 879.5 L1045.5 876.0 Z" fill="#0a0a0a"/>
<path d="M1068.5 872.2 L1085.5 872.2 L1085.5 878.2 L1081.0 881.7 L1081.0 886.7 L1077.0 891.2 L1073.0 886.7 L1073.0 881.7 L1068.5 878.2 Z" fill="#0a0a0a"/>
<path d="M1278.1 900.9 L1295.1 900.9 L1295.1 906.9 L1290.6 910.4 L1290.6 915.4 L1286.6 919.9 L1282.6 915.4 L1282.6 910.4 L1278.1 906.9 Z" fill="#0a0a0a"/>
<path d="M1360.3 899.3 L1377.3 899.3 L1377.3 905.3 L1372.8 908.8 L1372.8 913.8 L1368.8 918.3 L1364.8 913.8 L1364.8 908.8 L1360.3 905.3 Z" fill="#0a0a0a"/>
<path d="M1455.0 897.5 L1472.0 897.5 L1472.0 903.5 L1467.5 907.0 L1467.5 912.0 L1463.5 916.5 L1459.5 912.0 L1459.5 907.0 L1455.0 903.5 Z" fill="#0a0a0a"/>
<circle cx="425.6" cy="913.4" r="10.3" fill="#e61a17"/>
<circle cx="517.0" cy="907.0" r="10.3" fill="#e61a17"/>
<circle cx="569.0" cy="903.9" r="10.3" fill="#e61a17"/>
<circle cx="705.0" cy="904.8" r="10.3" fill="#e61a17"/>
<circle cx="968.3" cy="909.0" r="10.3" fill="#e61a17"/>
<circle cx="1113.8" cy="909.0" r="10.3" fill="#e61a17"/>
<path d="M466.2 589.5 L483.2 589.5 L483.2 595.5 L478.7 599.0 L478.7 604.0 L474.7 608.5 L470.7 604.0 L470.7 599.0 L466.2 595.5 Z" fill="#0a0a0a"/>
<path d="M617.0 284.5 L634.0 284.5 L634.0 290.5 L629.5 294.0 L629.5 299.0 L625.5 303.5 L621.5 299.0 L621.5 294.0 L617.0 290.5 Z" fill="#0a0a0a"/>
<path d="M665.5 602.0 L682.5 602.0 L682.5 608.0 L678.0 611.5 L678.0 616.5 L674.0 621.0 L670.0 616.5 L670.0 611.5 L665.5 608.0 Z" fill="#0a0a0a"/>
<path d="M772.2 586.1 L789.2 586.1 L789.2 592.1 L784.7 595.6 L784.7 600.6 L780.7 605.1 L776.7 600.6 L776.7 595.6 L772.2 592.1 Z" fill="#0a0a0a"/>
<path d="M853.8 576.5 L870.8 576.5 L870.8 582.5 L866.3 586.0 L866.3 591.0 L862.3 595.5 L858.3 591.0 L858.3 586.0 L853.8 582.5 Z" fill="#0a0a0a"/>
<path d="M941.9 582.0 L958.9 582.0 L958.9 588.0 L954.4 591.5 L954.4 596.5 L950.4 601.0 L946.4 596.5 L946.4 591.5 L941.9 588.0 Z" fill="#0a0a0a"/>
<path d="M1045.5 570.0 L1062.5 570.0 L1062.5 576.0 L1058.0 579.5 L1058.0 584.5 L1054.0 589.0 L1050.0 584.5 L1050.0 579.5 L1045.5 576.0 Z" fill="#0a0a0a"/>
<path d="M1069.3 570.0 L1086.3 570.0 L1086.3 576.0 L1081.8 579.5 L1081.8 584.5 L1077.8 589.0 L1073.8 584.5 L1073.8 579.5 L1069.3 576.0 Z" fill="#0a0a0a"/>
<path d="M1280.5 597.5 L1297.5 597.5 L1297.5 603.5 L1293.0 607.0 L1293.0 612.0 L1289.0 616.5 L1285.0 612.0 L1285.0 607.0 L1280.5 603.5 Z" fill="#0a0a0a"/>
<path d="M1362.5 594.5 L1379.5 594.5 L1379.5 600.5 L1375.0 604.0 L1375.0 609.0 L1371.0 613.5 L1367.0 609.0 L1367.0 604.0 L1362.5 600.5 Z" fill="#0a0a0a"/>
<path d="M1457.3 594.5 L1474.3 594.5 L1474.3 600.5 L1469.8 604.0 L1469.8 609.0 L1465.8 613.5 L1461.8 609.0 L1461.8 604.0 L1457.3 600.5 Z" fill="#0a0a0a"/>
<circle cx="426.0" cy="613.6" r="10.3" fill="#e61a17"/>
<circle cx="518.0" cy="605.7" r="10.3" fill="#e61a17"/>
<circle cx="568.7" cy="604.0" r="10.3" fill="#e61a17"/>
<circle cx="706.7" cy="605.4" r="10.3" fill="#e61a17"/>
<circle cx="968.2" cy="612.8" r="10.3" fill="#e61a17"/>
<circle cx="1114.5" cy="615.4" r="10.3" fill="#e61a17"/>
<path d="M469.5 222.5 L486.5 222.5 L486.5 228.5 L482.0 232.0 L482.0 237.0 L478.0 241.5 L474.0 237.0 L474.0 232.0 L469.5 228.5 Z" fill="#0a0a0a"/>
<path d="M618.5 66.5 L635.5 66.5 L635.5 72.5 L631.0 76.0 L631.0 81.0 L627.0 85.5 L623.0 81.0 L623.0 76.0 L618.5 72.5 Z" fill="#0a0a0a"/>
<path d="M669.5 226.5 L686.5 226.5 L686.5 232.5 L682.0 236.0 L682.0 241.0 L678.0 245.5 L674.0 241.0 L674.0 236.0 L669.5 232.5 Z" fill="#0a0a0a"/>
<path d="M774.0 217.5 L791.0 217.5 L791.0 223.5 L786.5 227.0 L786.5 232.0 L782.5 236.5 L778.5 232.0 L778.5 227.0 L774.0 223.5 Z" fill="#0a0a0a"/>
<path d="M856.0 209.5 L873.0 209.5 L873.0 215.5 L868.5 219.0 L868.5 224.0 L864.5 228.5 L860.5 224.0 L860.5 219.0 L856.0 215.5 Z" fill="#0a0a0a"/>
<path d="M943.9 211.5 L960.9 211.5 L960.9 217.5 L956.4 221.0 L956.4 226.0 L952.4 230.5 L948.4 226.0 L948.4 221.0 L943.9 217.5 Z" fill="#0a0a0a"/>
<path d="M1047.5 207.5 L1064.5 207.5 L1064.5 213.5 L1060.0 217.0 L1060.0 222.0 L1056.0 226.5 L1052.0 222.0 L1052.0 217.0 L1047.5 213.5 Z" fill="#0a0a0a"/>
<path d="M1071.9 207.5 L1088.9 207.5 L1088.9 213.5 L1084.4 217.0 L1084.4 222.0 L1080.4 226.5 L1076.4 222.0 L1076.4 217.0 L1071.9 213.5 Z" fill="#0a0a0a"/>
<path d="M1280.1 226.5 L1297.1 226.5 L1297.1 232.5 L1292.6 236.0 L1292.6 241.0 L1288.6 245.5 L1284.6 241.0 L1284.6 236.0 L1280.1 232.5 Z" fill="#0a0a0a"/>
<path d="M1362.0 230.5 L1379.0 230.5 L1379.0 236.5 L1374.5 240.0 L1374.5 245.0 L1370.5 249.5 L1366.5 245.0 L1366.5 240.0 L1362.0 236.5 Z" fill="#0a0a0a"/>
<path d="M1449.0 232.2 L1466.0 232.2 L1466.0 238.2 L1461.5 241.7 L1461.5 246.7 L1457.5 251.2 L1453.5 246.7 L1453.5 241.7 L1449.0 238.2 Z" fill="#0a0a0a"/>
<path d="M1301.5 86.0 L1320.5 86.0 L1320.5 92.0 L1315.0 95.5 L1315.0 100.5 L1311.0 105.0 L1307.0 100.5 L1307.0 95.5 L1301.5 92.0 Z" fill="#0a0a0a"/>
<circle cx="1310.0" cy="180.0" r="11.0" fill="#e61a17"/>
<text x="1341" y="110" font-size="70" fill="#0a0a0a" textLength="185" lengthAdjust="spacingAndGlyphs">calcite</text>
<text x="1339" y="192" font-size="67.5" fill="#e61a17" textLength="226" lengthAdjust="spacingAndGlyphs">vaterite</text>
<text x="1814.5" y="235" font-size="69.5" fill="#0a8a30" text-anchor="end">Group 4</text>
<text x="1813.5" y="611.5" font-size="69.5" fill="#08308f" text-anchor="end">Group 3</text>
<text x="1812.5" y="910.5" font-size="69.5" fill="#8c3f9b" text-anchor="end">Group 2</text>
<text x="1812.5" y="1158.5" font-size="68.5" fill="#484848" text-anchor="end">Group 1</text>
<text transform="translate(166.0 1344) scale(1 1.05)" font-size="70" fill="#0a0a0a" text-anchor="middle">10</text>
<text transform="translate(402.9 1344) scale(1 1.05)" font-size="70" fill="#0a0a0a" text-anchor="middle">20</text>
<text transform="translate(639.7 1344) scale(1 1.05)" font-size="70" fill="#0a0a0a" text-anchor="middle">30</text>
<text transform="translate(876.6 1344) scale(1 1.05)" font-size="70" fill="#0a0a0a" text-anchor="middle">40</text>
<text transform="translate(1113.4 1344) scale(1 1.05)" font-size="70" fill="#0a0a0a" text-anchor="middle">50</text>
<text transform="translate(1350.3 1344) scale(1 1.05)" font-size="70" fill="#0a0a0a" text-anchor="middle">60</text>
<text transform="translate(1587.2 1344) scale(1 1.05)" font-size="70" fill="#0a0a0a" text-anchor="middle">70</text>
<text transform="translate(1824.0 1344) scale(1 1.05)" font-size="70" fill="#0a0a0a" text-anchor="middle">80</text>
<text x="995" y="1462.5" font-size="69.5" fill="#0a0a0a" text-anchor="middle">2θ/degrees</text>
<text transform="translate(85 671) rotate(-90)" font-size="68.7" fill="#0a0a0a" text-anchor="middle">Intensity (A.U.)</text>
</g></svg></body></html>
